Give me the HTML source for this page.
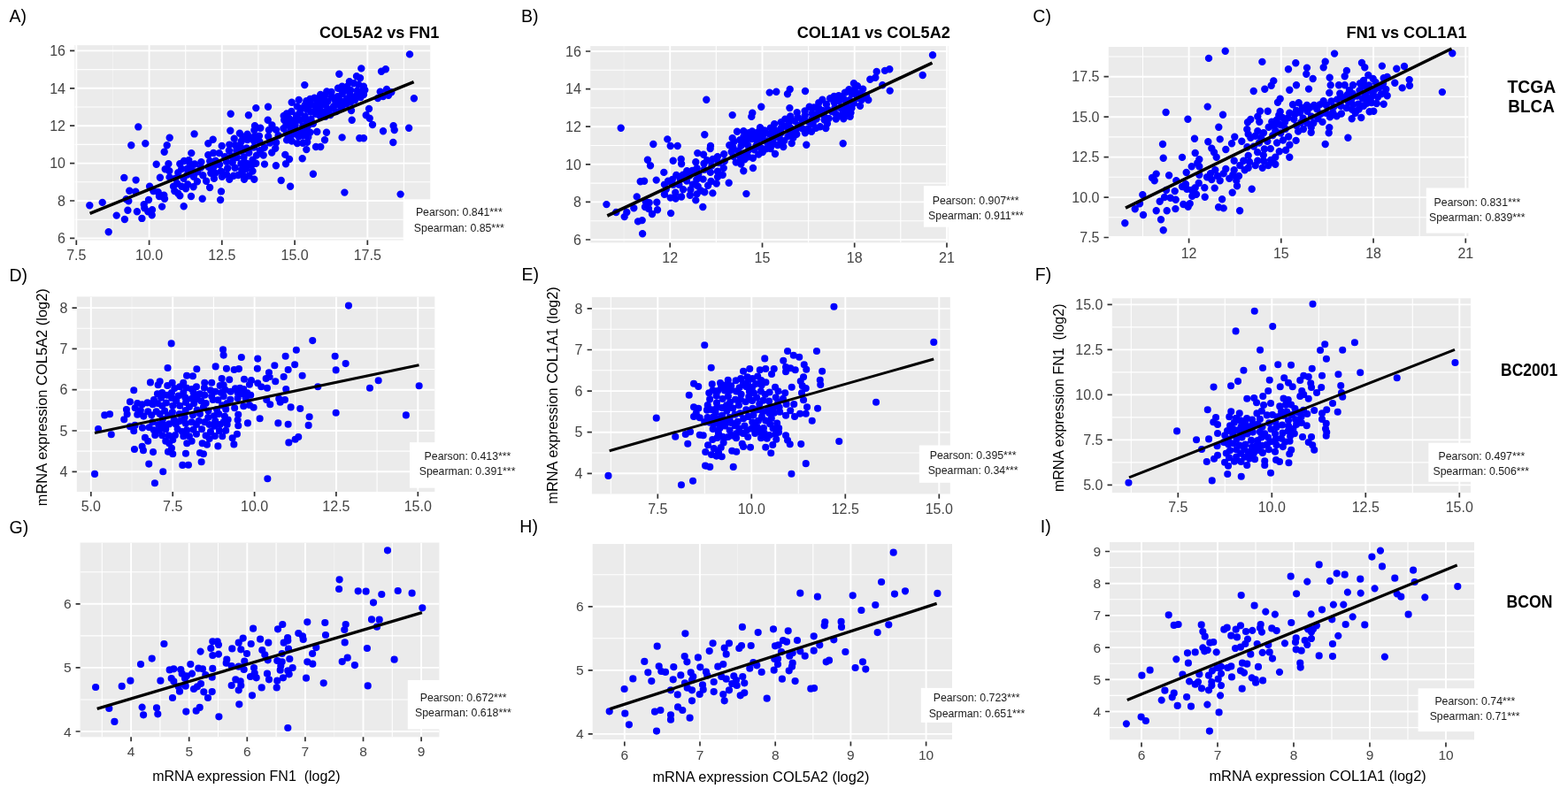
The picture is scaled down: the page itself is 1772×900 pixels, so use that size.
<!DOCTYPE html>
<html lang="en">
<head>
<meta charset="utf-8">
<title>Correlation of COL5A2, COL1A1 and FN1 mRNA expression</title>
<style>
html,body{margin:0;padding:0;background:#fff;}
body{width:1772px;height:900px;overflow:hidden;font-family:'Liberation Sans', Arial, Helvetica, sans-serif;}
svg{display:block;}
</style>
</head>
<body>
<svg width="1772" height="900" viewBox="0 0 1772 900" font-family="'Liberation Sans', Arial, Helvetica, sans-serif">
<rect width="1772" height="900" fill="#fff"/>
<g id="figure">
<g id="panel-A">
<clipPath id="clipA"><rect x="84.3" y="51.1" width="401.9" height="220.5"/></clipPath>
<rect x="84.3" y="51.1" width="401.9" height="220.5" fill="#ebebeb"/>
<g clip-path="url(#clipA)" stroke="#fff" fill="none"><path d="M209.7 51.1V271.6M291.9 51.1V271.6M456.4 51.1V271.6M84.3 248.2H486.2M84.3 205.8H486.2M84.3 163.4H486.2M84.3 121H486.2M84.3 78.6H486.2" stroke-width="1.1"/><path d="M127.4 51.1V271.6" stroke-width="1" stroke-opacity="0.4"/><path d="M86.3 51.1V271.6M168.6 51.1V271.6M250.8 51.1V271.6M333.1 51.1V271.6M415.3 51.1V271.6M84.3 269.4H486.2M84.3 227H486.2M84.3 184.6H486.2M84.3 142.2H486.2M84.3 99.8H486.2M84.3 57.4H486.2" stroke-width="1.9"/></g>
<path class="pts" fill="#0000ff" d="M152.1 143.4a4.2 4.2 0 1 0 8.4 0a4.2 4.2 0 1 0 -8.4 0zM160.1 162.3a4.2 4.2 0 1 0 8.4 0a4.2 4.2 0 1 0 -8.4 0zM144.1 164.3a4.2 4.2 0 1 0 8.4 0a4.2 4.2 0 1 0 -8.4 0zM187.5 155.7a4.2 4.2 0 1 0 8.4 0a4.2 4.2 0 1 0 -8.4 0zM184.5 164.3a4.2 4.2 0 1 0 8.4 0a4.2 4.2 0 1 0 -8.4 0zM215.4 151.4a4.2 4.2 0 1 0 8.4 0a4.2 4.2 0 1 0 -8.4 0zM236.5 157.7a4.2 4.2 0 1 0 8.4 0a4.2 4.2 0 1 0 -8.4 0zM231.1 162.3a4.2 4.2 0 1 0 8.4 0a4.2 4.2 0 1 0 -8.4 0zM246.5 165a4.2 4.2 0 1 0 8.4 0a4.2 4.2 0 1 0 -8.4 0zM256.5 128.7a4.2 4.2 0 1 0 8.4 0a4.2 4.2 0 1 0 -8.4 0zM276.7 130.3a4.2 4.2 0 1 0 8.4 0a4.2 4.2 0 1 0 -8.4 0zM285.1 122.1a4.2 4.2 0 1 0 8.4 0a4.2 4.2 0 1 0 -8.4 0zM256.1 147.7a4.2 4.2 0 1 0 8.4 0a4.2 4.2 0 1 0 -8.4 0zM266.7 150.7a4.2 4.2 0 1 0 8.4 0a4.2 4.2 0 1 0 -8.4 0zM275.4 151.7a4.2 4.2 0 1 0 8.4 0a4.2 4.2 0 1 0 -8.4 0zM260.5 156.7a4.2 4.2 0 1 0 8.4 0a4.2 4.2 0 1 0 -8.4 0zM283.8 142.3a4.2 4.2 0 1 0 8.4 0a4.2 4.2 0 1 0 -8.4 0zM268.5 159.7a4.2 4.2 0 1 0 8.4 0a4.2 4.2 0 1 0 -8.4 0zM261.8 164.3a4.2 4.2 0 1 0 8.4 0a4.2 4.2 0 1 0 -8.4 0zM279.8 155.7a4.2 4.2 0 1 0 8.4 0a4.2 4.2 0 1 0 -8.4 0zM283.8 154.3a4.2 4.2 0 1 0 8.4 0a4.2 4.2 0 1 0 -8.4 0zM181.5 171.7a4.2 4.2 0 1 0 8.4 0a4.2 4.2 0 1 0 -8.4 0zM212.1 173.1a4.2 4.2 0 1 0 8.4 0a4.2 4.2 0 1 0 -8.4 0zM172.5 185.7a4.2 4.2 0 1 0 8.4 0a4.2 4.2 0 1 0 -8.4 0zM186.2 185.3a4.2 4.2 0 1 0 8.4 0a4.2 4.2 0 1 0 -8.4 0zM182.5 191.3a4.2 4.2 0 1 0 8.4 0a4.2 4.2 0 1 0 -8.4 0zM187.1 193.3a4.2 4.2 0 1 0 8.4 0a4.2 4.2 0 1 0 -8.4 0zM199.1 185.3a4.2 4.2 0 1 0 8.4 0a4.2 4.2 0 1 0 -8.4 0zM203.8 182a4.2 4.2 0 1 0 8.4 0a4.2 4.2 0 1 0 -8.4 0zM209.1 181.3a4.2 4.2 0 1 0 8.4 0a4.2 4.2 0 1 0 -8.4 0zM210.5 186a4.2 4.2 0 1 0 8.4 0a4.2 4.2 0 1 0 -8.4 0zM136.1 200.9a4.2 4.2 0 1 0 8.4 0a4.2 4.2 0 1 0 -8.4 0zM149.4 203.6a4.2 4.2 0 1 0 8.4 0a4.2 4.2 0 1 0 -8.4 0zM176.7 200.7a4.2 4.2 0 1 0 8.4 0a4.2 4.2 0 1 0 -8.4 0zM197.1 195.3a4.2 4.2 0 1 0 8.4 0a4.2 4.2 0 1 0 -8.4 0zM164.9 210.7a4.2 4.2 0 1 0 8.4 0a4.2 4.2 0 1 0 -8.4 0zM142.1 215.7a4.2 4.2 0 1 0 8.4 0a4.2 4.2 0 1 0 -8.4 0zM149.1 216.7a4.2 4.2 0 1 0 8.4 0a4.2 4.2 0 1 0 -8.4 0zM97.1 232.3a4.2 4.2 0 1 0 8.4 0a4.2 4.2 0 1 0 -8.4 0zM111.5 228.9a4.2 4.2 0 1 0 8.4 0a4.2 4.2 0 1 0 -8.4 0zM138.5 225.3a4.2 4.2 0 1 0 8.4 0a4.2 4.2 0 1 0 -8.4 0zM141.1 227.3a4.2 4.2 0 1 0 8.4 0a4.2 4.2 0 1 0 -8.4 0zM163.8 226a4.2 4.2 0 1 0 8.4 0a4.2 4.2 0 1 0 -8.4 0zM158.5 231.3a4.2 4.2 0 1 0 8.4 0a4.2 4.2 0 1 0 -8.4 0zM159.1 235.3a4.2 4.2 0 1 0 8.4 0a4.2 4.2 0 1 0 -8.4 0zM140.2 237.7a4.2 4.2 0 1 0 8.4 0a4.2 4.2 0 1 0 -8.4 0zM150.7 239.3a4.2 4.2 0 1 0 8.4 0a4.2 4.2 0 1 0 -8.4 0zM127.5 243.6a4.2 4.2 0 1 0 8.4 0a4.2 4.2 0 1 0 -8.4 0zM136.7 248a4.2 4.2 0 1 0 8.4 0a4.2 4.2 0 1 0 -8.4 0zM156.2 246.9a4.2 4.2 0 1 0 8.4 0a4.2 4.2 0 1 0 -8.4 0zM163.1 239.3a4.2 4.2 0 1 0 8.4 0a4.2 4.2 0 1 0 -8.4 0zM167.8 237.3a4.2 4.2 0 1 0 8.4 0a4.2 4.2 0 1 0 -8.4 0zM167.5 243.3a4.2 4.2 0 1 0 8.4 0a4.2 4.2 0 1 0 -8.4 0zM178.9 233.6a4.2 4.2 0 1 0 8.4 0a4.2 4.2 0 1 0 -8.4 0zM118.5 262.3a4.2 4.2 0 1 0 8.4 0a4.2 4.2 0 1 0 -8.4 0zM169.1 216a4.2 4.2 0 1 0 8.4 0a4.2 4.2 0 1 0 -8.4 0zM174.5 217.3a4.2 4.2 0 1 0 8.4 0a4.2 4.2 0 1 0 -8.4 0zM175.8 222a4.2 4.2 0 1 0 8.4 0a4.2 4.2 0 1 0 -8.4 0zM181.1 220.7a4.2 4.2 0 1 0 8.4 0a4.2 4.2 0 1 0 -8.4 0zM181.8 224.7a4.2 4.2 0 1 0 8.4 0a4.2 4.2 0 1 0 -8.4 0zM191.8 210.7a4.2 4.2 0 1 0 8.4 0a4.2 4.2 0 1 0 -8.4 0zM193.1 216a4.2 4.2 0 1 0 8.4 0a4.2 4.2 0 1 0 -8.4 0zM197.1 218.7a4.2 4.2 0 1 0 8.4 0a4.2 4.2 0 1 0 -8.4 0zM199.1 221.3a4.2 4.2 0 1 0 8.4 0a4.2 4.2 0 1 0 -8.4 0zM201.1 210.7a4.2 4.2 0 1 0 8.4 0a4.2 4.2 0 1 0 -8.4 0zM205.8 213.3a4.2 4.2 0 1 0 8.4 0a4.2 4.2 0 1 0 -8.4 0zM211.8 222a4.2 4.2 0 1 0 8.4 0a4.2 4.2 0 1 0 -8.4 0zM203.5 233.3a4.2 4.2 0 1 0 8.4 0a4.2 4.2 0 1 0 -8.4 0zM224.5 224.7a4.2 4.2 0 1 0 8.4 0a4.2 4.2 0 1 0 -8.4 0zM232.9 212a4.2 4.2 0 1 0 8.4 0a4.2 4.2 0 1 0 -8.4 0zM245.8 216.4a4.2 4.2 0 1 0 8.4 0a4.2 4.2 0 1 0 -8.4 0zM244.9 226a4.2 4.2 0 1 0 8.4 0a4.2 4.2 0 1 0 -8.4 0zM239.1 195.7a4.2 4.2 0 1 0 8.4 0a4.2 4.2 0 1 0 -8.4 0zM251.8 197.3a4.2 4.2 0 1 0 8.4 0a4.2 4.2 0 1 0 -8.4 0zM255.1 202.7a4.2 4.2 0 1 0 8.4 0a4.2 4.2 0 1 0 -8.4 0zM259.8 198.7a4.2 4.2 0 1 0 8.4 0a4.2 4.2 0 1 0 -8.4 0zM265.1 198a4.2 4.2 0 1 0 8.4 0a4.2 4.2 0 1 0 -8.4 0zM269.1 192a4.2 4.2 0 1 0 8.4 0a4.2 4.2 0 1 0 -8.4 0zM271.8 202.7a4.2 4.2 0 1 0 8.4 0a4.2 4.2 0 1 0 -8.4 0zM277.1 198.7a4.2 4.2 0 1 0 8.4 0a4.2 4.2 0 1 0 -8.4 0zM283.1 202.7a4.2 4.2 0 1 0 8.4 0a4.2 4.2 0 1 0 -8.4 0zM285.1 184.7a4.2 4.2 0 1 0 8.4 0a4.2 4.2 0 1 0 -8.4 0zM458.8 61.4a4.2 4.2 0 1 0 8.4 0a4.2 4.2 0 1 0 -8.4 0zM404.1 77.4a4.2 4.2 0 1 0 8.4 0a4.2 4.2 0 1 0 -8.4 0zM426.8 80.7a4.2 4.2 0 1 0 8.4 0a4.2 4.2 0 1 0 -8.4 0zM431.7 78.3a4.2 4.2 0 1 0 8.4 0a4.2 4.2 0 1 0 -8.4 0zM379.1 83.7a4.2 4.2 0 1 0 8.4 0a4.2 4.2 0 1 0 -8.4 0zM340.1 96.1a4.2 4.2 0 1 0 8.4 0a4.2 4.2 0 1 0 -8.4 0zM398.8 86.3a4.2 4.2 0 1 0 8.4 0a4.2 4.2 0 1 0 -8.4 0zM402.8 88.3a4.2 4.2 0 1 0 8.4 0a4.2 4.2 0 1 0 -8.4 0zM408.1 101.7a4.2 4.2 0 1 0 8.4 0a4.2 4.2 0 1 0 -8.4 0zM406.8 107a4.2 4.2 0 1 0 8.4 0a4.2 4.2 0 1 0 -8.4 0zM463.7 111.3a4.2 4.2 0 1 0 8.4 0a4.2 4.2 0 1 0 -8.4 0zM425.5 103.7a4.2 4.2 0 1 0 8.4 0a4.2 4.2 0 1 0 -8.4 0zM432.8 101a4.2 4.2 0 1 0 8.4 0a4.2 4.2 0 1 0 -8.4 0zM438.1 104.3a4.2 4.2 0 1 0 8.4 0a4.2 4.2 0 1 0 -8.4 0zM434.8 107.7a4.2 4.2 0 1 0 8.4 0a4.2 4.2 0 1 0 -8.4 0zM428.8 109a4.2 4.2 0 1 0 8.4 0a4.2 4.2 0 1 0 -8.4 0zM422.8 111a4.2 4.2 0 1 0 8.4 0a4.2 4.2 0 1 0 -8.4 0zM412.8 123a4.2 4.2 0 1 0 8.4 0a4.2 4.2 0 1 0 -8.4 0zM409.5 130.3a4.2 4.2 0 1 0 8.4 0a4.2 4.2 0 1 0 -8.4 0zM413.5 133.7a4.2 4.2 0 1 0 8.4 0a4.2 4.2 0 1 0 -8.4 0zM416.8 141a4.2 4.2 0 1 0 8.4 0a4.2 4.2 0 1 0 -8.4 0zM393.5 135.7a4.2 4.2 0 1 0 8.4 0a4.2 4.2 0 1 0 -8.4 0zM392.8 125a4.2 4.2 0 1 0 8.4 0a4.2 4.2 0 1 0 -8.4 0zM428.8 148.3a4.2 4.2 0 1 0 8.4 0a4.2 4.2 0 1 0 -8.4 0zM440.4 142.3a4.2 4.2 0 1 0 8.4 0a4.2 4.2 0 1 0 -8.4 0zM441.5 147a4.2 4.2 0 1 0 8.4 0a4.2 4.2 0 1 0 -8.4 0zM457.9 144.7a4.2 4.2 0 1 0 8.4 0a4.2 4.2 0 1 0 -8.4 0zM440.1 161a4.2 4.2 0 1 0 8.4 0a4.2 4.2 0 1 0 -8.4 0zM402.1 156.3a4.2 4.2 0 1 0 8.4 0a4.2 4.2 0 1 0 -8.4 0zM406.8 156.3a4.2 4.2 0 1 0 8.4 0a4.2 4.2 0 1 0 -8.4 0zM382.4 155.4a4.2 4.2 0 1 0 8.4 0a4.2 4.2 0 1 0 -8.4 0zM364.8 149.7a4.2 4.2 0 1 0 8.4 0a4.2 4.2 0 1 0 -8.4 0zM362.8 158.3a4.2 4.2 0 1 0 8.4 0a4.2 4.2 0 1 0 -8.4 0zM354.1 149a4.2 4.2 0 1 0 8.4 0a4.2 4.2 0 1 0 -8.4 0zM298.8 120.7a4.2 4.2 0 1 0 8.4 0a4.2 4.2 0 1 0 -8.4 0zM298.5 135.7a4.2 4.2 0 1 0 8.4 0a4.2 4.2 0 1 0 -8.4 0zM316.5 131a4.2 4.2 0 1 0 8.4 0a4.2 4.2 0 1 0 -8.4 0zM325.5 115.7a4.2 4.2 0 1 0 8.4 0a4.2 4.2 0 1 0 -8.4 0zM333.5 113a4.2 4.2 0 1 0 8.4 0a4.2 4.2 0 1 0 -8.4 0zM342.1 114.3a4.2 4.2 0 1 0 8.4 0a4.2 4.2 0 1 0 -8.4 0zM352.8 166a4.2 4.2 0 1 0 8.4 0a4.2 4.2 0 1 0 -8.4 0zM358.1 166a4.2 4.2 0 1 0 8.4 0a4.2 4.2 0 1 0 -8.4 0zM342.1 169.1a4.2 4.2 0 1 0 8.4 0a4.2 4.2 0 1 0 -8.4 0zM337.5 179.3a4.2 4.2 0 1 0 8.4 0a4.2 4.2 0 1 0 -8.4 0zM318.1 174.9a4.2 4.2 0 1 0 8.4 0a4.2 4.2 0 1 0 -8.4 0zM322.8 180a4.2 4.2 0 1 0 8.4 0a4.2 4.2 0 1 0 -8.4 0zM318.8 185.3a4.2 4.2 0 1 0 8.4 0a4.2 4.2 0 1 0 -8.4 0zM307.7 187.3a4.2 4.2 0 1 0 8.4 0a4.2 4.2 0 1 0 -8.4 0zM294.8 185.6a4.2 4.2 0 1 0 8.4 0a4.2 4.2 0 1 0 -8.4 0zM349.7 196.7a4.2 4.2 0 1 0 8.4 0a4.2 4.2 0 1 0 -8.4 0zM313.5 204a4.2 4.2 0 1 0 8.4 0a4.2 4.2 0 1 0 -8.4 0zM323.9 210.7a4.2 4.2 0 1 0 8.4 0a4.2 4.2 0 1 0 -8.4 0zM385.2 217.6a4.2 4.2 0 1 0 8.4 0a4.2 4.2 0 1 0 -8.4 0zM448.4 219.6a4.2 4.2 0 1 0 8.4 0a4.2 4.2 0 1 0 -8.4 0zM329.4 141.8a4.2 4.2 0 1 0 8.4 0a4.2 4.2 0 1 0 -8.4 0zM375.8 126.1a4.2 4.2 0 1 0 8.4 0a4.2 4.2 0 1 0 -8.4 0zM334.4 149.5a4.2 4.2 0 1 0 8.4 0a4.2 4.2 0 1 0 -8.4 0zM363 108a4.2 4.2 0 1 0 8.4 0a4.2 4.2 0 1 0 -8.4 0zM391.5 107.7a4.2 4.2 0 1 0 8.4 0a4.2 4.2 0 1 0 -8.4 0zM328.4 151.4a4.2 4.2 0 1 0 8.4 0a4.2 4.2 0 1 0 -8.4 0zM325.5 159.6a4.2 4.2 0 1 0 8.4 0a4.2 4.2 0 1 0 -8.4 0zM357.8 131.5a4.2 4.2 0 1 0 8.4 0a4.2 4.2 0 1 0 -8.4 0zM347 126.5a4.2 4.2 0 1 0 8.4 0a4.2 4.2 0 1 0 -8.4 0zM398.6 107.9a4.2 4.2 0 1 0 8.4 0a4.2 4.2 0 1 0 -8.4 0zM325.2 125.9a4.2 4.2 0 1 0 8.4 0a4.2 4.2 0 1 0 -8.4 0zM353.5 117.6a4.2 4.2 0 1 0 8.4 0a4.2 4.2 0 1 0 -8.4 0zM362.1 127a4.2 4.2 0 1 0 8.4 0a4.2 4.2 0 1 0 -8.4 0zM335 135.8a4.2 4.2 0 1 0 8.4 0a4.2 4.2 0 1 0 -8.4 0zM347.3 134.9a4.2 4.2 0 1 0 8.4 0a4.2 4.2 0 1 0 -8.4 0zM319.6 151.1a4.2 4.2 0 1 0 8.4 0a4.2 4.2 0 1 0 -8.4 0zM399.6 102.5a4.2 4.2 0 1 0 8.4 0a4.2 4.2 0 1 0 -8.4 0zM395.7 94.2a4.2 4.2 0 1 0 8.4 0a4.2 4.2 0 1 0 -8.4 0zM338 161.9a4.2 4.2 0 1 0 8.4 0a4.2 4.2 0 1 0 -8.4 0zM396.9 113.3a4.2 4.2 0 1 0 8.4 0a4.2 4.2 0 1 0 -8.4 0zM370.8 109.5a4.2 4.2 0 1 0 8.4 0a4.2 4.2 0 1 0 -8.4 0zM377.8 99.8a4.2 4.2 0 1 0 8.4 0a4.2 4.2 0 1 0 -8.4 0zM366.3 114.5a4.2 4.2 0 1 0 8.4 0a4.2 4.2 0 1 0 -8.4 0zM338.1 142.4a4.2 4.2 0 1 0 8.4 0a4.2 4.2 0 1 0 -8.4 0zM406.7 97.7a4.2 4.2 0 1 0 8.4 0a4.2 4.2 0 1 0 -8.4 0zM343.7 142.6a4.2 4.2 0 1 0 8.4 0a4.2 4.2 0 1 0 -8.4 0zM364.2 119.4a4.2 4.2 0 1 0 8.4 0a4.2 4.2 0 1 0 -8.4 0zM343 160.8a4.2 4.2 0 1 0 8.4 0a4.2 4.2 0 1 0 -8.4 0zM382.6 105.7a4.2 4.2 0 1 0 8.4 0a4.2 4.2 0 1 0 -8.4 0zM338.2 153.5a4.2 4.2 0 1 0 8.4 0a4.2 4.2 0 1 0 -8.4 0zM340.5 118.6a4.2 4.2 0 1 0 8.4 0a4.2 4.2 0 1 0 -8.4 0zM351.1 110.7a4.2 4.2 0 1 0 8.4 0a4.2 4.2 0 1 0 -8.4 0zM331.7 162.1a4.2 4.2 0 1 0 8.4 0a4.2 4.2 0 1 0 -8.4 0zM317 135.7a4.2 4.2 0 1 0 8.4 0a4.2 4.2 0 1 0 -8.4 0zM331.6 120.4a4.2 4.2 0 1 0 8.4 0a4.2 4.2 0 1 0 -8.4 0zM392.1 115.6a4.2 4.2 0 1 0 8.4 0a4.2 4.2 0 1 0 -8.4 0zM342.5 137.2a4.2 4.2 0 1 0 8.4 0a4.2 4.2 0 1 0 -8.4 0zM401 95.6a4.2 4.2 0 1 0 8.4 0a4.2 4.2 0 1 0 -8.4 0zM319.8 128.5a4.2 4.2 0 1 0 8.4 0a4.2 4.2 0 1 0 -8.4 0zM330.7 130.6a4.2 4.2 0 1 0 8.4 0a4.2 4.2 0 1 0 -8.4 0zM377.3 109.2a4.2 4.2 0 1 0 8.4 0a4.2 4.2 0 1 0 -8.4 0zM381.8 121.2a4.2 4.2 0 1 0 8.4 0a4.2 4.2 0 1 0 -8.4 0zM358 106.9a4.2 4.2 0 1 0 8.4 0a4.2 4.2 0 1 0 -8.4 0zM370.3 103.9a4.2 4.2 0 1 0 8.4 0a4.2 4.2 0 1 0 -8.4 0zM324.2 139.8a4.2 4.2 0 1 0 8.4 0a4.2 4.2 0 1 0 -8.4 0zM342.3 123.6a4.2 4.2 0 1 0 8.4 0a4.2 4.2 0 1 0 -8.4 0zM374.8 113.7a4.2 4.2 0 1 0 8.4 0a4.2 4.2 0 1 0 -8.4 0zM340.6 148.8a4.2 4.2 0 1 0 8.4 0a4.2 4.2 0 1 0 -8.4 0zM388.2 97.6a4.2 4.2 0 1 0 8.4 0a4.2 4.2 0 1 0 -8.4 0zM372.9 120.1a4.2 4.2 0 1 0 8.4 0a4.2 4.2 0 1 0 -8.4 0zM319.9 158.4a4.2 4.2 0 1 0 8.4 0a4.2 4.2 0 1 0 -8.4 0zM380.8 113.9a4.2 4.2 0 1 0 8.4 0a4.2 4.2 0 1 0 -8.4 0zM363.5 131.7a4.2 4.2 0 1 0 8.4 0a4.2 4.2 0 1 0 -8.4 0zM336.5 122.5a4.2 4.2 0 1 0 8.4 0a4.2 4.2 0 1 0 -8.4 0zM346.2 149.8a4.2 4.2 0 1 0 8.4 0a4.2 4.2 0 1 0 -8.4 0zM387.8 111.5a4.2 4.2 0 1 0 8.4 0a4.2 4.2 0 1 0 -8.4 0zM322.3 133.8a4.2 4.2 0 1 0 8.4 0a4.2 4.2 0 1 0 -8.4 0zM347.2 118.2a4.2 4.2 0 1 0 8.4 0a4.2 4.2 0 1 0 -8.4 0zM344.1 154.9a4.2 4.2 0 1 0 8.4 0a4.2 4.2 0 1 0 -8.4 0zM392 102a4.2 4.2 0 1 0 8.4 0a4.2 4.2 0 1 0 -8.4 0zM324.4 147.3a4.2 4.2 0 1 0 8.4 0a4.2 4.2 0 1 0 -8.4 0zM368.3 124.1a4.2 4.2 0 1 0 8.4 0a4.2 4.2 0 1 0 -8.4 0zM356 111.6a4.2 4.2 0 1 0 8.4 0a4.2 4.2 0 1 0 -8.4 0zM360.4 114.6a4.2 4.2 0 1 0 8.4 0a4.2 4.2 0 1 0 -8.4 0zM340.4 131.4a4.2 4.2 0 1 0 8.4 0a4.2 4.2 0 1 0 -8.4 0zM353.1 122.5a4.2 4.2 0 1 0 8.4 0a4.2 4.2 0 1 0 -8.4 0zM369.1 130.1a4.2 4.2 0 1 0 8.4 0a4.2 4.2 0 1 0 -8.4 0zM316.2 145.3a4.2 4.2 0 1 0 8.4 0a4.2 4.2 0 1 0 -8.4 0zM333.3 154.5a4.2 4.2 0 1 0 8.4 0a4.2 4.2 0 1 0 -8.4 0zM387.3 117.6a4.2 4.2 0 1 0 8.4 0a4.2 4.2 0 1 0 -8.4 0zM334.8 127.2a4.2 4.2 0 1 0 8.4 0a4.2 4.2 0 1 0 -8.4 0zM349.7 139.7a4.2 4.2 0 1 0 8.4 0a4.2 4.2 0 1 0 -8.4 0zM352.6 128.7a4.2 4.2 0 1 0 8.4 0a4.2 4.2 0 1 0 -8.4 0zM319.3 141.1a4.2 4.2 0 1 0 8.4 0a4.2 4.2 0 1 0 -8.4 0zM403.4 110.1a4.2 4.2 0 1 0 8.4 0a4.2 4.2 0 1 0 -8.4 0zM377.7 117.7a4.2 4.2 0 1 0 8.4 0a4.2 4.2 0 1 0 -8.4 0zM357.9 120.2a4.2 4.2 0 1 0 8.4 0a4.2 4.2 0 1 0 -8.4 0zM386.1 102.2a4.2 4.2 0 1 0 8.4 0a4.2 4.2 0 1 0 -8.4 0zM323.9 154.7a4.2 4.2 0 1 0 8.4 0a4.2 4.2 0 1 0 -8.4 0zM357.1 126a4.2 4.2 0 1 0 8.4 0a4.2 4.2 0 1 0 -8.4 0zM382.4 97.6a4.2 4.2 0 1 0 8.4 0a4.2 4.2 0 1 0 -8.4 0zM328 136.2a4.2 4.2 0 1 0 8.4 0a4.2 4.2 0 1 0 -8.4 0zM404.4 103.5a4.2 4.2 0 1 0 8.4 0a4.2 4.2 0 1 0 -8.4 0zM346.3 112a4.2 4.2 0 1 0 8.4 0a4.2 4.2 0 1 0 -8.4 0zM390.7 92.1a4.2 4.2 0 1 0 8.4 0a4.2 4.2 0 1 0 -8.4 0zM365.1 103.5a4.2 4.2 0 1 0 8.4 0a4.2 4.2 0 1 0 -8.4 0zM307.8 146.9a4.2 4.2 0 1 0 8.4 0a4.2 4.2 0 1 0 -8.4 0zM299 154.2a4.2 4.2 0 1 0 8.4 0a4.2 4.2 0 1 0 -8.4 0zM307.9 161.2a4.2 4.2 0 1 0 8.4 0a4.2 4.2 0 1 0 -8.4 0zM274.5 184.7a4.2 4.2 0 1 0 8.4 0a4.2 4.2 0 1 0 -8.4 0zM225.1 198.2a4.2 4.2 0 1 0 8.4 0a4.2 4.2 0 1 0 -8.4 0zM203.3 201.7a4.2 4.2 0 1 0 8.4 0a4.2 4.2 0 1 0 -8.4 0zM249.9 177.1a4.2 4.2 0 1 0 8.4 0a4.2 4.2 0 1 0 -8.4 0zM237.5 188.5a4.2 4.2 0 1 0 8.4 0a4.2 4.2 0 1 0 -8.4 0zM233 182.3a4.2 4.2 0 1 0 8.4 0a4.2 4.2 0 1 0 -8.4 0zM223.2 183.3a4.2 4.2 0 1 0 8.4 0a4.2 4.2 0 1 0 -8.4 0zM254.7 170.3a4.2 4.2 0 1 0 8.4 0a4.2 4.2 0 1 0 -8.4 0zM271.3 177.9a4.2 4.2 0 1 0 8.4 0a4.2 4.2 0 1 0 -8.4 0zM255.1 163.6a4.2 4.2 0 1 0 8.4 0a4.2 4.2 0 1 0 -8.4 0zM237.7 201.9a4.2 4.2 0 1 0 8.4 0a4.2 4.2 0 1 0 -8.4 0zM303 172.5a4.2 4.2 0 1 0 8.4 0a4.2 4.2 0 1 0 -8.4 0zM293.5 175.5a4.2 4.2 0 1 0 8.4 0a4.2 4.2 0 1 0 -8.4 0zM245.7 193.8a4.2 4.2 0 1 0 8.4 0a4.2 4.2 0 1 0 -8.4 0zM207.1 191a4.2 4.2 0 1 0 8.4 0a4.2 4.2 0 1 0 -8.4 0zM234.1 195.7a4.2 4.2 0 1 0 8.4 0a4.2 4.2 0 1 0 -8.4 0zM277.1 172.8a4.2 4.2 0 1 0 8.4 0a4.2 4.2 0 1 0 -8.4 0zM228.9 204.8a4.2 4.2 0 1 0 8.4 0a4.2 4.2 0 1 0 -8.4 0zM282.6 166.6a4.2 4.2 0 1 0 8.4 0a4.2 4.2 0 1 0 -8.4 0zM289.2 160.2a4.2 4.2 0 1 0 8.4 0a4.2 4.2 0 1 0 -8.4 0zM290.1 144.7a4.2 4.2 0 1 0 8.4 0a4.2 4.2 0 1 0 -8.4 0zM246.7 199.8a4.2 4.2 0 1 0 8.4 0a4.2 4.2 0 1 0 -8.4 0zM243.9 186.1a4.2 4.2 0 1 0 8.4 0a4.2 4.2 0 1 0 -8.4 0zM218.7 205.2a4.2 4.2 0 1 0 8.4 0a4.2 4.2 0 1 0 -8.4 0zM253 190.2a4.2 4.2 0 1 0 8.4 0a4.2 4.2 0 1 0 -8.4 0zM258.5 183.8a4.2 4.2 0 1 0 8.4 0a4.2 4.2 0 1 0 -8.4 0zM194.1 201.8a4.2 4.2 0 1 0 8.4 0a4.2 4.2 0 1 0 -8.4 0zM214.7 199.9a4.2 4.2 0 1 0 8.4 0a4.2 4.2 0 1 0 -8.4 0zM294.6 166.8a4.2 4.2 0 1 0 8.4 0a4.2 4.2 0 1 0 -8.4 0zM261.4 189.8a4.2 4.2 0 1 0 8.4 0a4.2 4.2 0 1 0 -8.4 0zM281.3 193.5a4.2 4.2 0 1 0 8.4 0a4.2 4.2 0 1 0 -8.4 0zM237 173a4.2 4.2 0 1 0 8.4 0a4.2 4.2 0 1 0 -8.4 0zM222.8 189.5a4.2 4.2 0 1 0 8.4 0a4.2 4.2 0 1 0 -8.4 0zM285.8 175.6a4.2 4.2 0 1 0 8.4 0a4.2 4.2 0 1 0 -8.4 0zM274.5 167.4a4.2 4.2 0 1 0 8.4 0a4.2 4.2 0 1 0 -8.4 0zM208 208.5a4.2 4.2 0 1 0 8.4 0a4.2 4.2 0 1 0 -8.4 0zM218.8 194.3a4.2 4.2 0 1 0 8.4 0a4.2 4.2 0 1 0 -8.4 0zM282.9 159.5a4.2 4.2 0 1 0 8.4 0a4.2 4.2 0 1 0 -8.4 0zM231.5 188.7a4.2 4.2 0 1 0 8.4 0a4.2 4.2 0 1 0 -8.4 0zM270.4 198a4.2 4.2 0 1 0 8.4 0a4.2 4.2 0 1 0 -8.4 0zM201 191a4.2 4.2 0 1 0 8.4 0a4.2 4.2 0 1 0 -8.4 0zM299.7 147a4.2 4.2 0 1 0 8.4 0a4.2 4.2 0 1 0 -8.4 0zM269.3 171a4.2 4.2 0 1 0 8.4 0a4.2 4.2 0 1 0 -8.4 0zM300.9 161.6a4.2 4.2 0 1 0 8.4 0a4.2 4.2 0 1 0 -8.4 0zM215.8 185.5a4.2 4.2 0 1 0 8.4 0a4.2 4.2 0 1 0 -8.4 0zM239.4 181.7a4.2 4.2 0 1 0 8.4 0a4.2 4.2 0 1 0 -8.4 0zM303.2 141.5a4.2 4.2 0 1 0 8.4 0a4.2 4.2 0 1 0 -8.4 0zM288.7 153.7a4.2 4.2 0 1 0 8.4 0a4.2 4.2 0 1 0 -8.4 0zM268.2 185.1a4.2 4.2 0 1 0 8.4 0a4.2 4.2 0 1 0 -8.4 0zM243.6 173.1a4.2 4.2 0 1 0 8.4 0a4.2 4.2 0 1 0 -8.4 0zM187.4 200.4a4.2 4.2 0 1 0 8.4 0a4.2 4.2 0 1 0 -8.4 0zM231.1 175.2a4.2 4.2 0 1 0 8.4 0a4.2 4.2 0 1 0 -8.4 0zM263.8 178a4.2 4.2 0 1 0 8.4 0a4.2 4.2 0 1 0 -8.4 0zM310.4 153.3a4.2 4.2 0 1 0 8.4 0a4.2 4.2 0 1 0 -8.4 0zM275.4 158a4.2 4.2 0 1 0 8.4 0a4.2 4.2 0 1 0 -8.4 0zM214.4 211.3a4.2 4.2 0 1 0 8.4 0a4.2 4.2 0 1 0 -8.4 0zM283.2 147.3a4.2 4.2 0 1 0 8.4 0a4.2 4.2 0 1 0 -8.4 0zM307 167.8a4.2 4.2 0 1 0 8.4 0a4.2 4.2 0 1 0 -8.4 0zM289.5 170.1a4.2 4.2 0 1 0 8.4 0a4.2 4.2 0 1 0 -8.4 0zM212.9 192.7a4.2 4.2 0 1 0 8.4 0a4.2 4.2 0 1 0 -8.4 0zM196.1 207.5a4.2 4.2 0 1 0 8.4 0a4.2 4.2 0 1 0 -8.4 0zM257.6 176.5a4.2 4.2 0 1 0 8.4 0a4.2 4.2 0 1 0 -8.4 0zM251.7 182.8a4.2 4.2 0 1 0 8.4 0a4.2 4.2 0 1 0 -8.4 0zM281.3 180.8a4.2 4.2 0 1 0 8.4 0a4.2 4.2 0 1 0 -8.4 0zM280.2 186.9a4.2 4.2 0 1 0 8.4 0a4.2 4.2 0 1 0 -8.4 0zM207.5 197.4a4.2 4.2 0 1 0 8.4 0a4.2 4.2 0 1 0 -8.4 0zM270.1 154.4a4.2 4.2 0 1 0 8.4 0a4.2 4.2 0 1 0 -8.4 0zM263.1 170.2a4.2 4.2 0 1 0 8.4 0a4.2 4.2 0 1 0 -8.4 0zM267.2 164.4a4.2 4.2 0 1 0 8.4 0a4.2 4.2 0 1 0 -8.4 0zM274.1 190.9a4.2 4.2 0 1 0 8.4 0a4.2 4.2 0 1 0 -8.4 0z"/>
<line x1="101.6" y1="241.4" x2="467.6" y2="92.6" stroke="#000" stroke-width="3.6"/>
<rect x="455.8" y="225.3" width="124.2" height="49.7" fill="#fff"/>
<text x="518.8" y="243.7" font-size="12.3" text-anchor="middle" fill="#1a1a1a">Pearson: 0.841***</text>
<text x="518.8" y="261.5" font-size="12.3" text-anchor="middle" fill="#1a1a1a">Spearman: 0.85***</text>
<text x="86.3" y="294" font-size="16" text-anchor="middle" fill="#444">7.5</text>
<text x="168.6" y="294" font-size="16" text-anchor="middle" fill="#444">10.0</text>
<text x="250.8" y="294" font-size="16" text-anchor="middle" fill="#444">12.5</text>
<text x="333.1" y="294" font-size="16" text-anchor="middle" fill="#444">15.0</text>
<text x="415.3" y="294" font-size="16" text-anchor="middle" fill="#444">17.5</text>
<text x="74" y="275.1" font-size="16" text-anchor="end" fill="#444">6</text>
<text x="74" y="232.7" font-size="16" text-anchor="end" fill="#444">8</text>
<text x="74" y="190.3" font-size="16" text-anchor="end" fill="#444">10</text>
<text x="74" y="147.9" font-size="16" text-anchor="end" fill="#444">12</text>
<text x="74" y="105.5" font-size="16" text-anchor="end" fill="#444">14</text>
<text x="74" y="63.1" font-size="16" text-anchor="end" fill="#444">16</text>
<path d="M86.3 271.6v5.3M168.6 271.6v5.3M250.8 271.6v5.3M333.1 271.6v5.3M415.3 271.6v5.3M84.3 269.4h-5.3M84.3 227h-5.3M84.3 184.6h-5.3M84.3 142.2h-5.3M84.3 99.8h-5.3M84.3 57.4h-5.3" stroke="#333" stroke-width="1.7" fill="none"/>
<text x="10.5" y="25.2" font-size="19.5" fill="#000">A)</text>
<text x="361" y="43.2" font-size="19" font-weight="bold" textLength="135.4" lengthAdjust="spacingAndGlyphs" fill="#000">COL5A2 vs FN1</text>
</g>
<g id="panel-B">
<clipPath id="clipB"><rect x="667.2" y="52.1" width="404.4" height="222.3"/></clipPath>
<rect x="667.2" y="52.1" width="404.4" height="222.3" fill="#ebebeb"/>
<g clip-path="url(#clipB)" stroke="#fff" fill="none"><path d="M809.3 52.1V274.4M913.6 52.1V274.4M1017.8 52.1V274.4M667.2 249.7H1071.6M667.2 207.1H1071.6M667.2 164.5H1071.6M667.2 121.9H1071.6M667.2 79.3H1071.6" stroke-width="1.1"/><path d="M705.1 52.1V274.4" stroke-width="1" stroke-opacity="0.4"/><path d="M757.2 52.1V274.4M861.5 52.1V274.4M965.7 52.1V274.4M1070 52.1V274.4M667.2 271H1071.6M667.2 228.4H1071.6M667.2 185.8H1071.6M667.2 143.2H1071.6M667.2 100.6H1071.6M667.2 58H1071.6" stroke-width="1.9"/></g>
<path class="pts" fill="#0000ff" d="M697.5 144.7a4.2 4.2 0 1 0 8.4 0a4.2 4.2 0 1 0 -8.4 0zM794.1 112.7a4.2 4.2 0 1 0 8.4 0a4.2 4.2 0 1 0 -8.4 0zM823.5 130.1a4.2 4.2 0 1 0 8.4 0a4.2 4.2 0 1 0 -8.4 0zM846.1 127.7a4.2 4.2 0 1 0 8.4 0a4.2 4.2 0 1 0 -8.4 0zM845.1 131.9a4.2 4.2 0 1 0 8.4 0a4.2 4.2 0 1 0 -8.4 0zM856.1 120.7a4.2 4.2 0 1 0 8.4 0a4.2 4.2 0 1 0 -8.4 0zM865.5 104.6a4.2 4.2 0 1 0 8.4 0a4.2 4.2 0 1 0 -8.4 0zM792.1 152.3a4.2 4.2 0 1 0 8.4 0a4.2 4.2 0 1 0 -8.4 0zM750.1 157.4a4.2 4.2 0 1 0 8.4 0a4.2 4.2 0 1 0 -8.4 0zM734.1 163a4.2 4.2 0 1 0 8.4 0a4.2 4.2 0 1 0 -8.4 0zM854.8 144.3a4.2 4.2 0 1 0 8.4 0a4.2 4.2 0 1 0 -8.4 0zM828.8 148.7a4.2 4.2 0 1 0 8.4 0a4.2 4.2 0 1 0 -8.4 0zM836.1 148.3a4.2 4.2 0 1 0 8.4 0a4.2 4.2 0 1 0 -8.4 0zM842.1 150.3a4.2 4.2 0 1 0 8.4 0a4.2 4.2 0 1 0 -8.4 0zM848.1 151.7a4.2 4.2 0 1 0 8.4 0a4.2 4.2 0 1 0 -8.4 0zM823.5 156.3a4.2 4.2 0 1 0 8.4 0a4.2 4.2 0 1 0 -8.4 0zM832.1 158.3a4.2 4.2 0 1 0 8.4 0a4.2 4.2 0 1 0 -8.4 0zM838.8 159.7a4.2 4.2 0 1 0 8.4 0a4.2 4.2 0 1 0 -8.4 0zM845.5 157a4.2 4.2 0 1 0 8.4 0a4.2 4.2 0 1 0 -8.4 0zM852.1 154.3a4.2 4.2 0 1 0 8.4 0a4.2 4.2 0 1 0 -8.4 0zM858.8 151.7a4.2 4.2 0 1 0 8.4 0a4.2 4.2 0 1 0 -8.4 0zM865.5 151.7a4.2 4.2 0 1 0 8.4 0a4.2 4.2 0 1 0 -8.4 0zM820.1 164.3a4.2 4.2 0 1 0 8.4 0a4.2 4.2 0 1 0 -8.4 0zM753.5 165a4.2 4.2 0 1 0 8.4 0a4.2 4.2 0 1 0 -8.4 0zM761.5 165a4.2 4.2 0 1 0 8.4 0a4.2 4.2 0 1 0 -8.4 0zM798.8 165a4.2 4.2 0 1 0 8.4 0a4.2 4.2 0 1 0 -8.4 0zM798.5 168a4.2 4.2 0 1 0 8.4 0a4.2 4.2 0 1 0 -8.4 0zM784.1 173.1a4.2 4.2 0 1 0 8.4 0a4.2 4.2 0 1 0 -8.4 0zM790.8 174.7a4.2 4.2 0 1 0 8.4 0a4.2 4.2 0 1 0 -8.4 0zM727.7 180.7a4.2 4.2 0 1 0 8.4 0a4.2 4.2 0 1 0 -8.4 0zM730.8 187.3a4.2 4.2 0 1 0 8.4 0a4.2 4.2 0 1 0 -8.4 0zM756.5 181.7a4.2 4.2 0 1 0 8.4 0a4.2 4.2 0 1 0 -8.4 0zM765.5 180a4.2 4.2 0 1 0 8.4 0a4.2 4.2 0 1 0 -8.4 0zM765.9 185.3a4.2 4.2 0 1 0 8.4 0a4.2 4.2 0 1 0 -8.4 0zM782.1 183.3a4.2 4.2 0 1 0 8.4 0a4.2 4.2 0 1 0 -8.4 0zM794.8 181.3a4.2 4.2 0 1 0 8.4 0a4.2 4.2 0 1 0 -8.4 0zM746.1 194.9a4.2 4.2 0 1 0 8.4 0a4.2 4.2 0 1 0 -8.4 0zM760.1 198a4.2 4.2 0 1 0 8.4 0a4.2 4.2 0 1 0 -8.4 0zM719.5 205.3a4.2 4.2 0 1 0 8.4 0a4.2 4.2 0 1 0 -8.4 0zM723.9 204.7a4.2 4.2 0 1 0 8.4 0a4.2 4.2 0 1 0 -8.4 0zM737.5 203.6a4.2 4.2 0 1 0 8.4 0a4.2 4.2 0 1 0 -8.4 0zM750.8 204.7a4.2 4.2 0 1 0 8.4 0a4.2 4.2 0 1 0 -8.4 0zM772.1 193.3a4.2 4.2 0 1 0 8.4 0a4.2 4.2 0 1 0 -8.4 0zM715.5 222.4a4.2 4.2 0 1 0 8.4 0a4.2 4.2 0 1 0 -8.4 0zM681.2 231.1a4.2 4.2 0 1 0 8.4 0a4.2 4.2 0 1 0 -8.4 0zM692.1 240a4.2 4.2 0 1 0 8.4 0a4.2 4.2 0 1 0 -8.4 0zM704.1 240a4.2 4.2 0 1 0 8.4 0a4.2 4.2 0 1 0 -8.4 0zM701.5 245.1a4.2 4.2 0 1 0 8.4 0a4.2 4.2 0 1 0 -8.4 0zM712.1 235.3a4.2 4.2 0 1 0 8.4 0a4.2 4.2 0 1 0 -8.4 0zM725.5 228a4.2 4.2 0 1 0 8.4 0a4.2 4.2 0 1 0 -8.4 0zM729.5 229.3a4.2 4.2 0 1 0 8.4 0a4.2 4.2 0 1 0 -8.4 0zM724.8 234a4.2 4.2 0 1 0 8.4 0a4.2 4.2 0 1 0 -8.4 0zM728.8 236a4.2 4.2 0 1 0 8.4 0a4.2 4.2 0 1 0 -8.4 0zM738.1 228.7a4.2 4.2 0 1 0 8.4 0a4.2 4.2 0 1 0 -8.4 0zM738.8 237.3a4.2 4.2 0 1 0 8.4 0a4.2 4.2 0 1 0 -8.4 0zM732.8 242a4.2 4.2 0 1 0 8.4 0a4.2 4.2 0 1 0 -8.4 0zM716.8 250.4a4.2 4.2 0 1 0 8.4 0a4.2 4.2 0 1 0 -8.4 0zM721.5 249.1a4.2 4.2 0 1 0 8.4 0a4.2 4.2 0 1 0 -8.4 0zM721.9 264.3a4.2 4.2 0 1 0 8.4 0a4.2 4.2 0 1 0 -8.4 0zM753.9 241.1a4.2 4.2 0 1 0 8.4 0a4.2 4.2 0 1 0 -8.4 0zM790.1 234a4.2 4.2 0 1 0 8.4 0a4.2 4.2 0 1 0 -8.4 0zM782.1 226.4a4.2 4.2 0 1 0 8.4 0a4.2 4.2 0 1 0 -8.4 0zM801.2 218.4a4.2 4.2 0 1 0 8.4 0a4.2 4.2 0 1 0 -8.4 0zM792.1 217.3a4.2 4.2 0 1 0 8.4 0a4.2 4.2 0 1 0 -8.4 0zM839.2 219.1a4.2 4.2 0 1 0 8.4 0a4.2 4.2 0 1 0 -8.4 0zM819.5 206.7a4.2 4.2 0 1 0 8.4 0a4.2 4.2 0 1 0 -8.4 0zM846.8 190a4.2 4.2 0 1 0 8.4 0a4.2 4.2 0 1 0 -8.4 0zM836.1 193.3a4.2 4.2 0 1 0 8.4 0a4.2 4.2 0 1 0 -8.4 0zM1049.8 62.3a4.2 4.2 0 1 0 8.4 0a4.2 4.2 0 1 0 -8.4 0zM1038.5 85a4.2 4.2 0 1 0 8.4 0a4.2 4.2 0 1 0 -8.4 0zM1001.5 102.6a4.2 4.2 0 1 0 8.4 0a4.2 4.2 0 1 0 -8.4 0zM993.1 96.3a4.2 4.2 0 1 0 8.4 0a4.2 4.2 0 1 0 -8.4 0zM1001.1 78.3a4.2 4.2 0 1 0 8.4 0a4.2 4.2 0 1 0 -8.4 0zM995.8 79.9a4.2 4.2 0 1 0 8.4 0a4.2 4.2 0 1 0 -8.4 0zM986.5 81a4.2 4.2 0 1 0 8.4 0a4.2 4.2 0 1 0 -8.4 0zM979.1 89.7a4.2 4.2 0 1 0 8.4 0a4.2 4.2 0 1 0 -8.4 0zM985.1 87.7a4.2 4.2 0 1 0 8.4 0a4.2 4.2 0 1 0 -8.4 0zM960.7 94.3a4.2 4.2 0 1 0 8.4 0a4.2 4.2 0 1 0 -8.4 0zM905.8 103a4.2 4.2 0 1 0 8.4 0a4.2 4.2 0 1 0 -8.4 0zM888.5 101a4.2 4.2 0 1 0 8.4 0a4.2 4.2 0 1 0 -8.4 0zM885.8 106.3a4.2 4.2 0 1 0 8.4 0a4.2 4.2 0 1 0 -8.4 0zM873.1 103.7a4.2 4.2 0 1 0 8.4 0a4.2 4.2 0 1 0 -8.4 0zM888.2 122.1a4.2 4.2 0 1 0 8.4 0a4.2 4.2 0 1 0 -8.4 0zM948.5 162.3a4.2 4.2 0 1 0 8.4 0a4.2 4.2 0 1 0 -8.4 0zM907.1 163.7a4.2 4.2 0 1 0 8.4 0a4.2 4.2 0 1 0 -8.4 0zM929.1 145a4.2 4.2 0 1 0 8.4 0a4.2 4.2 0 1 0 -8.4 0zM956.5 131.7a4.2 4.2 0 1 0 8.4 0a4.2 4.2 0 1 0 -8.4 0zM949.1 134.3a4.2 4.2 0 1 0 8.4 0a4.2 4.2 0 1 0 -8.4 0zM967.8 119.7a4.2 4.2 0 1 0 8.4 0a4.2 4.2 0 1 0 -8.4 0zM977.1 113a4.2 4.2 0 1 0 8.4 0a4.2 4.2 0 1 0 -8.4 0zM871.8 174a4.2 4.2 0 1 0 8.4 0a4.2 4.2 0 1 0 -8.4 0zM881.1 166a4.2 4.2 0 1 0 8.4 0a4.2 4.2 0 1 0 -8.4 0zM890.5 162a4.2 4.2 0 1 0 8.4 0a4.2 4.2 0 1 0 -8.4 0zM866.5 168a4.2 4.2 0 1 0 8.4 0a4.2 4.2 0 1 0 -8.4 0zM874.5 164a4.2 4.2 0 1 0 8.4 0a4.2 4.2 0 1 0 -8.4 0zM961.6 101.1a4.2 4.2 0 1 0 8.4 0a4.2 4.2 0 1 0 -8.4 0zM913.5 134.2a4.2 4.2 0 1 0 8.4 0a4.2 4.2 0 1 0 -8.4 0zM932.4 134a4.2 4.2 0 1 0 8.4 0a4.2 4.2 0 1 0 -8.4 0zM940.4 128.9a4.2 4.2 0 1 0 8.4 0a4.2 4.2 0 1 0 -8.4 0zM949.3 112a4.2 4.2 0 1 0 8.4 0a4.2 4.2 0 1 0 -8.4 0zM822.5 171.8a4.2 4.2 0 1 0 8.4 0a4.2 4.2 0 1 0 -8.4 0zM921.1 116.2a4.2 4.2 0 1 0 8.4 0a4.2 4.2 0 1 0 -8.4 0zM836.2 154.4a4.2 4.2 0 1 0 8.4 0a4.2 4.2 0 1 0 -8.4 0zM872 147.4a4.2 4.2 0 1 0 8.4 0a4.2 4.2 0 1 0 -8.4 0zM952.5 117.2a4.2 4.2 0 1 0 8.4 0a4.2 4.2 0 1 0 -8.4 0zM971 100.6a4.2 4.2 0 1 0 8.4 0a4.2 4.2 0 1 0 -8.4 0zM908.7 145.7a4.2 4.2 0 1 0 8.4 0a4.2 4.2 0 1 0 -8.4 0zM894.1 136.8a4.2 4.2 0 1 0 8.4 0a4.2 4.2 0 1 0 -8.4 0zM841.5 177.4a4.2 4.2 0 1 0 8.4 0a4.2 4.2 0 1 0 -8.4 0zM851.4 159.3a4.2 4.2 0 1 0 8.4 0a4.2 4.2 0 1 0 -8.4 0zM930.7 139.7a4.2 4.2 0 1 0 8.4 0a4.2 4.2 0 1 0 -8.4 0zM832.6 178.3a4.2 4.2 0 1 0 8.4 0a4.2 4.2 0 1 0 -8.4 0zM915.6 121.4a4.2 4.2 0 1 0 8.4 0a4.2 4.2 0 1 0 -8.4 0zM895.2 146.9a4.2 4.2 0 1 0 8.4 0a4.2 4.2 0 1 0 -8.4 0zM833.3 164.9a4.2 4.2 0 1 0 8.4 0a4.2 4.2 0 1 0 -8.4 0zM882.1 159.1a4.2 4.2 0 1 0 8.4 0a4.2 4.2 0 1 0 -8.4 0zM964.7 110.8a4.2 4.2 0 1 0 8.4 0a4.2 4.2 0 1 0 -8.4 0zM841.1 164.2a4.2 4.2 0 1 0 8.4 0a4.2 4.2 0 1 0 -8.4 0zM955.9 113.1a4.2 4.2 0 1 0 8.4 0a4.2 4.2 0 1 0 -8.4 0zM917.9 144.9a4.2 4.2 0 1 0 8.4 0a4.2 4.2 0 1 0 -8.4 0zM876.7 156.4a4.2 4.2 0 1 0 8.4 0a4.2 4.2 0 1 0 -8.4 0zM869.2 158.3a4.2 4.2 0 1 0 8.4 0a4.2 4.2 0 1 0 -8.4 0zM918.5 134.6a4.2 4.2 0 1 0 8.4 0a4.2 4.2 0 1 0 -8.4 0zM945.3 121.7a4.2 4.2 0 1 0 8.4 0a4.2 4.2 0 1 0 -8.4 0zM836.5 173.5a4.2 4.2 0 1 0 8.4 0a4.2 4.2 0 1 0 -8.4 0zM850.4 164.5a4.2 4.2 0 1 0 8.4 0a4.2 4.2 0 1 0 -8.4 0zM841.1 170.6a4.2 4.2 0 1 0 8.4 0a4.2 4.2 0 1 0 -8.4 0zM902.4 145.2a4.2 4.2 0 1 0 8.4 0a4.2 4.2 0 1 0 -8.4 0zM846.7 178.7a4.2 4.2 0 1 0 8.4 0a4.2 4.2 0 1 0 -8.4 0zM866.5 144.6a4.2 4.2 0 1 0 8.4 0a4.2 4.2 0 1 0 -8.4 0zM896.5 127.2a4.2 4.2 0 1 0 8.4 0a4.2 4.2 0 1 0 -8.4 0zM960.6 116.9a4.2 4.2 0 1 0 8.4 0a4.2 4.2 0 1 0 -8.4 0zM929.7 117.9a4.2 4.2 0 1 0 8.4 0a4.2 4.2 0 1 0 -8.4 0zM935.9 126a4.2 4.2 0 1 0 8.4 0a4.2 4.2 0 1 0 -8.4 0zM905.7 150.2a4.2 4.2 0 1 0 8.4 0a4.2 4.2 0 1 0 -8.4 0zM957.3 127.6a4.2 4.2 0 1 0 8.4 0a4.2 4.2 0 1 0 -8.4 0zM920.8 121.6a4.2 4.2 0 1 0 8.4 0a4.2 4.2 0 1 0 -8.4 0zM964.7 97.1a4.2 4.2 0 1 0 8.4 0a4.2 4.2 0 1 0 -8.4 0zM871 140.1a4.2 4.2 0 1 0 8.4 0a4.2 4.2 0 1 0 -8.4 0zM824.1 166.4a4.2 4.2 0 1 0 8.4 0a4.2 4.2 0 1 0 -8.4 0zM931 123.6a4.2 4.2 0 1 0 8.4 0a4.2 4.2 0 1 0 -8.4 0zM943.6 108.3a4.2 4.2 0 1 0 8.4 0a4.2 4.2 0 1 0 -8.4 0zM933.9 111.3a4.2 4.2 0 1 0 8.4 0a4.2 4.2 0 1 0 -8.4 0zM892.2 155.7a4.2 4.2 0 1 0 8.4 0a4.2 4.2 0 1 0 -8.4 0zM909.6 137.6a4.2 4.2 0 1 0 8.4 0a4.2 4.2 0 1 0 -8.4 0zM969.5 107.6a4.2 4.2 0 1 0 8.4 0a4.2 4.2 0 1 0 -8.4 0zM948.5 126.5a4.2 4.2 0 1 0 8.4 0a4.2 4.2 0 1 0 -8.4 0zM913.4 128.2a4.2 4.2 0 1 0 8.4 0a4.2 4.2 0 1 0 -8.4 0zM938.5 115.8a4.2 4.2 0 1 0 8.4 0a4.2 4.2 0 1 0 -8.4 0zM861.4 159.2a4.2 4.2 0 1 0 8.4 0a4.2 4.2 0 1 0 -8.4 0zM878.5 150.3a4.2 4.2 0 1 0 8.4 0a4.2 4.2 0 1 0 -8.4 0zM922.6 143.2a4.2 4.2 0 1 0 8.4 0a4.2 4.2 0 1 0 -8.4 0zM902.8 136.4a4.2 4.2 0 1 0 8.4 0a4.2 4.2 0 1 0 -8.4 0zM883.1 134.6a4.2 4.2 0 1 0 8.4 0a4.2 4.2 0 1 0 -8.4 0zM927.4 135.6a4.2 4.2 0 1 0 8.4 0a4.2 4.2 0 1 0 -8.4 0zM919.9 128.5a4.2 4.2 0 1 0 8.4 0a4.2 4.2 0 1 0 -8.4 0zM945.3 131.1a4.2 4.2 0 1 0 8.4 0a4.2 4.2 0 1 0 -8.4 0zM848.3 169.3a4.2 4.2 0 1 0 8.4 0a4.2 4.2 0 1 0 -8.4 0zM905.4 125.4a4.2 4.2 0 1 0 8.4 0a4.2 4.2 0 1 0 -8.4 0zM827.5 183.6a4.2 4.2 0 1 0 8.4 0a4.2 4.2 0 1 0 -8.4 0zM958.3 106.3a4.2 4.2 0 1 0 8.4 0a4.2 4.2 0 1 0 -8.4 0zM855.9 167.2a4.2 4.2 0 1 0 8.4 0a4.2 4.2 0 1 0 -8.4 0zM896.1 151.8a4.2 4.2 0 1 0 8.4 0a4.2 4.2 0 1 0 -8.4 0zM889.2 144.6a4.2 4.2 0 1 0 8.4 0a4.2 4.2 0 1 0 -8.4 0zM851.9 149.8a4.2 4.2 0 1 0 8.4 0a4.2 4.2 0 1 0 -8.4 0zM845.8 148.4a4.2 4.2 0 1 0 8.4 0a4.2 4.2 0 1 0 -8.4 0zM964.7 105.2a4.2 4.2 0 1 0 8.4 0a4.2 4.2 0 1 0 -8.4 0zM886.3 154.1a4.2 4.2 0 1 0 8.4 0a4.2 4.2 0 1 0 -8.4 0zM861.6 168.4a4.2 4.2 0 1 0 8.4 0a4.2 4.2 0 1 0 -8.4 0zM884.2 143a4.2 4.2 0 1 0 8.4 0a4.2 4.2 0 1 0 -8.4 0zM859.6 147.4a4.2 4.2 0 1 0 8.4 0a4.2 4.2 0 1 0 -8.4 0zM872.6 153.2a4.2 4.2 0 1 0 8.4 0a4.2 4.2 0 1 0 -8.4 0zM825.3 160a4.2 4.2 0 1 0 8.4 0a4.2 4.2 0 1 0 -8.4 0zM969.4 113a4.2 4.2 0 1 0 8.4 0a4.2 4.2 0 1 0 -8.4 0zM830.2 170.5a4.2 4.2 0 1 0 8.4 0a4.2 4.2 0 1 0 -8.4 0zM950.7 104.7a4.2 4.2 0 1 0 8.4 0a4.2 4.2 0 1 0 -8.4 0zM878.6 144.6a4.2 4.2 0 1 0 8.4 0a4.2 4.2 0 1 0 -8.4 0zM910.5 120.8a4.2 4.2 0 1 0 8.4 0a4.2 4.2 0 1 0 -8.4 0zM824.5 176.9a4.2 4.2 0 1 0 8.4 0a4.2 4.2 0 1 0 -8.4 0zM888.9 149.6a4.2 4.2 0 1 0 8.4 0a4.2 4.2 0 1 0 -8.4 0zM878.4 162.7a4.2 4.2 0 1 0 8.4 0a4.2 4.2 0 1 0 -8.4 0zM897.4 132.6a4.2 4.2 0 1 0 8.4 0a4.2 4.2 0 1 0 -8.4 0zM925.2 124.9a4.2 4.2 0 1 0 8.4 0a4.2 4.2 0 1 0 -8.4 0zM944.2 114a4.2 4.2 0 1 0 8.4 0a4.2 4.2 0 1 0 -8.4 0zM905.5 130.8a4.2 4.2 0 1 0 8.4 0a4.2 4.2 0 1 0 -8.4 0zM952.5 130.7a4.2 4.2 0 1 0 8.4 0a4.2 4.2 0 1 0 -8.4 0zM853.1 174.6a4.2 4.2 0 1 0 8.4 0a4.2 4.2 0 1 0 -8.4 0zM939.3 121.8a4.2 4.2 0 1 0 8.4 0a4.2 4.2 0 1 0 -8.4 0zM952.2 122.7a4.2 4.2 0 1 0 8.4 0a4.2 4.2 0 1 0 -8.4 0zM837.2 180.4a4.2 4.2 0 1 0 8.4 0a4.2 4.2 0 1 0 -8.4 0zM914.5 140.3a4.2 4.2 0 1 0 8.4 0a4.2 4.2 0 1 0 -8.4 0zM887.7 138.1a4.2 4.2 0 1 0 8.4 0a4.2 4.2 0 1 0 -8.4 0zM940.6 134.5a4.2 4.2 0 1 0 8.4 0a4.2 4.2 0 1 0 -8.4 0zM833.2 185.6a4.2 4.2 0 1 0 8.4 0a4.2 4.2 0 1 0 -8.4 0zM938.4 109a4.2 4.2 0 1 0 8.4 0a4.2 4.2 0 1 0 -8.4 0zM857.6 172a4.2 4.2 0 1 0 8.4 0a4.2 4.2 0 1 0 -8.4 0zM958.3 122.3a4.2 4.2 0 1 0 8.4 0a4.2 4.2 0 1 0 -8.4 0zM974.8 108.2a4.2 4.2 0 1 0 8.4 0a4.2 4.2 0 1 0 -8.4 0zM889 131.5a4.2 4.2 0 1 0 8.4 0a4.2 4.2 0 1 0 -8.4 0zM856.8 156a4.2 4.2 0 1 0 8.4 0a4.2 4.2 0 1 0 -8.4 0zM926.7 130.4a4.2 4.2 0 1 0 8.4 0a4.2 4.2 0 1 0 -8.4 0zM897.9 141.8a4.2 4.2 0 1 0 8.4 0a4.2 4.2 0 1 0 -8.4 0zM878.5 138.3a4.2 4.2 0 1 0 8.4 0a4.2 4.2 0 1 0 -8.4 0zM868.7 163.5a4.2 4.2 0 1 0 8.4 0a4.2 4.2 0 1 0 -8.4 0zM863.6 163.7a4.2 4.2 0 1 0 8.4 0a4.2 4.2 0 1 0 -8.4 0zM925.2 112.6a4.2 4.2 0 1 0 8.4 0a4.2 4.2 0 1 0 -8.4 0zM955.3 101.2a4.2 4.2 0 1 0 8.4 0a4.2 4.2 0 1 0 -8.4 0zM841.9 154.7a4.2 4.2 0 1 0 8.4 0a4.2 4.2 0 1 0 -8.4 0zM912.9 148.7a4.2 4.2 0 1 0 8.4 0a4.2 4.2 0 1 0 -8.4 0zM756.5 208.8a4.2 4.2 0 1 0 8.4 0a4.2 4.2 0 1 0 -8.4 0zM748.6 214.1a4.2 4.2 0 1 0 8.4 0a4.2 4.2 0 1 0 -8.4 0zM775.6 220.8a4.2 4.2 0 1 0 8.4 0a4.2 4.2 0 1 0 -8.4 0zM798.6 194.9a4.2 4.2 0 1 0 8.4 0a4.2 4.2 0 1 0 -8.4 0zM806.7 177.3a4.2 4.2 0 1 0 8.4 0a4.2 4.2 0 1 0 -8.4 0zM783.4 190.2a4.2 4.2 0 1 0 8.4 0a4.2 4.2 0 1 0 -8.4 0zM765.9 222.5a4.2 4.2 0 1 0 8.4 0a4.2 4.2 0 1 0 -8.4 0zM808 184a4.2 4.2 0 1 0 8.4 0a4.2 4.2 0 1 0 -8.4 0zM778.6 208.8a4.2 4.2 0 1 0 8.4 0a4.2 4.2 0 1 0 -8.4 0zM791.6 191.7a4.2 4.2 0 1 0 8.4 0a4.2 4.2 0 1 0 -8.4 0zM776.2 214.5a4.2 4.2 0 1 0 8.4 0a4.2 4.2 0 1 0 -8.4 0zM783.1 203a4.2 4.2 0 1 0 8.4 0a4.2 4.2 0 1 0 -8.4 0zM800.3 187.2a4.2 4.2 0 1 0 8.4 0a4.2 4.2 0 1 0 -8.4 0zM806.8 200.1a4.2 4.2 0 1 0 8.4 0a4.2 4.2 0 1 0 -8.4 0zM784.5 210.6a4.2 4.2 0 1 0 8.4 0a4.2 4.2 0 1 0 -8.4 0zM799.3 205a4.2 4.2 0 1 0 8.4 0a4.2 4.2 0 1 0 -8.4 0zM814.6 182.2a4.2 4.2 0 1 0 8.4 0a4.2 4.2 0 1 0 -8.4 0zM785.1 196.8a4.2 4.2 0 1 0 8.4 0a4.2 4.2 0 1 0 -8.4 0zM767.8 214.3a4.2 4.2 0 1 0 8.4 0a4.2 4.2 0 1 0 -8.4 0zM790.4 202.6a4.2 4.2 0 1 0 8.4 0a4.2 4.2 0 1 0 -8.4 0zM813.5 190a4.2 4.2 0 1 0 8.4 0a4.2 4.2 0 1 0 -8.4 0zM759.1 217.8a4.2 4.2 0 1 0 8.4 0a4.2 4.2 0 1 0 -8.4 0zM795.9 209.8a4.2 4.2 0 1 0 8.4 0a4.2 4.2 0 1 0 -8.4 0zM763.2 208.9a4.2 4.2 0 1 0 8.4 0a4.2 4.2 0 1 0 -8.4 0zM759.4 224.5a4.2 4.2 0 1 0 8.4 0a4.2 4.2 0 1 0 -8.4 0zM801.4 180a4.2 4.2 0 1 0 8.4 0a4.2 4.2 0 1 0 -8.4 0zM775 198.6a4.2 4.2 0 1 0 8.4 0a4.2 4.2 0 1 0 -8.4 0zM806.7 193.7a4.2 4.2 0 1 0 8.4 0a4.2 4.2 0 1 0 -8.4 0zM791.3 185a4.2 4.2 0 1 0 8.4 0a4.2 4.2 0 1 0 -8.4 0zM764.6 203.1a4.2 4.2 0 1 0 8.4 0a4.2 4.2 0 1 0 -8.4 0zM771.8 204.6a4.2 4.2 0 1 0 8.4 0a4.2 4.2 0 1 0 -8.4 0zM755.6 202.9a4.2 4.2 0 1 0 8.4 0a4.2 4.2 0 1 0 -8.4 0zM783.3 219.4a4.2 4.2 0 1 0 8.4 0a4.2 4.2 0 1 0 -8.4 0zM753.5 223.6a4.2 4.2 0 1 0 8.4 0a4.2 4.2 0 1 0 -8.4 0zM767.6 197.6a4.2 4.2 0 1 0 8.4 0a4.2 4.2 0 1 0 -8.4 0zM805.5 207.5a4.2 4.2 0 1 0 8.4 0a4.2 4.2 0 1 0 -8.4 0zM778.1 192.9a4.2 4.2 0 1 0 8.4 0a4.2 4.2 0 1 0 -8.4 0zM814 174.3a4.2 4.2 0 1 0 8.4 0a4.2 4.2 0 1 0 -8.4 0zM746.7 208.6a4.2 4.2 0 1 0 8.4 0a4.2 4.2 0 1 0 -8.4 0zM746.7 219.8a4.2 4.2 0 1 0 8.4 0a4.2 4.2 0 1 0 -8.4 0zM812.5 197.7a4.2 4.2 0 1 0 8.4 0a4.2 4.2 0 1 0 -8.4 0zM787.8 215.5a4.2 4.2 0 1 0 8.4 0a4.2 4.2 0 1 0 -8.4 0z"/>
<line x1="686.3" y1="244" x2="1053.5" y2="71.1" stroke="#000" stroke-width="3.6"/>
<rect x="1043.9" y="210.1" width="121.1" height="46.6" fill="#fff"/>
<text x="1102.6" y="230.5" font-size="12.3" text-anchor="middle" fill="#1a1a1a">Pearson: 0.907***</text>
<text x="1103" y="247.6" font-size="12.3" text-anchor="middle" fill="#1a1a1a">Spearman: 0.911***</text>
<text x="757.2" y="296.8" font-size="16" text-anchor="middle" fill="#444">12</text>
<text x="861.5" y="296.8" font-size="16" text-anchor="middle" fill="#444">15</text>
<text x="965.7" y="296.8" font-size="16" text-anchor="middle" fill="#444">18</text>
<text x="1070" y="296.8" font-size="16" text-anchor="middle" fill="#444">21</text>
<text x="656.9" y="276.7" font-size="16" text-anchor="end" fill="#444">6</text>
<text x="656.9" y="234.1" font-size="16" text-anchor="end" fill="#444">8</text>
<text x="656.9" y="191.5" font-size="16" text-anchor="end" fill="#444">10</text>
<text x="656.9" y="148.9" font-size="16" text-anchor="end" fill="#444">12</text>
<text x="656.9" y="106.3" font-size="16" text-anchor="end" fill="#444">14</text>
<text x="656.9" y="63.7" font-size="16" text-anchor="end" fill="#444">16</text>
<path d="M757.2 274.4v5.3M861.5 274.4v5.3M965.7 274.4v5.3M1070 274.4v5.3M667.2 271h-5.3M667.2 228.4h-5.3M667.2 185.8h-5.3M667.2 143.2h-5.3M667.2 100.6h-5.3M667.2 58h-5.3" stroke="#333" stroke-width="1.7" fill="none"/>
<text x="589" y="25.2" font-size="19.5" fill="#000">B)</text>
<text x="900.7" y="43.2" font-size="19" font-weight="bold" textLength="173.1" lengthAdjust="spacingAndGlyphs" fill="#000">COL1A1 vs COL5A2</text>
</g>
<g id="panel-C">
<clipPath id="clipC"><rect x="1252.8" y="53" width="406.7" height="214"/></clipPath>
<rect x="1252.8" y="53" width="406.7" height="214" fill="#ebebeb"/>
<g clip-path="url(#clipC)" stroke="#fff" fill="none"><path d="M1291.5 53V267M1395.7 53V267M1500 53V267M1604.2 53V267M1252.8 245.8H1659.5M1252.8 200.3H1659.5M1252.8 154.9H1659.5M1252.8 109.4H1659.5M1252.8 64H1659.5" stroke-width="1.1"/><path d="M1343.6 53V267M1447.8 53V267M1552.1 53V267M1656.3 53V267M1252.8 223.1H1659.5M1252.8 177.6H1659.5M1252.8 132.2H1659.5M1252.8 86.7H1659.5" stroke-width="1.9"/></g>
<path class="pts" fill="#0000ff" d="M1380.5 57.7a4.2 4.2 0 1 0 8.4 0a4.2 4.2 0 1 0 -8.4 0zM1361.8 65.9a4.2 4.2 0 1 0 8.4 0a4.2 4.2 0 1 0 -8.4 0zM1422.2 69.9a4.2 4.2 0 1 0 8.4 0a4.2 4.2 0 1 0 -8.4 0zM1451.8 78.3a4.2 4.2 0 1 0 8.4 0a4.2 4.2 0 1 0 -8.4 0zM1435.1 91.4a4.2 4.2 0 1 0 8.4 0a4.2 4.2 0 1 0 -8.4 0zM1432.5 96.7a4.2 4.2 0 1 0 8.4 0a4.2 4.2 0 1 0 -8.4 0zM1425.1 100.7a4.2 4.2 0 1 0 8.4 0a4.2 4.2 0 1 0 -8.4 0zM1412.5 103a4.2 4.2 0 1 0 8.4 0a4.2 4.2 0 1 0 -8.4 0zM1442.5 111.7a4.2 4.2 0 1 0 8.4 0a4.2 4.2 0 1 0 -8.4 0zM1439.8 115.7a4.2 4.2 0 1 0 8.4 0a4.2 4.2 0 1 0 -8.4 0zM1453.1 101.7a4.2 4.2 0 1 0 8.4 0a4.2 4.2 0 1 0 -8.4 0zM1360.5 120.6a4.2 4.2 0 1 0 8.4 0a4.2 4.2 0 1 0 -8.4 0zM1313.4 127a4.2 4.2 0 1 0 8.4 0a4.2 4.2 0 1 0 -8.4 0zM1377.8 129.7a4.2 4.2 0 1 0 8.4 0a4.2 4.2 0 1 0 -8.4 0zM1338.2 134.7a4.2 4.2 0 1 0 8.4 0a4.2 4.2 0 1 0 -8.4 0zM1373.1 143.7a4.2 4.2 0 1 0 8.4 0a4.2 4.2 0 1 0 -8.4 0zM1345.8 156.7a4.2 4.2 0 1 0 8.4 0a4.2 4.2 0 1 0 -8.4 0zM1361.1 160.3a4.2 4.2 0 1 0 8.4 0a4.2 4.2 0 1 0 -8.4 0zM1374.5 157.4a4.2 4.2 0 1 0 8.4 0a4.2 4.2 0 1 0 -8.4 0zM1391.1 154.7a4.2 4.2 0 1 0 8.4 0a4.2 4.2 0 1 0 -8.4 0zM1387.8 162.3a4.2 4.2 0 1 0 8.4 0a4.2 4.2 0 1 0 -8.4 0zM1309.8 163a4.2 4.2 0 1 0 8.4 0a4.2 4.2 0 1 0 -8.4 0zM1399.1 159.7a4.2 4.2 0 1 0 8.4 0a4.2 4.2 0 1 0 -8.4 0zM1419.8 125.7a4.2 4.2 0 1 0 8.4 0a4.2 4.2 0 1 0 -8.4 0zM1428.5 125.7a4.2 4.2 0 1 0 8.4 0a4.2 4.2 0 1 0 -8.4 0zM1417.1 131.7a4.2 4.2 0 1 0 8.4 0a4.2 4.2 0 1 0 -8.4 0zM1419.1 137.7a4.2 4.2 0 1 0 8.4 0a4.2 4.2 0 1 0 -8.4 0zM1409.1 135a4.2 4.2 0 1 0 8.4 0a4.2 4.2 0 1 0 -8.4 0zM1405.8 138.3a4.2 4.2 0 1 0 8.4 0a4.2 4.2 0 1 0 -8.4 0zM1405.1 146.3a4.2 4.2 0 1 0 8.4 0a4.2 4.2 0 1 0 -8.4 0zM1406.5 151.7a4.2 4.2 0 1 0 8.4 0a4.2 4.2 0 1 0 -8.4 0zM1409.1 155.7a4.2 4.2 0 1 0 8.4 0a4.2 4.2 0 1 0 -8.4 0zM1442.5 126.3a4.2 4.2 0 1 0 8.4 0a4.2 4.2 0 1 0 -8.4 0zM1441.1 130.3a4.2 4.2 0 1 0 8.4 0a4.2 4.2 0 1 0 -8.4 0zM1445.1 133a4.2 4.2 0 1 0 8.4 0a4.2 4.2 0 1 0 -8.4 0zM1433.1 137.7a4.2 4.2 0 1 0 8.4 0a4.2 4.2 0 1 0 -8.4 0zM1435.8 142.3a4.2 4.2 0 1 0 8.4 0a4.2 4.2 0 1 0 -8.4 0zM1437.1 147.7a4.2 4.2 0 1 0 8.4 0a4.2 4.2 0 1 0 -8.4 0zM1417.1 148.3a4.2 4.2 0 1 0 8.4 0a4.2 4.2 0 1 0 -8.4 0zM1423.8 150.3a4.2 4.2 0 1 0 8.4 0a4.2 4.2 0 1 0 -8.4 0zM1421.1 155.7a4.2 4.2 0 1 0 8.4 0a4.2 4.2 0 1 0 -8.4 0zM1447.8 138.3a4.2 4.2 0 1 0 8.4 0a4.2 4.2 0 1 0 -8.4 0zM1453.1 127.7a4.2 4.2 0 1 0 8.4 0a4.2 4.2 0 1 0 -8.4 0zM1310.5 178.7a4.2 4.2 0 1 0 8.4 0a4.2 4.2 0 1 0 -8.4 0zM1331.8 177.9a4.2 4.2 0 1 0 8.4 0a4.2 4.2 0 1 0 -8.4 0zM1346.5 173a4.2 4.2 0 1 0 8.4 0a4.2 4.2 0 1 0 -8.4 0zM1365.1 167.7a4.2 4.2 0 1 0 8.4 0a4.2 4.2 0 1 0 -8.4 0zM1367.8 172.3a4.2 4.2 0 1 0 8.4 0a4.2 4.2 0 1 0 -8.4 0zM1370.5 177.7a4.2 4.2 0 1 0 8.4 0a4.2 4.2 0 1 0 -8.4 0zM1381.1 169a4.2 4.2 0 1 0 8.4 0a4.2 4.2 0 1 0 -8.4 0zM1351.1 180.3a4.2 4.2 0 1 0 8.4 0a4.2 4.2 0 1 0 -8.4 0zM1349.1 184.3a4.2 4.2 0 1 0 8.4 0a4.2 4.2 0 1 0 -8.4 0zM1342.5 188.3a4.2 4.2 0 1 0 8.4 0a4.2 4.2 0 1 0 -8.4 0zM1351.1 188.3a4.2 4.2 0 1 0 8.4 0a4.2 4.2 0 1 0 -8.4 0zM1336.5 195a4.2 4.2 0 1 0 8.4 0a4.2 4.2 0 1 0 -8.4 0zM1302.5 196.6a4.2 4.2 0 1 0 8.4 0a4.2 4.2 0 1 0 -8.4 0zM1297.8 201a4.2 4.2 0 1 0 8.4 0a4.2 4.2 0 1 0 -8.4 0zM1300.5 204.3a4.2 4.2 0 1 0 8.4 0a4.2 4.2 0 1 0 -8.4 0zM1316.9 198.3a4.2 4.2 0 1 0 8.4 0a4.2 4.2 0 1 0 -8.4 0zM1325.1 204.3a4.2 4.2 0 1 0 8.4 0a4.2 4.2 0 1 0 -8.4 0zM1287.1 220.3a4.2 4.2 0 1 0 8.4 0a4.2 4.2 0 1 0 -8.4 0zM1283.8 230.3a4.2 4.2 0 1 0 8.4 0a4.2 4.2 0 1 0 -8.4 0zM1278.5 236.3a4.2 4.2 0 1 0 8.4 0a4.2 4.2 0 1 0 -8.4 0zM1287.8 243a4.2 4.2 0 1 0 8.4 0a4.2 4.2 0 1 0 -8.4 0zM1267.1 252.3a4.2 4.2 0 1 0 8.4 0a4.2 4.2 0 1 0 -8.4 0zM1307.8 248.3a4.2 4.2 0 1 0 8.4 0a4.2 4.2 0 1 0 -8.4 0zM1310.5 260.3a4.2 4.2 0 1 0 8.4 0a4.2 4.2 0 1 0 -8.4 0zM1302.5 238.3a4.2 4.2 0 1 0 8.4 0a4.2 4.2 0 1 0 -8.4 0zM1314.5 238.3a4.2 4.2 0 1 0 8.4 0a4.2 4.2 0 1 0 -8.4 0zM1324.2 236.1a4.2 4.2 0 1 0 8.4 0a4.2 4.2 0 1 0 -8.4 0zM1306.5 227.7a4.2 4.2 0 1 0 8.4 0a4.2 4.2 0 1 0 -8.4 0zM1311.8 223a4.2 4.2 0 1 0 8.4 0a4.2 4.2 0 1 0 -8.4 0zM1318.5 223.7a4.2 4.2 0 1 0 8.4 0a4.2 4.2 0 1 0 -8.4 0zM1324.5 225.7a4.2 4.2 0 1 0 8.4 0a4.2 4.2 0 1 0 -8.4 0zM1313.8 215a4.2 4.2 0 1 0 8.4 0a4.2 4.2 0 1 0 -8.4 0zM1323.5 216.1a4.2 4.2 0 1 0 8.4 0a4.2 4.2 0 1 0 -8.4 0zM1333.1 231a4.2 4.2 0 1 0 8.4 0a4.2 4.2 0 1 0 -8.4 0zM1338.5 233.7a4.2 4.2 0 1 0 8.4 0a4.2 4.2 0 1 0 -8.4 0zM1340.5 230.3a4.2 4.2 0 1 0 8.4 0a4.2 4.2 0 1 0 -8.4 0zM1331.8 211a4.2 4.2 0 1 0 8.4 0a4.2 4.2 0 1 0 -8.4 0zM1335.8 208.3a4.2 4.2 0 1 0 8.4 0a4.2 4.2 0 1 0 -8.4 0zM1337.1 213.7a4.2 4.2 0 1 0 8.4 0a4.2 4.2 0 1 0 -8.4 0zM1342.5 215a4.2 4.2 0 1 0 8.4 0a4.2 4.2 0 1 0 -8.4 0zM1346.5 212.3a4.2 4.2 0 1 0 8.4 0a4.2 4.2 0 1 0 -8.4 0zM1350.5 207a4.2 4.2 0 1 0 8.4 0a4.2 4.2 0 1 0 -8.4 0zM1343.1 221.7a4.2 4.2 0 1 0 8.4 0a4.2 4.2 0 1 0 -8.4 0zM1347.8 219.7a4.2 4.2 0 1 0 8.4 0a4.2 4.2 0 1 0 -8.4 0zM1357.5 222.7a4.2 4.2 0 1 0 8.4 0a4.2 4.2 0 1 0 -8.4 0zM1357.1 212.3a4.2 4.2 0 1 0 8.4 0a4.2 4.2 0 1 0 -8.4 0zM1351.1 197.7a4.2 4.2 0 1 0 8.4 0a4.2 4.2 0 1 0 -8.4 0zM1368.5 212.6a4.2 4.2 0 1 0 8.4 0a4.2 4.2 0 1 0 -8.4 0zM1376.9 225.3a4.2 4.2 0 1 0 8.4 0a4.2 4.2 0 1 0 -8.4 0zM1372.9 234.3a4.2 4.2 0 1 0 8.4 0a4.2 4.2 0 1 0 -8.4 0zM1378.5 235.4a4.2 4.2 0 1 0 8.4 0a4.2 4.2 0 1 0 -8.4 0zM1396.9 238.3a4.2 4.2 0 1 0 8.4 0a4.2 4.2 0 1 0 -8.4 0zM1388.5 217.7a4.2 4.2 0 1 0 8.4 0a4.2 4.2 0 1 0 -8.4 0zM1410.5 213.7a4.2 4.2 0 1 0 8.4 0a4.2 4.2 0 1 0 -8.4 0zM1393.8 210.3a4.2 4.2 0 1 0 8.4 0a4.2 4.2 0 1 0 -8.4 0zM1393.1 204.3a4.2 4.2 0 1 0 8.4 0a4.2 4.2 0 1 0 -8.4 0zM1359.8 200.3a4.2 4.2 0 1 0 8.4 0a4.2 4.2 0 1 0 -8.4 0zM1363.8 196.3a4.2 4.2 0 1 0 8.4 0a4.2 4.2 0 1 0 -8.4 0zM1369.1 192.3a4.2 4.2 0 1 0 8.4 0a4.2 4.2 0 1 0 -8.4 0zM1371.8 199a4.2 4.2 0 1 0 8.4 0a4.2 4.2 0 1 0 -8.4 0zM1374.5 204.3a4.2 4.2 0 1 0 8.4 0a4.2 4.2 0 1 0 -8.4 0zM1365.1 203a4.2 4.2 0 1 0 8.4 0a4.2 4.2 0 1 0 -8.4 0zM1381.1 191a4.2 4.2 0 1 0 8.4 0a4.2 4.2 0 1 0 -8.4 0zM1378.5 196.3a4.2 4.2 0 1 0 8.4 0a4.2 4.2 0 1 0 -8.4 0zM1385.1 201.7a4.2 4.2 0 1 0 8.4 0a4.2 4.2 0 1 0 -8.4 0zM1389.1 197.7a4.2 4.2 0 1 0 8.4 0a4.2 4.2 0 1 0 -8.4 0zM1390.5 192.3a4.2 4.2 0 1 0 8.4 0a4.2 4.2 0 1 0 -8.4 0zM1395.8 199a4.2 4.2 0 1 0 8.4 0a4.2 4.2 0 1 0 -8.4 0zM1390.5 181.7a4.2 4.2 0 1 0 8.4 0a4.2 4.2 0 1 0 -8.4 0zM1397.1 187a4.2 4.2 0 1 0 8.4 0a4.2 4.2 0 1 0 -8.4 0zM1402.5 192.3a4.2 4.2 0 1 0 8.4 0a4.2 4.2 0 1 0 -8.4 0zM1406.5 189.7a4.2 4.2 0 1 0 8.4 0a4.2 4.2 0 1 0 -8.4 0zM1407.8 183a4.2 4.2 0 1 0 8.4 0a4.2 4.2 0 1 0 -8.4 0zM1401.1 181.7a4.2 4.2 0 1 0 8.4 0a4.2 4.2 0 1 0 -8.4 0zM1414.5 187a4.2 4.2 0 1 0 8.4 0a4.2 4.2 0 1 0 -8.4 0zM1422.5 189.7a4.2 4.2 0 1 0 8.4 0a4.2 4.2 0 1 0 -8.4 0zM1429.1 187a4.2 4.2 0 1 0 8.4 0a4.2 4.2 0 1 0 -8.4 0zM1437.1 185.7a4.2 4.2 0 1 0 8.4 0a4.2 4.2 0 1 0 -8.4 0zM1437.1 177.7a4.2 4.2 0 1 0 8.4 0a4.2 4.2 0 1 0 -8.4 0zM1453.1 177.7a4.2 4.2 0 1 0 8.4 0a4.2 4.2 0 1 0 -8.4 0zM1417.1 181.7a4.2 4.2 0 1 0 8.4 0a4.2 4.2 0 1 0 -8.4 0zM1423.8 181.7a4.2 4.2 0 1 0 8.4 0a4.2 4.2 0 1 0 -8.4 0zM1637.1 60.3a4.2 4.2 0 1 0 8.4 0a4.2 4.2 0 1 0 -8.4 0zM1625.7 104.1a4.2 4.2 0 1 0 8.4 0a4.2 4.2 0 1 0 -8.4 0zM1503.9 60.6a4.2 4.2 0 1 0 8.4 0a4.2 4.2 0 1 0 -8.4 0zM1460.1 71.3a4.2 4.2 0 1 0 8.4 0a4.2 4.2 0 1 0 -8.4 0zM1472.8 76.6a4.2 4.2 0 1 0 8.4 0a4.2 4.2 0 1 0 -8.4 0zM1472.1 83.7a4.2 4.2 0 1 0 8.4 0a4.2 4.2 0 1 0 -8.4 0zM1479.5 89a4.2 4.2 0 1 0 8.4 0a4.2 4.2 0 1 0 -8.4 0zM1493.5 69.7a4.2 4.2 0 1 0 8.4 0a4.2 4.2 0 1 0 -8.4 0zM1491.5 76.3a4.2 4.2 0 1 0 8.4 0a4.2 4.2 0 1 0 -8.4 0zM1498.5 87.7a4.2 4.2 0 1 0 8.4 0a4.2 4.2 0 1 0 -8.4 0zM1517.7 79.9a4.2 4.2 0 1 0 8.4 0a4.2 4.2 0 1 0 -8.4 0zM1515.5 86.3a4.2 4.2 0 1 0 8.4 0a4.2 4.2 0 1 0 -8.4 0zM1534.8 71a4.2 4.2 0 1 0 8.4 0a4.2 4.2 0 1 0 -8.4 0zM1538.1 76.3a4.2 4.2 0 1 0 8.4 0a4.2 4.2 0 1 0 -8.4 0zM1557.7 74.6a4.2 4.2 0 1 0 8.4 0a4.2 4.2 0 1 0 -8.4 0zM1574.1 77.7a4.2 4.2 0 1 0 8.4 0a4.2 4.2 0 1 0 -8.4 0zM1582.8 75a4.2 4.2 0 1 0 8.4 0a4.2 4.2 0 1 0 -8.4 0zM1588.5 90.1a4.2 4.2 0 1 0 8.4 0a4.2 4.2 0 1 0 -8.4 0zM1588.8 96.7a4.2 4.2 0 1 0 8.4 0a4.2 4.2 0 1 0 -8.4 0zM1580.5 99.4a4.2 4.2 0 1 0 8.4 0a4.2 4.2 0 1 0 -8.4 0zM1572.1 93.7a4.2 4.2 0 1 0 8.4 0a4.2 4.2 0 1 0 -8.4 0zM1542.1 85a4.2 4.2 0 1 0 8.4 0a4.2 4.2 0 1 0 -8.4 0zM1547.5 89a4.2 4.2 0 1 0 8.4 0a4.2 4.2 0 1 0 -8.4 0zM1559.5 88.3a4.2 4.2 0 1 0 8.4 0a4.2 4.2 0 1 0 -8.4 0zM1563.5 87a4.2 4.2 0 1 0 8.4 0a4.2 4.2 0 1 0 -8.4 0zM1460.8 96.3a4.2 4.2 0 1 0 8.4 0a4.2 4.2 0 1 0 -8.4 0zM1474.8 100.6a4.2 4.2 0 1 0 8.4 0a4.2 4.2 0 1 0 -8.4 0zM1499.5 96.3a4.2 4.2 0 1 0 8.4 0a4.2 4.2 0 1 0 -8.4 0zM1498.1 105a4.2 4.2 0 1 0 8.4 0a4.2 4.2 0 1 0 -8.4 0zM1508.8 96.3a4.2 4.2 0 1 0 8.4 0a4.2 4.2 0 1 0 -8.4 0zM1515.5 96.3a4.2 4.2 0 1 0 8.4 0a4.2 4.2 0 1 0 -8.4 0zM1510.1 105.7a4.2 4.2 0 1 0 8.4 0a4.2 4.2 0 1 0 -8.4 0zM1524.8 96.3a4.2 4.2 0 1 0 8.4 0a4.2 4.2 0 1 0 -8.4 0zM1520.8 102.3a4.2 4.2 0 1 0 8.4 0a4.2 4.2 0 1 0 -8.4 0zM1532.8 94.3a4.2 4.2 0 1 0 8.4 0a4.2 4.2 0 1 0 -8.4 0zM1536.8 91a4.2 4.2 0 1 0 8.4 0a4.2 4.2 0 1 0 -8.4 0zM1543.5 126.3a4.2 4.2 0 1 0 8.4 0a4.2 4.2 0 1 0 -8.4 0zM1548.1 125.7a4.2 4.2 0 1 0 8.4 0a4.2 4.2 0 1 0 -8.4 0zM1534.1 133a4.2 4.2 0 1 0 8.4 0a4.2 4.2 0 1 0 -8.4 0zM1523.5 134.3a4.2 4.2 0 1 0 8.4 0a4.2 4.2 0 1 0 -8.4 0zM1527.5 127.7a4.2 4.2 0 1 0 8.4 0a4.2 4.2 0 1 0 -8.4 0zM1519.2 155.7a4.2 4.2 0 1 0 8.4 0a4.2 4.2 0 1 0 -8.4 0zM1498.1 144.3a4.2 4.2 0 1 0 8.4 0a4.2 4.2 0 1 0 -8.4 0zM1497.5 150.3a4.2 4.2 0 1 0 8.4 0a4.2 4.2 0 1 0 -8.4 0zM1493.5 163a4.2 4.2 0 1 0 8.4 0a4.2 4.2 0 1 0 -8.4 0zM1477.5 149.7a4.2 4.2 0 1 0 8.4 0a4.2 4.2 0 1 0 -8.4 0zM1559.5 117.7a4.2 4.2 0 1 0 8.4 0a4.2 4.2 0 1 0 -8.4 0zM1551.5 117a4.2 4.2 0 1 0 8.4 0a4.2 4.2 0 1 0 -8.4 0zM1563.5 108.3a4.2 4.2 0 1 0 8.4 0a4.2 4.2 0 1 0 -8.4 0zM1556.8 106.3a4.2 4.2 0 1 0 8.4 0a4.2 4.2 0 1 0 -8.4 0zM1562.1 101a4.2 4.2 0 1 0 8.4 0a4.2 4.2 0 1 0 -8.4 0zM1536.8 119.7a4.2 4.2 0 1 0 8.4 0a4.2 4.2 0 1 0 -8.4 0zM1540.8 111.7a4.2 4.2 0 1 0 8.4 0a4.2 4.2 0 1 0 -8.4 0zM1547.5 106.3a4.2 4.2 0 1 0 8.4 0a4.2 4.2 0 1 0 -8.4 0zM1456.8 118.3a4.2 4.2 0 1 0 8.4 0a4.2 4.2 0 1 0 -8.4 0zM1463.5 116.3a4.2 4.2 0 1 0 8.4 0a4.2 4.2 0 1 0 -8.4 0zM1472.8 119a4.2 4.2 0 1 0 8.4 0a4.2 4.2 0 1 0 -8.4 0zM1480.8 119a4.2 4.2 0 1 0 8.4 0a4.2 4.2 0 1 0 -8.4 0zM1491.5 114.3a4.2 4.2 0 1 0 8.4 0a4.2 4.2 0 1 0 -8.4 0zM1460.8 125a4.2 4.2 0 1 0 8.4 0a4.2 4.2 0 1 0 -8.4 0zM1548.9 101.9a4.2 4.2 0 1 0 8.4 0a4.2 4.2 0 1 0 -8.4 0zM1502 126.9a4.2 4.2 0 1 0 8.4 0a4.2 4.2 0 1 0 -8.4 0zM1468.4 133.4a4.2 4.2 0 1 0 8.4 0a4.2 4.2 0 1 0 -8.4 0zM1494.6 119a4.2 4.2 0 1 0 8.4 0a4.2 4.2 0 1 0 -8.4 0zM1519.7 115.3a4.2 4.2 0 1 0 8.4 0a4.2 4.2 0 1 0 -8.4 0zM1517.5 122a4.2 4.2 0 1 0 8.4 0a4.2 4.2 0 1 0 -8.4 0zM1468.7 146a4.2 4.2 0 1 0 8.4 0a4.2 4.2 0 1 0 -8.4 0zM1503.2 120.6a4.2 4.2 0 1 0 8.4 0a4.2 4.2 0 1 0 -8.4 0zM1511 119.8a4.2 4.2 0 1 0 8.4 0a4.2 4.2 0 1 0 -8.4 0zM1460.9 142.1a4.2 4.2 0 1 0 8.4 0a4.2 4.2 0 1 0 -8.4 0zM1524.9 118.1a4.2 4.2 0 1 0 8.4 0a4.2 4.2 0 1 0 -8.4 0zM1523.7 111a4.2 4.2 0 1 0 8.4 0a4.2 4.2 0 1 0 -8.4 0zM1473.2 125.8a4.2 4.2 0 1 0 8.4 0a4.2 4.2 0 1 0 -8.4 0zM1523.8 123.7a4.2 4.2 0 1 0 8.4 0a4.2 4.2 0 1 0 -8.4 0zM1530.8 117.6a4.2 4.2 0 1 0 8.4 0a4.2 4.2 0 1 0 -8.4 0zM1464.9 127.2a4.2 4.2 0 1 0 8.4 0a4.2 4.2 0 1 0 -8.4 0zM1532.3 102.1a4.2 4.2 0 1 0 8.4 0a4.2 4.2 0 1 0 -8.4 0zM1554.4 99.1a4.2 4.2 0 1 0 8.4 0a4.2 4.2 0 1 0 -8.4 0zM1462.9 148.5a4.2 4.2 0 1 0 8.4 0a4.2 4.2 0 1 0 -8.4 0zM1487.2 118.4a4.2 4.2 0 1 0 8.4 0a4.2 4.2 0 1 0 -8.4 0zM1458.1 134.8a4.2 4.2 0 1 0 8.4 0a4.2 4.2 0 1 0 -8.4 0zM1524.3 105.6a4.2 4.2 0 1 0 8.4 0a4.2 4.2 0 1 0 -8.4 0zM1542.7 96.5a4.2 4.2 0 1 0 8.4 0a4.2 4.2 0 1 0 -8.4 0zM1485.2 134.1a4.2 4.2 0 1 0 8.4 0a4.2 4.2 0 1 0 -8.4 0zM1535.7 111.2a4.2 4.2 0 1 0 8.4 0a4.2 4.2 0 1 0 -8.4 0zM1480.1 139.2a4.2 4.2 0 1 0 8.4 0a4.2 4.2 0 1 0 -8.4 0zM1494.2 127.8a4.2 4.2 0 1 0 8.4 0a4.2 4.2 0 1 0 -8.4 0zM1506.9 112.4a4.2 4.2 0 1 0 8.4 0a4.2 4.2 0 1 0 -8.4 0zM1545 110.4a4.2 4.2 0 1 0 8.4 0a4.2 4.2 0 1 0 -8.4 0zM1477.8 131.6a4.2 4.2 0 1 0 8.4 0a4.2 4.2 0 1 0 -8.4 0zM1558.9 94.8a4.2 4.2 0 1 0 8.4 0a4.2 4.2 0 1 0 -8.4 0zM1488.4 128.8a4.2 4.2 0 1 0 8.4 0a4.2 4.2 0 1 0 -8.4 0zM1538.6 106.4a4.2 4.2 0 1 0 8.4 0a4.2 4.2 0 1 0 -8.4 0zM1513.4 110.3a4.2 4.2 0 1 0 8.4 0a4.2 4.2 0 1 0 -8.4 0zM1511.7 128.5a4.2 4.2 0 1 0 8.4 0a4.2 4.2 0 1 0 -8.4 0zM1466.1 138.5a4.2 4.2 0 1 0 8.4 0a4.2 4.2 0 1 0 -8.4 0zM1550.3 92.9a4.2 4.2 0 1 0 8.4 0a4.2 4.2 0 1 0 -8.4 0zM1477.6 144a4.2 4.2 0 1 0 8.4 0a4.2 4.2 0 1 0 -8.4 0zM1498.8 132.4a4.2 4.2 0 1 0 8.4 0a4.2 4.2 0 1 0 -8.4 0zM1552.8 109.8a4.2 4.2 0 1 0 8.4 0a4.2 4.2 0 1 0 -8.4 0zM1476.5 121.4a4.2 4.2 0 1 0 8.4 0a4.2 4.2 0 1 0 -8.4 0zM1545.8 116a4.2 4.2 0 1 0 8.4 0a4.2 4.2 0 1 0 -8.4 0zM1490.3 137.9a4.2 4.2 0 1 0 8.4 0a4.2 4.2 0 1 0 -8.4 0zM1484 123.3a4.2 4.2 0 1 0 8.4 0a4.2 4.2 0 1 0 -8.4 0zM1472.9 139a4.2 4.2 0 1 0 8.4 0a4.2 4.2 0 1 0 -8.4 0zM1536.5 97.6a4.2 4.2 0 1 0 8.4 0a4.2 4.2 0 1 0 -8.4 0zM1529.6 108.6a4.2 4.2 0 1 0 8.4 0a4.2 4.2 0 1 0 -8.4 0zM1540.4 116.9a4.2 4.2 0 1 0 8.4 0a4.2 4.2 0 1 0 -8.4 0zM1506.4 131.4a4.2 4.2 0 1 0 8.4 0a4.2 4.2 0 1 0 -8.4 0zM1500.3 114.5a4.2 4.2 0 1 0 8.4 0a4.2 4.2 0 1 0 -8.4 0zM1518.6 106.9a4.2 4.2 0 1 0 8.4 0a4.2 4.2 0 1 0 -8.4 0zM1531.5 123.5a4.2 4.2 0 1 0 8.4 0a4.2 4.2 0 1 0 -8.4 0zM1467.7 122a4.2 4.2 0 1 0 8.4 0a4.2 4.2 0 1 0 -8.4 0zM1542.5 102.3a4.2 4.2 0 1 0 8.4 0a4.2 4.2 0 1 0 -8.4 0zM1459.2 129.4a4.2 4.2 0 1 0 8.4 0a4.2 4.2 0 1 0 -8.4 0zM1412.7 165.6a4.2 4.2 0 1 0 8.4 0a4.2 4.2 0 1 0 -8.4 0zM1445.8 158.5a4.2 4.2 0 1 0 8.4 0a4.2 4.2 0 1 0 -8.4 0zM1418.8 161.5a4.2 4.2 0 1 0 8.4 0a4.2 4.2 0 1 0 -8.4 0zM1428.1 159.7a4.2 4.2 0 1 0 8.4 0a4.2 4.2 0 1 0 -8.4 0zM1405.3 166.2a4.2 4.2 0 1 0 8.4 0a4.2 4.2 0 1 0 -8.4 0zM1441.6 171.3a4.2 4.2 0 1 0 8.4 0a4.2 4.2 0 1 0 -8.4 0zM1406.5 175.9a4.2 4.2 0 1 0 8.4 0a4.2 4.2 0 1 0 -8.4 0zM1448.5 145.7a4.2 4.2 0 1 0 8.4 0a4.2 4.2 0 1 0 -8.4 0zM1424.7 168.5a4.2 4.2 0 1 0 8.4 0a4.2 4.2 0 1 0 -8.4 0zM1416.9 172.1a4.2 4.2 0 1 0 8.4 0a4.2 4.2 0 1 0 -8.4 0zM1429.5 143.8a4.2 4.2 0 1 0 8.4 0a4.2 4.2 0 1 0 -8.4 0zM1453.2 163.8a4.2 4.2 0 1 0 8.4 0a4.2 4.2 0 1 0 -8.4 0zM1460.4 158.9a4.2 4.2 0 1 0 8.4 0a4.2 4.2 0 1 0 -8.4 0zM1423.6 175.5a4.2 4.2 0 1 0 8.4 0a4.2 4.2 0 1 0 -8.4 0zM1431.9 181a4.2 4.2 0 1 0 8.4 0a4.2 4.2 0 1 0 -8.4 0zM1434.1 153.1a4.2 4.2 0 1 0 8.4 0a4.2 4.2 0 1 0 -8.4 0zM1438.9 161.5a4.2 4.2 0 1 0 8.4 0a4.2 4.2 0 1 0 -8.4 0zM1443 141.3a4.2 4.2 0 1 0 8.4 0a4.2 4.2 0 1 0 -8.4 0zM1431.6 168.1a4.2 4.2 0 1 0 8.4 0a4.2 4.2 0 1 0 -8.4 0zM1443.1 150.5a4.2 4.2 0 1 0 8.4 0a4.2 4.2 0 1 0 -8.4 0zM1452 154.5a4.2 4.2 0 1 0 8.4 0a4.2 4.2 0 1 0 -8.4 0zM1448.9 169.8a4.2 4.2 0 1 0 8.4 0a4.2 4.2 0 1 0 -8.4 0zM1414.4 153.8a4.2 4.2 0 1 0 8.4 0a4.2 4.2 0 1 0 -8.4 0zM1451.2 133.4a4.2 4.2 0 1 0 8.4 0a4.2 4.2 0 1 0 -8.4 0zM1438.7 135.4a4.2 4.2 0 1 0 8.4 0a4.2 4.2 0 1 0 -8.4 0z"/>
<line x1="1272" y1="235.2" x2="1640.5" y2="55" stroke="#000" stroke-width="3.6"/>
<rect x="1611.8" y="212.5" width="123.2" height="51.1" fill="#fff"/>
<text x="1669.5" y="233.2" font-size="12.3" text-anchor="middle" fill="#1a1a1a">Pearson: 0.831***</text>
<text x="1669.3" y="250.4" font-size="12.3" text-anchor="middle" fill="#1a1a1a">Spearman: 0.839***</text>
<text x="1343.6" y="291.5" font-size="16" text-anchor="middle" fill="#444">12</text>
<text x="1447.8" y="291.5" font-size="16" text-anchor="middle" fill="#444">15</text>
<text x="1552.1" y="291.5" font-size="16" text-anchor="middle" fill="#444">18</text>
<text x="1656.3" y="291.5" font-size="16" text-anchor="middle" fill="#444">21</text>
<text x="1242.5" y="274.2" font-size="16" text-anchor="end" fill="#444">7.5</text>
<text x="1242.5" y="228.8" font-size="16" text-anchor="end" fill="#444">10.0</text>
<text x="1242.5" y="183.3" font-size="16" text-anchor="end" fill="#444">12.5</text>
<text x="1242.5" y="137.9" font-size="16" text-anchor="end" fill="#444">15.0</text>
<text x="1242.5" y="92.4" font-size="16" text-anchor="end" fill="#444">17.5</text>
<path d="M1343.6 269.5v5.3M1447.8 269.5v5.3M1552.1 269.5v5.3M1656.3 269.5v5.3M1252.8 268.5h-5.3M1252.8 223.1h-5.3M1252.8 177.6h-5.3M1252.8 132.2h-5.3M1252.8 86.7h-5.3" stroke="#333" stroke-width="1.7" fill="none"/>
<text x="1167.3" y="25.2" font-size="19.5" fill="#000">C)</text>
<text x="1521.6" y="43.1" font-size="19" font-weight="bold" textLength="136" lengthAdjust="spacingAndGlyphs" fill="#000">FN1 vs COL1A1</text>
</g>
<g id="panel-D">
<clipPath id="clipD"><rect x="86.8" y="335.4" width="404.5" height="220.6"/></clipPath>
<rect x="86.8" y="335.4" width="404.5" height="220.6" fill="#ebebeb"/>
<g clip-path="url(#clipD)" stroke="#fff" fill="none"><path d="M241.4 335.4V556M333.7 335.4V556M426.1 335.4V556M86.8 510.1H491.3M86.8 463.8H491.3M86.8 417.5H491.3M86.8 371.2H491.3" stroke-width="1.1"/><path d="M149 335.4V556" stroke-width="1" stroke-opacity="0.4"/><path d="M102.8 335.4V556M195.2 335.4V556M287.6 335.4V556M379.9 335.4V556M472.3 335.4V556M86.8 533.3H491.3M86.8 487H491.3M86.8 440.7H491.3M86.8 394.4H491.3M86.8 348.1H491.3" stroke-width="1.9"/></g>
<path class="pts" fill="#0000ff" d="M248.6 401.6a4.05 4.05 0 1 0 8.1 0a4.05 4.05 0 1 0 -8.1 0zM268.8 404a4.05 4.05 0 1 0 8.1 0a4.05 4.05 0 1 0 -8.1 0zM287.2 405.6a4.05 4.05 0 1 0 8.1 0a4.05 4.05 0 1 0 -8.1 0zM318.6 402.7a4.05 4.05 0 1 0 8.1 0a4.05 4.05 0 1 0 -8.1 0zM185.5 416a4.05 4.05 0 1 0 8.1 0a4.05 4.05 0 1 0 -8.1 0zM218.3 417.3a4.05 4.05 0 1 0 8.1 0a4.05 4.05 0 1 0 -8.1 0zM239.6 414.4a4.05 4.05 0 1 0 8.1 0a4.05 4.05 0 1 0 -8.1 0zM251.9 416.7a4.05 4.05 0 1 0 8.1 0a4.05 4.05 0 1 0 -8.1 0zM260.6 418a4.05 4.05 0 1 0 8.1 0a4.05 4.05 0 1 0 -8.1 0zM265.9 417.1a4.05 4.05 0 1 0 8.1 0a4.05 4.05 0 1 0 -8.1 0zM286.8 416.7a4.05 4.05 0 1 0 8.1 0a4.05 4.05 0 1 0 -8.1 0zM306.3 413.3a4.05 4.05 0 1 0 8.1 0a4.05 4.05 0 1 0 -8.1 0zM329.1 412.3a4.05 4.05 0 1 0 8.1 0a4.05 4.05 0 1 0 -8.1 0zM321.6 418a4.05 4.05 0 1 0 8.1 0a4.05 4.05 0 1 0 -8.1 0zM299.9 421.3a4.05 4.05 0 1 0 8.1 0a4.05 4.05 0 1 0 -8.1 0zM316.6 426a4.05 4.05 0 1 0 8.1 0a4.05 4.05 0 1 0 -8.1 0zM337.6 424.7a4.05 4.05 0 1 0 8.1 0a4.05 4.05 0 1 0 -8.1 0zM207 424.7a4.05 4.05 0 1 0 8.1 0a4.05 4.05 0 1 0 -8.1 0zM213.9 425.3a4.05 4.05 0 1 0 8.1 0a4.05 4.05 0 1 0 -8.1 0zM165.9 432.4a4.05 4.05 0 1 0 8.1 0a4.05 4.05 0 1 0 -8.1 0zM176.6 431.3a4.05 4.05 0 1 0 8.1 0a4.05 4.05 0 1 0 -8.1 0zM174.6 435.3a4.05 4.05 0 1 0 8.1 0a4.05 4.05 0 1 0 -8.1 0zM190.6 432.7a4.05 4.05 0 1 0 8.1 0a4.05 4.05 0 1 0 -8.1 0zM185.2 436a4.05 4.05 0 1 0 8.1 0a4.05 4.05 0 1 0 -8.1 0zM203.2 432.7a4.05 4.05 0 1 0 8.1 0a4.05 4.05 0 1 0 -8.1 0zM199.2 437.3a4.05 4.05 0 1 0 8.1 0a4.05 4.05 0 1 0 -8.1 0zM227.2 432.7a4.05 4.05 0 1 0 8.1 0a4.05 4.05 0 1 0 -8.1 0zM235.2 432.7a4.05 4.05 0 1 0 8.1 0a4.05 4.05 0 1 0 -8.1 0zM246.6 428a4.05 4.05 0 1 0 8.1 0a4.05 4.05 0 1 0 -8.1 0zM255.2 429.3a4.05 4.05 0 1 0 8.1 0a4.05 4.05 0 1 0 -8.1 0zM244.6 436a4.05 4.05 0 1 0 8.1 0a4.05 4.05 0 1 0 -8.1 0zM248.6 435.3a4.05 4.05 0 1 0 8.1 0a4.05 4.05 0 1 0 -8.1 0zM271.9 428.7a4.05 4.05 0 1 0 8.1 0a4.05 4.05 0 1 0 -8.1 0zM279.9 430a4.05 4.05 0 1 0 8.1 0a4.05 4.05 0 1 0 -8.1 0zM277.9 434.7a4.05 4.05 0 1 0 8.1 0a4.05 4.05 0 1 0 -8.1 0zM287.2 433.3a4.05 4.05 0 1 0 8.1 0a4.05 4.05 0 1 0 -8.1 0zM291.2 437.3a4.05 4.05 0 1 0 8.1 0a4.05 4.05 0 1 0 -8.1 0zM296.6 428a4.05 4.05 0 1 0 8.1 0a4.05 4.05 0 1 0 -8.1 0zM300.6 426a4.05 4.05 0 1 0 8.1 0a4.05 4.05 0 1 0 -8.1 0zM307.2 431.3a4.05 4.05 0 1 0 8.1 0a4.05 4.05 0 1 0 -8.1 0zM297.9 438.7a4.05 4.05 0 1 0 8.1 0a4.05 4.05 0 1 0 -8.1 0zM319.2 440a4.05 4.05 0 1 0 8.1 0a4.05 4.05 0 1 0 -8.1 0zM147.2 441.3a4.05 4.05 0 1 0 8.1 0a4.05 4.05 0 1 0 -8.1 0zM217.9 437.3a4.05 4.05 0 1 0 8.1 0a4.05 4.05 0 1 0 -8.1 0zM212.6 440a4.05 4.05 0 1 0 8.1 0a4.05 4.05 0 1 0 -8.1 0zM214.6 444a4.05 4.05 0 1 0 8.1 0a4.05 4.05 0 1 0 -8.1 0zM203.2 444a4.05 4.05 0 1 0 8.1 0a4.05 4.05 0 1 0 -8.1 0zM205.2 449.3a4.05 4.05 0 1 0 8.1 0a4.05 4.05 0 1 0 -8.1 0zM233.9 441.3a4.05 4.05 0 1 0 8.1 0a4.05 4.05 0 1 0 -8.1 0zM239.2 442.7a4.05 4.05 0 1 0 8.1 0a4.05 4.05 0 1 0 -8.1 0zM227.2 446.7a4.05 4.05 0 1 0 8.1 0a4.05 4.05 0 1 0 -8.1 0zM235.2 448a4.05 4.05 0 1 0 8.1 0a4.05 4.05 0 1 0 -8.1 0zM245.9 444a4.05 4.05 0 1 0 8.1 0a4.05 4.05 0 1 0 -8.1 0zM248.6 448a4.05 4.05 0 1 0 8.1 0a4.05 4.05 0 1 0 -8.1 0zM256.6 442.7a4.05 4.05 0 1 0 8.1 0a4.05 4.05 0 1 0 -8.1 0zM261.9 439.3a4.05 4.05 0 1 0 8.1 0a4.05 4.05 0 1 0 -8.1 0zM267.2 438.7a4.05 4.05 0 1 0 8.1 0a4.05 4.05 0 1 0 -8.1 0zM271.2 440a4.05 4.05 0 1 0 8.1 0a4.05 4.05 0 1 0 -8.1 0zM264.6 444a4.05 4.05 0 1 0 8.1 0a4.05 4.05 0 1 0 -8.1 0zM269.9 445.3a4.05 4.05 0 1 0 8.1 0a4.05 4.05 0 1 0 -8.1 0zM275.2 444a4.05 4.05 0 1 0 8.1 0a4.05 4.05 0 1 0 -8.1 0zM279.2 446.7a4.05 4.05 0 1 0 8.1 0a4.05 4.05 0 1 0 -8.1 0zM173.9 445.3a4.05 4.05 0 1 0 8.1 0a4.05 4.05 0 1 0 -8.1 0zM179.2 444a4.05 4.05 0 1 0 8.1 0a4.05 4.05 0 1 0 -8.1 0zM184.6 446.7a4.05 4.05 0 1 0 8.1 0a4.05 4.05 0 1 0 -8.1 0zM189.9 444a4.05 4.05 0 1 0 8.1 0a4.05 4.05 0 1 0 -8.1 0zM169.9 452a4.05 4.05 0 1 0 8.1 0a4.05 4.05 0 1 0 -8.1 0zM168.6 457.3a4.05 4.05 0 1 0 8.1 0a4.05 4.05 0 1 0 -8.1 0zM173.9 456a4.05 4.05 0 1 0 8.1 0a4.05 4.05 0 1 0 -8.1 0zM179.2 458.7a4.05 4.05 0 1 0 8.1 0a4.05 4.05 0 1 0 -8.1 0zM195.2 453.3a4.05 4.05 0 1 0 8.1 0a4.05 4.05 0 1 0 -8.1 0zM191.2 458.7a4.05 4.05 0 1 0 8.1 0a4.05 4.05 0 1 0 -8.1 0zM199.2 458.7a4.05 4.05 0 1 0 8.1 0a4.05 4.05 0 1 0 -8.1 0zM212.6 450.7a4.05 4.05 0 1 0 8.1 0a4.05 4.05 0 1 0 -8.1 0zM217.9 450.7a4.05 4.05 0 1 0 8.1 0a4.05 4.05 0 1 0 -8.1 0zM209.9 460a4.05 4.05 0 1 0 8.1 0a4.05 4.05 0 1 0 -8.1 0zM215.2 456a4.05 4.05 0 1 0 8.1 0a4.05 4.05 0 1 0 -8.1 0zM223.2 453.3a4.05 4.05 0 1 0 8.1 0a4.05 4.05 0 1 0 -8.1 0zM228.6 456a4.05 4.05 0 1 0 8.1 0a4.05 4.05 0 1 0 -8.1 0zM225.9 460a4.05 4.05 0 1 0 8.1 0a4.05 4.05 0 1 0 -8.1 0zM236.6 452a4.05 4.05 0 1 0 8.1 0a4.05 4.05 0 1 0 -8.1 0zM252.6 456a4.05 4.05 0 1 0 8.1 0a4.05 4.05 0 1 0 -8.1 0zM251.2 462.7a4.05 4.05 0 1 0 8.1 0a4.05 4.05 0 1 0 -8.1 0zM297.2 452a4.05 4.05 0 1 0 8.1 0a4.05 4.05 0 1 0 -8.1 0zM301.2 457.3a4.05 4.05 0 1 0 8.1 0a4.05 4.05 0 1 0 -8.1 0zM311.2 450.7a4.05 4.05 0 1 0 8.1 0a4.05 4.05 0 1 0 -8.1 0zM317.9 452a4.05 4.05 0 1 0 8.1 0a4.05 4.05 0 1 0 -8.1 0zM312.6 454.7a4.05 4.05 0 1 0 8.1 0a4.05 4.05 0 1 0 -8.1 0zM271.2 459.3a4.05 4.05 0 1 0 8.1 0a4.05 4.05 0 1 0 -8.1 0zM277.9 458a4.05 4.05 0 1 0 8.1 0a4.05 4.05 0 1 0 -8.1 0zM282.6 460.7a4.05 4.05 0 1 0 8.1 0a4.05 4.05 0 1 0 -8.1 0zM324.6 460.4a4.05 4.05 0 1 0 8.1 0a4.05 4.05 0 1 0 -8.1 0zM335.2 462a4.05 4.05 0 1 0 8.1 0a4.05 4.05 0 1 0 -8.1 0zM345.6 471.3a4.05 4.05 0 1 0 8.1 0a4.05 4.05 0 1 0 -8.1 0zM344.6 480.9a4.05 4.05 0 1 0 8.1 0a4.05 4.05 0 1 0 -8.1 0zM310.3 478.4a4.05 4.05 0 1 0 8.1 0a4.05 4.05 0 1 0 -8.1 0zM321.6 479.7a4.05 4.05 0 1 0 8.1 0a4.05 4.05 0 1 0 -8.1 0zM289.6 473.3a4.05 4.05 0 1 0 8.1 0a4.05 4.05 0 1 0 -8.1 0zM275.9 478.4a4.05 4.05 0 1 0 8.1 0a4.05 4.05 0 1 0 -8.1 0zM265.2 468.7a4.05 4.05 0 1 0 8.1 0a4.05 4.05 0 1 0 -8.1 0zM264.6 474.7a4.05 4.05 0 1 0 8.1 0a4.05 4.05 0 1 0 -8.1 0zM265.2 481.3a4.05 4.05 0 1 0 8.1 0a4.05 4.05 0 1 0 -8.1 0zM263.9 490.7a4.05 4.05 0 1 0 8.1 0a4.05 4.05 0 1 0 -8.1 0zM260.3 502.4a4.05 4.05 0 1 0 8.1 0a4.05 4.05 0 1 0 -8.1 0zM258.6 495.3a4.05 4.05 0 1 0 8.1 0a4.05 4.05 0 1 0 -8.1 0zM247.2 493.3a4.05 4.05 0 1 0 8.1 0a4.05 4.05 0 1 0 -8.1 0zM251.2 486.7a4.05 4.05 0 1 0 8.1 0a4.05 4.05 0 1 0 -8.1 0zM242.3 504.4a4.05 4.05 0 1 0 8.1 0a4.05 4.05 0 1 0 -8.1 0zM151.2 456a4.05 4.05 0 1 0 8.1 0a4.05 4.05 0 1 0 -8.1 0zM156.6 457.3a4.05 4.05 0 1 0 8.1 0a4.05 4.05 0 1 0 -8.1 0zM148.6 461.3a4.05 4.05 0 1 0 8.1 0a4.05 4.05 0 1 0 -8.1 0zM151.2 468.7a4.05 4.05 0 1 0 8.1 0a4.05 4.05 0 1 0 -8.1 0zM163.2 465.3a4.05 4.05 0 1 0 8.1 0a4.05 4.05 0 1 0 -8.1 0zM167.2 469.3a4.05 4.05 0 1 0 8.1 0a4.05 4.05 0 1 0 -8.1 0zM172.6 465.3a4.05 4.05 0 1 0 8.1 0a4.05 4.05 0 1 0 -8.1 0zM176.6 468a4.05 4.05 0 1 0 8.1 0a4.05 4.05 0 1 0 -8.1 0zM164.6 483.3a4.05 4.05 0 1 0 8.1 0a4.05 4.05 0 1 0 -8.1 0zM147.2 487.3a4.05 4.05 0 1 0 8.1 0a4.05 4.05 0 1 0 -8.1 0zM159.9 494.7a4.05 4.05 0 1 0 8.1 0a4.05 4.05 0 1 0 -8.1 0zM163.2 498.7a4.05 4.05 0 1 0 8.1 0a4.05 4.05 0 1 0 -8.1 0zM156.6 504.7a4.05 4.05 0 1 0 8.1 0a4.05 4.05 0 1 0 -8.1 0zM157.9 509.3a4.05 4.05 0 1 0 8.1 0a4.05 4.05 0 1 0 -8.1 0zM147.9 508a4.05 4.05 0 1 0 8.1 0a4.05 4.05 0 1 0 -8.1 0zM169 511.1a4.05 4.05 0 1 0 8.1 0a4.05 4.05 0 1 0 -8.1 0zM171.2 492a4.05 4.05 0 1 0 8.1 0a4.05 4.05 0 1 0 -8.1 0zM175.9 486.7a4.05 4.05 0 1 0 8.1 0a4.05 4.05 0 1 0 -8.1 0zM180.6 480a4.05 4.05 0 1 0 8.1 0a4.05 4.05 0 1 0 -8.1 0zM183.2 485.3a4.05 4.05 0 1 0 8.1 0a4.05 4.05 0 1 0 -8.1 0zM183.2 498.7a4.05 4.05 0 1 0 8.1 0a4.05 4.05 0 1 0 -8.1 0zM187.2 501.3a4.05 4.05 0 1 0 8.1 0a4.05 4.05 0 1 0 -8.1 0zM191.2 497.3a4.05 4.05 0 1 0 8.1 0a4.05 4.05 0 1 0 -8.1 0zM185.9 510.7a4.05 4.05 0 1 0 8.1 0a4.05 4.05 0 1 0 -8.1 0zM191.2 513.3a4.05 4.05 0 1 0 8.1 0a4.05 4.05 0 1 0 -8.1 0zM189.9 506.7a4.05 4.05 0 1 0 8.1 0a4.05 4.05 0 1 0 -8.1 0zM193.9 492a4.05 4.05 0 1 0 8.1 0a4.05 4.05 0 1 0 -8.1 0zM196.6 485.3a4.05 4.05 0 1 0 8.1 0a4.05 4.05 0 1 0 -8.1 0zM201.9 488a4.05 4.05 0 1 0 8.1 0a4.05 4.05 0 1 0 -8.1 0zM205.9 512.7a4.05 4.05 0 1 0 8.1 0a4.05 4.05 0 1 0 -8.1 0zM207.2 501.3a4.05 4.05 0 1 0 8.1 0a4.05 4.05 0 1 0 -8.1 0zM212.6 498.7a4.05 4.05 0 1 0 8.1 0a4.05 4.05 0 1 0 -8.1 0zM209.9 493.3a4.05 4.05 0 1 0 8.1 0a4.05 4.05 0 1 0 -8.1 0zM217.9 490.7a4.05 4.05 0 1 0 8.1 0a4.05 4.05 0 1 0 -8.1 0zM221.9 512a4.05 4.05 0 1 0 8.1 0a4.05 4.05 0 1 0 -8.1 0zM225.9 513.3a4.05 4.05 0 1 0 8.1 0a4.05 4.05 0 1 0 -8.1 0zM224.6 501.3a4.05 4.05 0 1 0 8.1 0a4.05 4.05 0 1 0 -8.1 0zM229.9 502.7a4.05 4.05 0 1 0 8.1 0a4.05 4.05 0 1 0 -8.1 0zM232.6 496a4.05 4.05 0 1 0 8.1 0a4.05 4.05 0 1 0 -8.1 0zM233.9 488a4.05 4.05 0 1 0 8.1 0a4.05 4.05 0 1 0 -8.1 0zM212.6 477.3a4.05 4.05 0 1 0 8.1 0a4.05 4.05 0 1 0 -8.1 0zM217.9 480a4.05 4.05 0 1 0 8.1 0a4.05 4.05 0 1 0 -8.1 0zM220.6 476a4.05 4.05 0 1 0 8.1 0a4.05 4.05 0 1 0 -8.1 0zM227.2 477.3a4.05 4.05 0 1 0 8.1 0a4.05 4.05 0 1 0 -8.1 0zM231.2 472a4.05 4.05 0 1 0 8.1 0a4.05 4.05 0 1 0 -8.1 0zM232.6 480a4.05 4.05 0 1 0 8.1 0a4.05 4.05 0 1 0 -8.1 0zM239.2 476a4.05 4.05 0 1 0 8.1 0a4.05 4.05 0 1 0 -8.1 0zM244.6 480a4.05 4.05 0 1 0 8.1 0a4.05 4.05 0 1 0 -8.1 0zM248.6 477.3a4.05 4.05 0 1 0 8.1 0a4.05 4.05 0 1 0 -8.1 0zM252.6 480a4.05 4.05 0 1 0 8.1 0a4.05 4.05 0 1 0 -8.1 0zM243.2 468a4.05 4.05 0 1 0 8.1 0a4.05 4.05 0 1 0 -8.1 0zM249.9 470.7a4.05 4.05 0 1 0 8.1 0a4.05 4.05 0 1 0 -8.1 0zM221.9 468a4.05 4.05 0 1 0 8.1 0a4.05 4.05 0 1 0 -8.1 0zM213.9 469.3a4.05 4.05 0 1 0 8.1 0a4.05 4.05 0 1 0 -8.1 0zM185.9 469.3a4.05 4.05 0 1 0 8.1 0a4.05 4.05 0 1 0 -8.1 0zM192.6 474.7a4.05 4.05 0 1 0 8.1 0a4.05 4.05 0 1 0 -8.1 0zM199.2 476a4.05 4.05 0 1 0 8.1 0a4.05 4.05 0 1 0 -8.1 0zM204.6 472a4.05 4.05 0 1 0 8.1 0a4.05 4.05 0 1 0 -8.1 0zM322.3 500.4a4.05 4.05 0 1 0 8.1 0a4.05 4.05 0 1 0 -8.1 0zM329.6 496.7a4.05 4.05 0 1 0 8.1 0a4.05 4.05 0 1 0 -8.1 0zM333.2 494a4.05 4.05 0 1 0 8.1 0a4.05 4.05 0 1 0 -8.1 0zM355.2 437.3a4.05 4.05 0 1 0 8.1 0a4.05 4.05 0 1 0 -8.1 0zM189.6 388.4a4.05 4.05 0 1 0 8.1 0a4.05 4.05 0 1 0 -8.1 0zM248 395.3a4.05 4.05 0 1 0 8.1 0a4.05 4.05 0 1 0 -8.1 0zM103 535.9a4.05 4.05 0 1 0 8.1 0a4.05 4.05 0 1 0 -8.1 0zM170.9 546.3a4.05 4.05 0 1 0 8.1 0a4.05 4.05 0 1 0 -8.1 0zM180.2 533.3a4.05 4.05 0 1 0 8.1 0a4.05 4.05 0 1 0 -8.1 0zM164.2 524.6a4.05 4.05 0 1 0 8.1 0a4.05 4.05 0 1 0 -8.1 0zM202.2 525.9a4.05 4.05 0 1 0 8.1 0a4.05 4.05 0 1 0 -8.1 0zM208.9 525.7a4.05 4.05 0 1 0 8.1 0a4.05 4.05 0 1 0 -8.1 0zM223.6 522.3a4.05 4.05 0 1 0 8.1 0a4.05 4.05 0 1 0 -8.1 0zM121.7 491.3a4.05 4.05 0 1 0 8.1 0a4.05 4.05 0 1 0 -8.1 0zM107 485a4.05 4.05 0 1 0 8.1 0a4.05 4.05 0 1 0 -8.1 0zM114.2 469.4a4.05 4.05 0 1 0 8.1 0a4.05 4.05 0 1 0 -8.1 0zM120 468.3a4.05 4.05 0 1 0 8.1 0a4.05 4.05 0 1 0 -8.1 0zM142.9 482.3a4.05 4.05 0 1 0 8.1 0a4.05 4.05 0 1 0 -8.1 0zM136.2 474.3a4.05 4.05 0 1 0 8.1 0a4.05 4.05 0 1 0 -8.1 0zM138.9 463a4.05 4.05 0 1 0 8.1 0a4.05 4.05 0 1 0 -8.1 0zM139.6 468.3a4.05 4.05 0 1 0 8.1 0a4.05 4.05 0 1 0 -8.1 0zM142.9 454.3a4.05 4.05 0 1 0 8.1 0a4.05 4.05 0 1 0 -8.1 0zM389.9 345.6a4.05 4.05 0 1 0 8.1 0a4.05 4.05 0 1 0 -8.1 0zM349.2 385.1a4.05 4.05 0 1 0 8.1 0a4.05 4.05 0 1 0 -8.1 0zM330.8 395.7a4.05 4.05 0 1 0 8.1 0a4.05 4.05 0 1 0 -8.1 0zM374.6 402.7a4.05 4.05 0 1 0 8.1 0a4.05 4.05 0 1 0 -8.1 0zM386.6 411.1a4.05 4.05 0 1 0 8.1 0a4.05 4.05 0 1 0 -8.1 0zM375.6 418.4a4.05 4.05 0 1 0 8.1 0a4.05 4.05 0 1 0 -8.1 0zM423.6 430.3a4.05 4.05 0 1 0 8.1 0a4.05 4.05 0 1 0 -8.1 0zM413.9 438.7a4.05 4.05 0 1 0 8.1 0a4.05 4.05 0 1 0 -8.1 0zM469.6 436.3a4.05 4.05 0 1 0 8.1 0a4.05 4.05 0 1 0 -8.1 0zM375.6 466.7a4.05 4.05 0 1 0 8.1 0a4.05 4.05 0 1 0 -8.1 0zM454.8 469.4a4.05 4.05 0 1 0 8.1 0a4.05 4.05 0 1 0 -8.1 0zM298.3 541.3a4.05 4.05 0 1 0 8.1 0a4.05 4.05 0 1 0 -8.1 0zM187.1 479.4a4.05 4.05 0 1 0 8.1 0a4.05 4.05 0 1 0 -8.1 0zM168.3 477.2a4.05 4.05 0 1 0 8.1 0a4.05 4.05 0 1 0 -8.1 0zM162.6 455.4a4.05 4.05 0 1 0 8.1 0a4.05 4.05 0 1 0 -8.1 0zM228.5 492.5a4.05 4.05 0 1 0 8.1 0a4.05 4.05 0 1 0 -8.1 0zM218.6 463.6a4.05 4.05 0 1 0 8.1 0a4.05 4.05 0 1 0 -8.1 0zM226.9 438.6a4.05 4.05 0 1 0 8.1 0a4.05 4.05 0 1 0 -8.1 0zM148.5 480.9a4.05 4.05 0 1 0 8.1 0a4.05 4.05 0 1 0 -8.1 0zM273.6 450.3a4.05 4.05 0 1 0 8.1 0a4.05 4.05 0 1 0 -8.1 0zM231.4 464.5a4.05 4.05 0 1 0 8.1 0a4.05 4.05 0 1 0 -8.1 0zM264.6 450.3a4.05 4.05 0 1 0 8.1 0a4.05 4.05 0 1 0 -8.1 0zM179.8 473.9a4.05 4.05 0 1 0 8.1 0a4.05 4.05 0 1 0 -8.1 0zM182.1 464.6a4.05 4.05 0 1 0 8.1 0a4.05 4.05 0 1 0 -8.1 0zM207.1 486.4a4.05 4.05 0 1 0 8.1 0a4.05 4.05 0 1 0 -8.1 0zM198.8 468a4.05 4.05 0 1 0 8.1 0a4.05 4.05 0 1 0 -8.1 0zM178 449.7a4.05 4.05 0 1 0 8.1 0a4.05 4.05 0 1 0 -8.1 0zM156.9 483.7a4.05 4.05 0 1 0 8.1 0a4.05 4.05 0 1 0 -8.1 0zM158.2 470.6a4.05 4.05 0 1 0 8.1 0a4.05 4.05 0 1 0 -8.1 0zM261.1 461.2a4.05 4.05 0 1 0 8.1 0a4.05 4.05 0 1 0 -8.1 0zM186.8 492.5a4.05 4.05 0 1 0 8.1 0a4.05 4.05 0 1 0 -8.1 0zM241 463.1a4.05 4.05 0 1 0 8.1 0a4.05 4.05 0 1 0 -8.1 0zM242.3 452.2a4.05 4.05 0 1 0 8.1 0a4.05 4.05 0 1 0 -8.1 0zM256.3 451.7a4.05 4.05 0 1 0 8.1 0a4.05 4.05 0 1 0 -8.1 0zM214.5 485.7a4.05 4.05 0 1 0 8.1 0a4.05 4.05 0 1 0 -8.1 0zM197.6 447.6a4.05 4.05 0 1 0 8.1 0a4.05 4.05 0 1 0 -8.1 0zM221.8 445.4a4.05 4.05 0 1 0 8.1 0a4.05 4.05 0 1 0 -8.1 0zM183.8 455.5a4.05 4.05 0 1 0 8.1 0a4.05 4.05 0 1 0 -8.1 0zM205.6 464a4.05 4.05 0 1 0 8.1 0a4.05 4.05 0 1 0 -8.1 0zM224 485.2a4.05 4.05 0 1 0 8.1 0a4.05 4.05 0 1 0 -8.1 0zM243.8 487a4.05 4.05 0 1 0 8.1 0a4.05 4.05 0 1 0 -8.1 0zM190.1 450a4.05 4.05 0 1 0 8.1 0a4.05 4.05 0 1 0 -8.1 0zM190.8 466a4.05 4.05 0 1 0 8.1 0a4.05 4.05 0 1 0 -8.1 0zM175.2 480.1a4.05 4.05 0 1 0 8.1 0a4.05 4.05 0 1 0 -8.1 0zM193.2 439.1a4.05 4.05 0 1 0 8.1 0a4.05 4.05 0 1 0 -8.1 0zM250.4 440.8a4.05 4.05 0 1 0 8.1 0a4.05 4.05 0 1 0 -8.1 0zM205.8 478.8a4.05 4.05 0 1 0 8.1 0a4.05 4.05 0 1 0 -8.1 0zM238.1 481.7a4.05 4.05 0 1 0 8.1 0a4.05 4.05 0 1 0 -8.1 0zM154.8 464a4.05 4.05 0 1 0 8.1 0a4.05 4.05 0 1 0 -8.1 0zM247.2 458.4a4.05 4.05 0 1 0 8.1 0a4.05 4.05 0 1 0 -8.1 0zM206.6 438.5a4.05 4.05 0 1 0 8.1 0a4.05 4.05 0 1 0 -8.1 0zM179.2 492.2a4.05 4.05 0 1 0 8.1 0a4.05 4.05 0 1 0 -8.1 0zM253.6 474.6a4.05 4.05 0 1 0 8.1 0a4.05 4.05 0 1 0 -8.1 0zM206 454.9a4.05 4.05 0 1 0 8.1 0a4.05 4.05 0 1 0 -8.1 0zM237.9 470.2a4.05 4.05 0 1 0 8.1 0a4.05 4.05 0 1 0 -8.1 0zM203.3 493.3a4.05 4.05 0 1 0 8.1 0a4.05 4.05 0 1 0 -8.1 0zM194.8 479.7a4.05 4.05 0 1 0 8.1 0a4.05 4.05 0 1 0 -8.1 0zM169.8 486.2a4.05 4.05 0 1 0 8.1 0a4.05 4.05 0 1 0 -8.1 0zM238.8 493a4.05 4.05 0 1 0 8.1 0a4.05 4.05 0 1 0 -8.1 0z"/>
<line x1="107" y1="489.4" x2="473.5" y2="412.7" stroke="#000" stroke-width="3.05"/>
<rect x="463" y="500.1" width="127" height="51.6" fill="#fff"/>
<text x="528.5" y="519.6" font-size="12.3" text-anchor="middle" fill="#1a1a1a">Pearson: 0.413***</text>
<text x="528.1" y="536.8" font-size="12.3" text-anchor="middle" fill="#1a1a1a">Spearman: 0.391***</text>
<text x="102.8" y="578" font-size="16" text-anchor="middle" fill="#444">5.0</text>
<text x="195.2" y="578" font-size="16" text-anchor="middle" fill="#444">7.5</text>
<text x="287.6" y="578" font-size="16" text-anchor="middle" fill="#444">10.0</text>
<text x="379.9" y="578" font-size="16" text-anchor="middle" fill="#444">12.5</text>
<text x="472.3" y="578" font-size="16" text-anchor="middle" fill="#444">15.0</text>
<text x="76.4" y="539" font-size="16" text-anchor="end" fill="#444">4</text>
<text x="76.4" y="492.7" font-size="16" text-anchor="end" fill="#444">5</text>
<text x="76.4" y="446.4" font-size="16" text-anchor="end" fill="#444">6</text>
<text x="76.4" y="400.1" font-size="16" text-anchor="end" fill="#444">7</text>
<text x="76.4" y="353.8" font-size="16" text-anchor="end" fill="#444">8</text>
<path d="M102.8 556v5.3M195.2 556v5.3M287.6 556v5.3M379.9 556v5.3M472.3 556v5.3M86.8 533.3h-5.3M86.8 487h-5.3M86.8 440.7h-5.3M86.8 394.4h-5.3M86.8 348.1h-5.3" stroke="#333" stroke-width="1.7" fill="none"/>
<text x="10.5" y="317.7" font-size="19.5" fill="#000">D)</text>
<text transform="translate(53.2 449.2) rotate(-90)" font-size="16.3" text-anchor="middle" textLength="246.1" lengthAdjust="spacingAndGlyphs" fill="#000" xml:space="preserve" style="white-space:pre">mRNA expression COL5A2 (log2)</text>
</g>
<g id="panel-E">
<clipPath id="clipE"><rect x="668.9" y="336" width="404.9" height="222.5"/></clipPath>
<rect x="668.9" y="336" width="404.9" height="222.5" fill="#ebebeb"/>
<g clip-path="url(#clipE)" stroke="#fff" fill="none"><path d="M690.3 336V558.5M796.3 336V558.5M902.3 336V558.5M668.9 512H1073.8M668.9 465.4H1073.8M668.9 418.8H1073.8M668.9 372.2H1073.8" stroke-width="1.1"/><path d="M743.3 336V558.5M849.3 336V558.5M955.3 336V558.5M1061.3 336V558.5M668.9 535.3H1073.8M668.9 488.7H1073.8M668.9 442.1H1073.8M668.9 395.5H1073.8M668.9 348.9H1073.8" stroke-width="1.9"/></g>
<path class="pts" fill="#0000ff" d="M799.7 415.7a4.05 4.05 0 1 0 8.1 0a4.05 4.05 0 1 0 -8.1 0zM860.2 405.4a4.05 4.05 0 1 0 8.1 0a4.05 4.05 0 1 0 -8.1 0zM886 397a4.05 4.05 0 1 0 8.1 0a4.05 4.05 0 1 0 -8.1 0zM918.9 397a4.05 4.05 0 1 0 8.1 0a4.05 4.05 0 1 0 -8.1 0zM892.7 401.7a4.05 4.05 0 1 0 8.1 0a4.05 4.05 0 1 0 -8.1 0zM899.2 403.7a4.05 4.05 0 1 0 8.1 0a4.05 4.05 0 1 0 -8.1 0zM881.2 407.7a4.05 4.05 0 1 0 8.1 0a4.05 4.05 0 1 0 -8.1 0zM904.7 412.3a4.05 4.05 0 1 0 8.1 0a4.05 4.05 0 1 0 -8.1 0zM907.2 417.7a4.05 4.05 0 1 0 8.1 0a4.05 4.05 0 1 0 -8.1 0zM884 415a4.05 4.05 0 1 0 8.1 0a4.05 4.05 0 1 0 -8.1 0zM889.2 416.3a4.05 4.05 0 1 0 8.1 0a4.05 4.05 0 1 0 -8.1 0zM894.7 418.3a4.05 4.05 0 1 0 8.1 0a4.05 4.05 0 1 0 -8.1 0zM884 420.3a4.05 4.05 0 1 0 8.1 0a4.05 4.05 0 1 0 -8.1 0zM925.1 419.7a4.05 4.05 0 1 0 8.1 0a4.05 4.05 0 1 0 -8.1 0zM922.7 429.7a4.05 4.05 0 1 0 8.1 0a4.05 4.05 0 1 0 -8.1 0zM923.2 435a4.05 4.05 0 1 0 8.1 0a4.05 4.05 0 1 0 -8.1 0zM904 426.3a4.05 4.05 0 1 0 8.1 0a4.05 4.05 0 1 0 -8.1 0zM900.7 431a4.05 4.05 0 1 0 8.1 0a4.05 4.05 0 1 0 -8.1 0zM902.7 436.3a4.05 4.05 0 1 0 8.1 0a4.05 4.05 0 1 0 -8.1 0zM906.7 439a4.05 4.05 0 1 0 8.1 0a4.05 4.05 0 1 0 -8.1 0zM836 419.7a4.05 4.05 0 1 0 8.1 0a4.05 4.05 0 1 0 -8.1 0zM843.2 417a4.05 4.05 0 1 0 8.1 0a4.05 4.05 0 1 0 -8.1 0zM854.7 418.3a4.05 4.05 0 1 0 8.1 0a4.05 4.05 0 1 0 -8.1 0zM861.2 417a4.05 4.05 0 1 0 8.1 0a4.05 4.05 0 1 0 -8.1 0zM870.7 417a4.05 4.05 0 1 0 8.1 0a4.05 4.05 0 1 0 -8.1 0zM868 423a4.05 4.05 0 1 0 8.1 0a4.05 4.05 0 1 0 -8.1 0zM780 433.7a4.05 4.05 0 1 0 8.1 0a4.05 4.05 0 1 0 -8.1 0zM785.2 437a4.05 4.05 0 1 0 8.1 0a4.05 4.05 0 1 0 -8.1 0zM774.7 446.7a4.05 4.05 0 1 0 8.1 0a4.05 4.05 0 1 0 -8.1 0zM800.7 434.3a4.05 4.05 0 1 0 8.1 0a4.05 4.05 0 1 0 -8.1 0zM810 433a4.05 4.05 0 1 0 8.1 0a4.05 4.05 0 1 0 -8.1 0zM818.7 429.7a4.05 4.05 0 1 0 8.1 0a4.05 4.05 0 1 0 -8.1 0zM797.2 444.3a4.05 4.05 0 1 0 8.1 0a4.05 4.05 0 1 0 -8.1 0zM890.7 437.7a4.05 4.05 0 1 0 8.1 0a4.05 4.05 0 1 0 -8.1 0zM872 437.7a4.05 4.05 0 1 0 8.1 0a4.05 4.05 0 1 0 -8.1 0zM902 444.3a4.05 4.05 0 1 0 8.1 0a4.05 4.05 0 1 0 -8.1 0zM904 452.3a4.05 4.05 0 1 0 8.1 0a4.05 4.05 0 1 0 -8.1 0zM908 460.3a4.05 4.05 0 1 0 8.1 0a4.05 4.05 0 1 0 -8.1 0zM920 461.7a4.05 4.05 0 1 0 8.1 0a4.05 4.05 0 1 0 -8.1 0zM906.7 467.7a4.05 4.05 0 1 0 8.1 0a4.05 4.05 0 1 0 -8.1 0zM900 467.7a4.05 4.05 0 1 0 8.1 0a4.05 4.05 0 1 0 -8.1 0zM894 471a4.05 4.05 0 1 0 8.1 0a4.05 4.05 0 1 0 -8.1 0zM913.7 475.7a4.05 4.05 0 1 0 8.1 0a4.05 4.05 0 1 0 -8.1 0zM944.2 499a4.05 4.05 0 1 0 8.1 0a4.05 4.05 0 1 0 -8.1 0zM901.2 502.1a4.05 4.05 0 1 0 8.1 0a4.05 4.05 0 1 0 -8.1 0zM884 492.3a4.05 4.05 0 1 0 8.1 0a4.05 4.05 0 1 0 -8.1 0zM886 497.7a4.05 4.05 0 1 0 8.1 0a4.05 4.05 0 1 0 -8.1 0zM888.7 502.3a4.05 4.05 0 1 0 8.1 0a4.05 4.05 0 1 0 -8.1 0zM867.2 512.3a4.05 4.05 0 1 0 8.1 0a4.05 4.05 0 1 0 -8.1 0zM861.2 505.7a4.05 4.05 0 1 0 8.1 0a4.05 4.05 0 1 0 -8.1 0zM869.2 503a4.05 4.05 0 1 0 8.1 0a4.05 4.05 0 1 0 -8.1 0zM844 505.7a4.05 4.05 0 1 0 8.1 0a4.05 4.05 0 1 0 -8.1 0zM834.7 501.7a4.05 4.05 0 1 0 8.1 0a4.05 4.05 0 1 0 -8.1 0zM823.2 509.7a4.05 4.05 0 1 0 8.1 0a4.05 4.05 0 1 0 -8.1 0zM793.2 511a4.05 4.05 0 1 0 8.1 0a4.05 4.05 0 1 0 -8.1 0zM802.7 507a4.05 4.05 0 1 0 8.1 0a4.05 4.05 0 1 0 -8.1 0zM801.2 497a4.05 4.05 0 1 0 8.1 0a4.05 4.05 0 1 0 -8.1 0zM786.7 491.7a4.05 4.05 0 1 0 8.1 0a4.05 4.05 0 1 0 -8.1 0zM790.7 492.3a4.05 4.05 0 1 0 8.1 0a4.05 4.05 0 1 0 -8.1 0zM773.2 501.7a4.05 4.05 0 1 0 8.1 0a4.05 4.05 0 1 0 -8.1 0zM759.2 493.7a4.05 4.05 0 1 0 8.1 0a4.05 4.05 0 1 0 -8.1 0zM770.7 491a4.05 4.05 0 1 0 8.1 0a4.05 4.05 0 1 0 -8.1 0zM776 488.3a4.05 4.05 0 1 0 8.1 0a4.05 4.05 0 1 0 -8.1 0zM780 460.3a4.05 4.05 0 1 0 8.1 0a4.05 4.05 0 1 0 -8.1 0zM785.2 461.7a4.05 4.05 0 1 0 8.1 0a4.05 4.05 0 1 0 -8.1 0zM782.7 467a4.05 4.05 0 1 0 8.1 0a4.05 4.05 0 1 0 -8.1 0zM780 471a4.05 4.05 0 1 0 8.1 0a4.05 4.05 0 1 0 -8.1 0zM786.7 472.3a4.05 4.05 0 1 0 8.1 0a4.05 4.05 0 1 0 -8.1 0zM889.2 464.3a4.05 4.05 0 1 0 8.1 0a4.05 4.05 0 1 0 -8.1 0zM884 469.7a4.05 4.05 0 1 0 8.1 0a4.05 4.05 0 1 0 -8.1 0zM877.2 465.7a4.05 4.05 0 1 0 8.1 0a4.05 4.05 0 1 0 -8.1 0zM893.2 457a4.05 4.05 0 1 0 8.1 0a4.05 4.05 0 1 0 -8.1 0zM865.2 467a4.05 4.05 0 1 0 8.1 0a4.05 4.05 0 1 0 -8.1 0zM792.2 390.3a4.05 4.05 0 1 0 8.1 0a4.05 4.05 0 1 0 -8.1 0zM683.4 537.9a4.05 4.05 0 1 0 8.1 0a4.05 4.05 0 1 0 -8.1 0zM737.7 472.6a4.05 4.05 0 1 0 8.1 0a4.05 4.05 0 1 0 -8.1 0zM765.9 548.3a4.05 4.05 0 1 0 8.1 0a4.05 4.05 0 1 0 -8.1 0zM779 543.7a4.05 4.05 0 1 0 8.1 0a4.05 4.05 0 1 0 -8.1 0zM793 526.6a4.05 4.05 0 1 0 8.1 0a4.05 4.05 0 1 0 -8.1 0zM798.2 527.9a4.05 4.05 0 1 0 8.1 0a4.05 4.05 0 1 0 -8.1 0zM824.7 527.9a4.05 4.05 0 1 0 8.1 0a4.05 4.05 0 1 0 -8.1 0zM811.7 516.3a4.05 4.05 0 1 0 8.1 0a4.05 4.05 0 1 0 -8.1 0zM938.4 346.7a4.05 4.05 0 1 0 8.1 0a4.05 4.05 0 1 0 -8.1 0zM1051.2 386.9a4.05 4.05 0 1 0 8.1 0a4.05 4.05 0 1 0 -8.1 0zM986 454.7a4.05 4.05 0 1 0 8.1 0a4.05 4.05 0 1 0 -8.1 0zM906.7 524.1a4.05 4.05 0 1 0 8.1 0a4.05 4.05 0 1 0 -8.1 0zM890.4 535.7a4.05 4.05 0 1 0 8.1 0a4.05 4.05 0 1 0 -8.1 0zM800 514a4.05 4.05 0 1 0 8.1 0a4.05 4.05 0 1 0 -8.1 0zM805.6 515.6a4.05 4.05 0 1 0 8.1 0a4.05 4.05 0 1 0 -8.1 0zM810.7 506a4.05 4.05 0 1 0 8.1 0a4.05 4.05 0 1 0 -8.1 0zM813.6 500.4a4.05 4.05 0 1 0 8.1 0a4.05 4.05 0 1 0 -8.1 0zM808 511.1a4.05 4.05 0 1 0 8.1 0a4.05 4.05 0 1 0 -8.1 0zM828.2 510.7a4.05 4.05 0 1 0 8.1 0a4.05 4.05 0 1 0 -8.1 0zM836 504.9a4.05 4.05 0 1 0 8.1 0a4.05 4.05 0 1 0 -8.1 0zM841.2 494a4.05 4.05 0 1 0 8.1 0a4.05 4.05 0 1 0 -8.1 0zM849.2 490a4.05 4.05 0 1 0 8.1 0a4.05 4.05 0 1 0 -8.1 0zM856 495.3a4.05 4.05 0 1 0 8.1 0a4.05 4.05 0 1 0 -8.1 0zM862.7 495.6a4.05 4.05 0 1 0 8.1 0a4.05 4.05 0 1 0 -8.1 0zM873.2 496.7a4.05 4.05 0 1 0 8.1 0a4.05 4.05 0 1 0 -8.1 0zM876 488.7a4.05 4.05 0 1 0 8.1 0a4.05 4.05 0 1 0 -8.1 0zM818.7 494a4.05 4.05 0 1 0 8.1 0a4.05 4.05 0 1 0 -8.1 0zM828 495.3a4.05 4.05 0 1 0 8.1 0a4.05 4.05 0 1 0 -8.1 0zM796 503.3a4.05 4.05 0 1 0 8.1 0a4.05 4.05 0 1 0 -8.1 0zM812.6 451a4.05 4.05 0 1 0 8.1 0a4.05 4.05 0 1 0 -8.1 0zM860.7 446a4.05 4.05 0 1 0 8.1 0a4.05 4.05 0 1 0 -8.1 0zM815 441.5a4.05 4.05 0 1 0 8.1 0a4.05 4.05 0 1 0 -8.1 0zM811.8 461.1a4.05 4.05 0 1 0 8.1 0a4.05 4.05 0 1 0 -8.1 0zM846 452.9a4.05 4.05 0 1 0 8.1 0a4.05 4.05 0 1 0 -8.1 0zM854.2 456.8a4.05 4.05 0 1 0 8.1 0a4.05 4.05 0 1 0 -8.1 0zM858.9 484a4.05 4.05 0 1 0 8.1 0a4.05 4.05 0 1 0 -8.1 0zM817.4 464.6a4.05 4.05 0 1 0 8.1 0a4.05 4.05 0 1 0 -8.1 0zM839.5 437.2a4.05 4.05 0 1 0 8.1 0a4.05 4.05 0 1 0 -8.1 0zM872.7 449.2a4.05 4.05 0 1 0 8.1 0a4.05 4.05 0 1 0 -8.1 0zM880.9 450.8a4.05 4.05 0 1 0 8.1 0a4.05 4.05 0 1 0 -8.1 0zM833.2 428.1a4.05 4.05 0 1 0 8.1 0a4.05 4.05 0 1 0 -8.1 0zM838.6 454.3a4.05 4.05 0 1 0 8.1 0a4.05 4.05 0 1 0 -8.1 0zM839.2 463.4a4.05 4.05 0 1 0 8.1 0a4.05 4.05 0 1 0 -8.1 0zM846.5 461.7a4.05 4.05 0 1 0 8.1 0a4.05 4.05 0 1 0 -8.1 0zM867.8 473.1a4.05 4.05 0 1 0 8.1 0a4.05 4.05 0 1 0 -8.1 0zM822.2 477.9a4.05 4.05 0 1 0 8.1 0a4.05 4.05 0 1 0 -8.1 0zM827 451.8a4.05 4.05 0 1 0 8.1 0a4.05 4.05 0 1 0 -8.1 0zM851.5 482.8a4.05 4.05 0 1 0 8.1 0a4.05 4.05 0 1 0 -8.1 0zM872.4 491.1a4.05 4.05 0 1 0 8.1 0a4.05 4.05 0 1 0 -8.1 0zM798.1 451.4a4.05 4.05 0 1 0 8.1 0a4.05 4.05 0 1 0 -8.1 0zM828.4 490a4.05 4.05 0 1 0 8.1 0a4.05 4.05 0 1 0 -8.1 0zM804 478.5a4.05 4.05 0 1 0 8.1 0a4.05 4.05 0 1 0 -8.1 0zM874.1 478.5a4.05 4.05 0 1 0 8.1 0a4.05 4.05 0 1 0 -8.1 0zM847.4 469.3a4.05 4.05 0 1 0 8.1 0a4.05 4.05 0 1 0 -8.1 0zM865.1 453.6a4.05 4.05 0 1 0 8.1 0a4.05 4.05 0 1 0 -8.1 0zM812 469.9a4.05 4.05 0 1 0 8.1 0a4.05 4.05 0 1 0 -8.1 0zM841.4 431.7a4.05 4.05 0 1 0 8.1 0a4.05 4.05 0 1 0 -8.1 0zM859.6 489.6a4.05 4.05 0 1 0 8.1 0a4.05 4.05 0 1 0 -8.1 0zM798.2 477.7a4.05 4.05 0 1 0 8.1 0a4.05 4.05 0 1 0 -8.1 0zM869.5 484.2a4.05 4.05 0 1 0 8.1 0a4.05 4.05 0 1 0 -8.1 0zM830.9 458.1a4.05 4.05 0 1 0 8.1 0a4.05 4.05 0 1 0 -8.1 0zM836.1 473.3a4.05 4.05 0 1 0 8.1 0a4.05 4.05 0 1 0 -8.1 0zM835.6 490a4.05 4.05 0 1 0 8.1 0a4.05 4.05 0 1 0 -8.1 0zM829.6 476.7a4.05 4.05 0 1 0 8.1 0a4.05 4.05 0 1 0 -8.1 0zM876.6 460.6a4.05 4.05 0 1 0 8.1 0a4.05 4.05 0 1 0 -8.1 0zM855.8 442.5a4.05 4.05 0 1 0 8.1 0a4.05 4.05 0 1 0 -8.1 0zM821 454.7a4.05 4.05 0 1 0 8.1 0a4.05 4.05 0 1 0 -8.1 0zM856.2 430a4.05 4.05 0 1 0 8.1 0a4.05 4.05 0 1 0 -8.1 0zM801.5 441.2a4.05 4.05 0 1 0 8.1 0a4.05 4.05 0 1 0 -8.1 0zM807 442a4.05 4.05 0 1 0 8.1 0a4.05 4.05 0 1 0 -8.1 0zM804.5 466.7a4.05 4.05 0 1 0 8.1 0a4.05 4.05 0 1 0 -8.1 0zM861.1 475.6a4.05 4.05 0 1 0 8.1 0a4.05 4.05 0 1 0 -8.1 0zM852.2 425.5a4.05 4.05 0 1 0 8.1 0a4.05 4.05 0 1 0 -8.1 0zM837.5 481.5a4.05 4.05 0 1 0 8.1 0a4.05 4.05 0 1 0 -8.1 0zM857.9 465.6a4.05 4.05 0 1 0 8.1 0a4.05 4.05 0 1 0 -8.1 0zM828 442.4a4.05 4.05 0 1 0 8.1 0a4.05 4.05 0 1 0 -8.1 0zM865.6 492a4.05 4.05 0 1 0 8.1 0a4.05 4.05 0 1 0 -8.1 0zM852.9 475.8a4.05 4.05 0 1 0 8.1 0a4.05 4.05 0 1 0 -8.1 0zM801.6 471.9a4.05 4.05 0 1 0 8.1 0a4.05 4.05 0 1 0 -8.1 0zM822.2 436.3a4.05 4.05 0 1 0 8.1 0a4.05 4.05 0 1 0 -8.1 0zM845.6 484.6a4.05 4.05 0 1 0 8.1 0a4.05 4.05 0 1 0 -8.1 0zM831.4 484.5a4.05 4.05 0 1 0 8.1 0a4.05 4.05 0 1 0 -8.1 0zM818.9 448.1a4.05 4.05 0 1 0 8.1 0a4.05 4.05 0 1 0 -8.1 0zM826.5 468.6a4.05 4.05 0 1 0 8.1 0a4.05 4.05 0 1 0 -8.1 0zM842.2 448.5a4.05 4.05 0 1 0 8.1 0a4.05 4.05 0 1 0 -8.1 0zM809.4 484a4.05 4.05 0 1 0 8.1 0a4.05 4.05 0 1 0 -8.1 0zM875.4 442.3a4.05 4.05 0 1 0 8.1 0a4.05 4.05 0 1 0 -8.1 0zM795.5 472a4.05 4.05 0 1 0 8.1 0a4.05 4.05 0 1 0 -8.1 0zM820.7 441.5a4.05 4.05 0 1 0 8.1 0a4.05 4.05 0 1 0 -8.1 0zM846.2 428a4.05 4.05 0 1 0 8.1 0a4.05 4.05 0 1 0 -8.1 0zM850 434.1a4.05 4.05 0 1 0 8.1 0a4.05 4.05 0 1 0 -8.1 0zM831.6 438.2a4.05 4.05 0 1 0 8.1 0a4.05 4.05 0 1 0 -8.1 0zM812.6 493.9a4.05 4.05 0 1 0 8.1 0a4.05 4.05 0 1 0 -8.1 0zM820.6 486.6a4.05 4.05 0 1 0 8.1 0a4.05 4.05 0 1 0 -8.1 0zM814.6 475.9a4.05 4.05 0 1 0 8.1 0a4.05 4.05 0 1 0 -8.1 0zM864.1 461.5a4.05 4.05 0 1 0 8.1 0a4.05 4.05 0 1 0 -8.1 0zM817 458.4a4.05 4.05 0 1 0 8.1 0a4.05 4.05 0 1 0 -8.1 0zM832.4 467.2a4.05 4.05 0 1 0 8.1 0a4.05 4.05 0 1 0 -8.1 0zM833.6 445.7a4.05 4.05 0 1 0 8.1 0a4.05 4.05 0 1 0 -8.1 0zM883.2 444.2a4.05 4.05 0 1 0 8.1 0a4.05 4.05 0 1 0 -8.1 0zM807.8 489.4a4.05 4.05 0 1 0 8.1 0a4.05 4.05 0 1 0 -8.1 0zM847.9 444.3a4.05 4.05 0 1 0 8.1 0a4.05 4.05 0 1 0 -8.1 0zM846.2 477.3a4.05 4.05 0 1 0 8.1 0a4.05 4.05 0 1 0 -8.1 0zM851.1 449.5a4.05 4.05 0 1 0 8.1 0a4.05 4.05 0 1 0 -8.1 0zM858.5 452.8a4.05 4.05 0 1 0 8.1 0a4.05 4.05 0 1 0 -8.1 0zM823.4 492.4a4.05 4.05 0 1 0 8.1 0a4.05 4.05 0 1 0 -8.1 0zM866.1 479.2a4.05 4.05 0 1 0 8.1 0a4.05 4.05 0 1 0 -8.1 0zM816.9 435.1a4.05 4.05 0 1 0 8.1 0a4.05 4.05 0 1 0 -8.1 0zM875.2 454.2a4.05 4.05 0 1 0 8.1 0a4.05 4.05 0 1 0 -8.1 0zM795.7 458.1a4.05 4.05 0 1 0 8.1 0a4.05 4.05 0 1 0 -8.1 0zM824.2 461.5a4.05 4.05 0 1 0 8.1 0a4.05 4.05 0 1 0 -8.1 0zM805.9 455.5a4.05 4.05 0 1 0 8.1 0a4.05 4.05 0 1 0 -8.1 0zM870.5 460.4a4.05 4.05 0 1 0 8.1 0a4.05 4.05 0 1 0 -8.1 0zM805.6 447.4a4.05 4.05 0 1 0 8.1 0a4.05 4.05 0 1 0 -8.1 0zM884.6 456.9a4.05 4.05 0 1 0 8.1 0a4.05 4.05 0 1 0 -8.1 0zM840.2 486.3a4.05 4.05 0 1 0 8.1 0a4.05 4.05 0 1 0 -8.1 0zM806.1 461.1a4.05 4.05 0 1 0 8.1 0a4.05 4.05 0 1 0 -8.1 0zM832.8 451.5a4.05 4.05 0 1 0 8.1 0a4.05 4.05 0 1 0 -8.1 0zM809.9 478.6a4.05 4.05 0 1 0 8.1 0a4.05 4.05 0 1 0 -8.1 0zM856.6 435.5a4.05 4.05 0 1 0 8.1 0a4.05 4.05 0 1 0 -8.1 0zM794.9 463.6a4.05 4.05 0 1 0 8.1 0a4.05 4.05 0 1 0 -8.1 0zM870.9 466.8a4.05 4.05 0 1 0 8.1 0a4.05 4.05 0 1 0 -8.1 0zM852 463.1a4.05 4.05 0 1 0 8.1 0a4.05 4.05 0 1 0 -8.1 0zM842.8 442.4a4.05 4.05 0 1 0 8.1 0a4.05 4.05 0 1 0 -8.1 0zM865.6 443.5a4.05 4.05 0 1 0 8.1 0a4.05 4.05 0 1 0 -8.1 0zM820.6 472a4.05 4.05 0 1 0 8.1 0a4.05 4.05 0 1 0 -8.1 0zM841.6 470.9a4.05 4.05 0 1 0 8.1 0a4.05 4.05 0 1 0 -8.1 0zM815.2 481.4a4.05 4.05 0 1 0 8.1 0a4.05 4.05 0 1 0 -8.1 0zM827.6 430.2a4.05 4.05 0 1 0 8.1 0a4.05 4.05 0 1 0 -8.1 0zM856.9 471.3a4.05 4.05 0 1 0 8.1 0a4.05 4.05 0 1 0 -8.1 0zM806.6 494.9a4.05 4.05 0 1 0 8.1 0a4.05 4.05 0 1 0 -8.1 0zM792.2 477.1a4.05 4.05 0 1 0 8.1 0a4.05 4.05 0 1 0 -8.1 0zM801.6 485.1a4.05 4.05 0 1 0 8.1 0a4.05 4.05 0 1 0 -8.1 0zM826.6 481.3a4.05 4.05 0 1 0 8.1 0a4.05 4.05 0 1 0 -8.1 0zM807.2 473.6a4.05 4.05 0 1 0 8.1 0a4.05 4.05 0 1 0 -8.1 0zM835.8 433.3a4.05 4.05 0 1 0 8.1 0a4.05 4.05 0 1 0 -8.1 0zM854.2 488a4.05 4.05 0 1 0 8.1 0a4.05 4.05 0 1 0 -8.1 0zM846 437.9a4.05 4.05 0 1 0 8.1 0a4.05 4.05 0 1 0 -8.1 0zM840.6 426.3a4.05 4.05 0 1 0 8.1 0a4.05 4.05 0 1 0 -8.1 0zM811.1 437.3a4.05 4.05 0 1 0 8.1 0a4.05 4.05 0 1 0 -8.1 0zM876.1 484.1a4.05 4.05 0 1 0 8.1 0a4.05 4.05 0 1 0 -8.1 0zM861.4 432.3a4.05 4.05 0 1 0 8.1 0a4.05 4.05 0 1 0 -8.1 0zM800.4 463.2a4.05 4.05 0 1 0 8.1 0a4.05 4.05 0 1 0 -8.1 0z"/>
<line x1="688.7" y1="509.7" x2="1055.2" y2="406" stroke="#000" stroke-width="3.05"/>
<rect x="1038.8" y="503.5" width="121.2" height="42.3" fill="#fff"/>
<text x="1099.6" y="518.8" font-size="12.3" text-anchor="middle" fill="#1a1a1a">Pearson: 0.395***</text>
<text x="1099.6" y="535.6" font-size="12.3" text-anchor="middle" fill="#1a1a1a">Spearman: 0.34***</text>
<text x="743.3" y="580.5" font-size="16" text-anchor="middle" fill="#444">7.5</text>
<text x="849.3" y="580.5" font-size="16" text-anchor="middle" fill="#444">10.0</text>
<text x="955.3" y="580.5" font-size="16" text-anchor="middle" fill="#444">12.5</text>
<text x="1061.3" y="580.5" font-size="16" text-anchor="middle" fill="#444">15.0</text>
<text x="658.5" y="541" font-size="16" text-anchor="end" fill="#444">4</text>
<text x="658.5" y="494.4" font-size="16" text-anchor="end" fill="#444">5</text>
<text x="658.5" y="447.8" font-size="16" text-anchor="end" fill="#444">6</text>
<text x="658.5" y="401.2" font-size="16" text-anchor="end" fill="#444">7</text>
<text x="658.5" y="354.6" font-size="16" text-anchor="end" fill="#444">8</text>
<path d="M743.3 558.5v5.3M849.3 558.5v5.3M955.3 558.5v5.3M1061.3 558.5v5.3M668.9 535.3h-5.3M668.9 488.7h-5.3M668.9 442.1h-5.3M668.9 395.5h-5.3M668.9 348.9h-5.3" stroke="#333" stroke-width="1.7" fill="none"/>
<text x="589.5" y="317.3" font-size="19.5" fill="#000">E)</text>
<text transform="translate(629.6 447) rotate(-90)" font-size="16.3" text-anchor="middle" textLength="245.6" lengthAdjust="spacingAndGlyphs" fill="#000" xml:space="preserve" style="white-space:pre">mRNA expression COL1A1 (log2)</text>
</g>
<g id="panel-F">
<clipPath id="clipF"><rect x="1256.8" y="337.3" width="405.3" height="219.8"/></clipPath>
<rect x="1256.8" y="337.3" width="405.3" height="219.8" fill="#ebebeb"/>
<g clip-path="url(#clipF)" stroke="#fff" fill="none"><path d="M1278.3 337.3V557.1M1384.3 337.3V557.1M1490.3 337.3V557.1M1596.3 337.3V557.1M1256.8 522.9H1662.1M1256.8 471.9H1662.1M1256.8 420.9H1662.1M1256.8 369.9H1662.1" stroke-width="1.1"/><path d="M1331.3 337.3V557.1M1437.3 337.3V557.1M1543.3 337.3V557.1M1649.3 337.3V557.1M1256.8 548.4H1662.1M1256.8 497.4H1662.1M1256.8 446.4H1662.1M1256.8 395.4H1662.1M1256.8 344.4H1662.1" stroke-width="1.9"/></g>
<path class="pts" fill="#0000ff" d="M1367.5 437.6a4.05 4.05 0 1 0 8.1 0a4.05 4.05 0 1 0 -8.1 0zM1387 436.3a4.05 4.05 0 1 0 8.1 0a4.05 4.05 0 1 0 -8.1 0zM1395 431.1a4.05 4.05 0 1 0 8.1 0a4.05 4.05 0 1 0 -8.1 0zM1430.7 429.7a4.05 4.05 0 1 0 8.1 0a4.05 4.05 0 1 0 -8.1 0zM1447.2 427.3a4.05 4.05 0 1 0 8.1 0a4.05 4.05 0 1 0 -8.1 0zM1452 432.7a4.05 4.05 0 1 0 8.1 0a4.05 4.05 0 1 0 -8.1 0zM1456.7 437.3a4.05 4.05 0 1 0 8.1 0a4.05 4.05 0 1 0 -8.1 0zM1442.7 437.3a4.05 4.05 0 1 0 8.1 0a4.05 4.05 0 1 0 -8.1 0zM1429.2 442a4.05 4.05 0 1 0 8.1 0a4.05 4.05 0 1 0 -8.1 0zM1423.2 448a4.05 4.05 0 1 0 8.1 0a4.05 4.05 0 1 0 -8.1 0zM1405.2 450.7a4.05 4.05 0 1 0 8.1 0a4.05 4.05 0 1 0 -8.1 0zM1413.2 450a4.05 4.05 0 1 0 8.1 0a4.05 4.05 0 1 0 -8.1 0zM1416 455.3a4.05 4.05 0 1 0 8.1 0a4.05 4.05 0 1 0 -8.1 0zM1432 456a4.05 4.05 0 1 0 8.1 0a4.05 4.05 0 1 0 -8.1 0zM1424 458a4.05 4.05 0 1 0 8.1 0a4.05 4.05 0 1 0 -8.1 0zM1490 424.7a4.05 4.05 0 1 0 8.1 0a4.05 4.05 0 1 0 -8.1 0zM1508.4 423.3a4.05 4.05 0 1 0 8.1 0a4.05 4.05 0 1 0 -8.1 0zM1533.2 421.3a4.05 4.05 0 1 0 8.1 0a4.05 4.05 0 1 0 -8.1 0zM1511.2 436a4.05 4.05 0 1 0 8.1 0a4.05 4.05 0 1 0 -8.1 0zM1512 444a4.05 4.05 0 1 0 8.1 0a4.05 4.05 0 1 0 -8.1 0zM1513.2 448.7a4.05 4.05 0 1 0 8.1 0a4.05 4.05 0 1 0 -8.1 0zM1489.2 438a4.05 4.05 0 1 0 8.1 0a4.05 4.05 0 1 0 -8.1 0zM1484 444a4.05 4.05 0 1 0 8.1 0a4.05 4.05 0 1 0 -8.1 0zM1477.2 433.3a4.05 4.05 0 1 0 8.1 0a4.05 4.05 0 1 0 -8.1 0zM1478 438a4.05 4.05 0 1 0 8.1 0a4.05 4.05 0 1 0 -8.1 0zM1465.2 430a4.05 4.05 0 1 0 8.1 0a4.05 4.05 0 1 0 -8.1 0zM1469.2 424.7a4.05 4.05 0 1 0 8.1 0a4.05 4.05 0 1 0 -8.1 0zM1474.7 426a4.05 4.05 0 1 0 8.1 0a4.05 4.05 0 1 0 -8.1 0zM1467.2 442a4.05 4.05 0 1 0 8.1 0a4.05 4.05 0 1 0 -8.1 0zM1469.2 446a4.05 4.05 0 1 0 8.1 0a4.05 4.05 0 1 0 -8.1 0zM1465.2 448a4.05 4.05 0 1 0 8.1 0a4.05 4.05 0 1 0 -8.1 0zM1474.7 450.7a4.05 4.05 0 1 0 8.1 0a4.05 4.05 0 1 0 -8.1 0zM1502 456a4.05 4.05 0 1 0 8.1 0a4.05 4.05 0 1 0 -8.1 0zM1495.2 463.3a4.05 4.05 0 1 0 8.1 0a4.05 4.05 0 1 0 -8.1 0zM1507.7 465.7a4.05 4.05 0 1 0 8.1 0a4.05 4.05 0 1 0 -8.1 0zM1490 467.3a4.05 4.05 0 1 0 8.1 0a4.05 4.05 0 1 0 -8.1 0zM1490 474a4.05 4.05 0 1 0 8.1 0a4.05 4.05 0 1 0 -8.1 0zM1494.7 478.7a4.05 4.05 0 1 0 8.1 0a4.05 4.05 0 1 0 -8.1 0zM1494 484.7a4.05 4.05 0 1 0 8.1 0a4.05 4.05 0 1 0 -8.1 0zM1495.2 488.7a4.05 4.05 0 1 0 8.1 0a4.05 4.05 0 1 0 -8.1 0zM1494.7 492.7a4.05 4.05 0 1 0 8.1 0a4.05 4.05 0 1 0 -8.1 0zM1481.2 464a4.05 4.05 0 1 0 8.1 0a4.05 4.05 0 1 0 -8.1 0zM1473.2 468a4.05 4.05 0 1 0 8.1 0a4.05 4.05 0 1 0 -8.1 0zM1360.7 463.3a4.05 4.05 0 1 0 8.1 0a4.05 4.05 0 1 0 -8.1 0zM1370 472a4.05 4.05 0 1 0 8.1 0a4.05 4.05 0 1 0 -8.1 0zM1367.2 477.3a4.05 4.05 0 1 0 8.1 0a4.05 4.05 0 1 0 -8.1 0zM1372 480a4.05 4.05 0 1 0 8.1 0a4.05 4.05 0 1 0 -8.1 0zM1387.2 465.3a4.05 4.05 0 1 0 8.1 0a4.05 4.05 0 1 0 -8.1 0zM1385.2 471.3a4.05 4.05 0 1 0 8.1 0a4.05 4.05 0 1 0 -8.1 0zM1396.7 467.3a4.05 4.05 0 1 0 8.1 0a4.05 4.05 0 1 0 -8.1 0zM1348 497.3a4.05 4.05 0 1 0 8.1 0a4.05 4.05 0 1 0 -8.1 0zM1362 496.4a4.05 4.05 0 1 0 8.1 0a4.05 4.05 0 1 0 -8.1 0zM1372 490a4.05 4.05 0 1 0 8.1 0a4.05 4.05 0 1 0 -8.1 0zM1354 508a4.05 4.05 0 1 0 8.1 0a4.05 4.05 0 1 0 -8.1 0zM1359.7 522a4.05 4.05 0 1 0 8.1 0a4.05 4.05 0 1 0 -8.1 0zM1368 518.7a4.05 4.05 0 1 0 8.1 0a4.05 4.05 0 1 0 -8.1 0zM1372 514.7a4.05 4.05 0 1 0 8.1 0a4.05 4.05 0 1 0 -8.1 0zM1383.2 536a4.05 4.05 0 1 0 8.1 0a4.05 4.05 0 1 0 -8.1 0zM1398.7 538.7a4.05 4.05 0 1 0 8.1 0a4.05 4.05 0 1 0 -8.1 0zM1432 534.7a4.05 4.05 0 1 0 8.1 0a4.05 4.05 0 1 0 -8.1 0zM1452.4 523.3a4.05 4.05 0 1 0 8.1 0a4.05 4.05 0 1 0 -8.1 0zM1438 520a4.05 4.05 0 1 0 8.1 0a4.05 4.05 0 1 0 -8.1 0zM1442 522a4.05 4.05 0 1 0 8.1 0a4.05 4.05 0 1 0 -8.1 0zM1425.2 521.3a4.05 4.05 0 1 0 8.1 0a4.05 4.05 0 1 0 -8.1 0zM1425.2 526a4.05 4.05 0 1 0 8.1 0a4.05 4.05 0 1 0 -8.1 0zM1414 519.3a4.05 4.05 0 1 0 8.1 0a4.05 4.05 0 1 0 -8.1 0zM1455.2 508.7a4.05 4.05 0 1 0 8.1 0a4.05 4.05 0 1 0 -8.1 0zM1453.2 513.3a4.05 4.05 0 1 0 8.1 0a4.05 4.05 0 1 0 -8.1 0zM1481.2 508.7a4.05 4.05 0 1 0 8.1 0a4.05 4.05 0 1 0 -8.1 0zM1478 494a4.05 4.05 0 1 0 8.1 0a4.05 4.05 0 1 0 -8.1 0zM1474.7 500a4.05 4.05 0 1 0 8.1 0a4.05 4.05 0 1 0 -8.1 0zM1479.2 503.3a4.05 4.05 0 1 0 8.1 0a4.05 4.05 0 1 0 -8.1 0zM1468 494a4.05 4.05 0 1 0 8.1 0a4.05 4.05 0 1 0 -8.1 0zM1472.7 481.3a4.05 4.05 0 1 0 8.1 0a4.05 4.05 0 1 0 -8.1 0zM1380 522.7a4.05 4.05 0 1 0 8.1 0a4.05 4.05 0 1 0 -8.1 0zM1384 526.7a4.05 4.05 0 1 0 8.1 0a4.05 4.05 0 1 0 -8.1 0zM1405.2 526a4.05 4.05 0 1 0 8.1 0a4.05 4.05 0 1 0 -8.1 0zM1413.7 351.7a4.05 4.05 0 1 0 8.1 0a4.05 4.05 0 1 0 -8.1 0zM1434.2 369.1a4.05 4.05 0 1 0 8.1 0a4.05 4.05 0 1 0 -8.1 0zM1392.5 374.4a4.05 4.05 0 1 0 8.1 0a4.05 4.05 0 1 0 -8.1 0zM1420 395.7a4.05 4.05 0 1 0 8.1 0a4.05 4.05 0 1 0 -8.1 0zM1440.2 412.3a4.05 4.05 0 1 0 8.1 0a4.05 4.05 0 1 0 -8.1 0zM1455 412.7a4.05 4.05 0 1 0 8.1 0a4.05 4.05 0 1 0 -8.1 0zM1423 416a4.05 4.05 0 1 0 8.1 0a4.05 4.05 0 1 0 -8.1 0zM1401.4 418.7a4.05 4.05 0 1 0 8.1 0a4.05 4.05 0 1 0 -8.1 0zM1479.5 343.7a4.05 4.05 0 1 0 8.1 0a4.05 4.05 0 1 0 -8.1 0zM1493.2 389.3a4.05 4.05 0 1 0 8.1 0a4.05 4.05 0 1 0 -8.1 0zM1488 396a4.05 4.05 0 1 0 8.1 0a4.05 4.05 0 1 0 -8.1 0zM1526.9 387.3a4.05 4.05 0 1 0 8.1 0a4.05 4.05 0 1 0 -8.1 0zM1513.2 395.7a4.05 4.05 0 1 0 8.1 0a4.05 4.05 0 1 0 -8.1 0zM1494.9 405.7a4.05 4.05 0 1 0 8.1 0a4.05 4.05 0 1 0 -8.1 0zM1640.4 410a4.05 4.05 0 1 0 8.1 0a4.05 4.05 0 1 0 -8.1 0zM1574.7 427.3a4.05 4.05 0 1 0 8.1 0a4.05 4.05 0 1 0 -8.1 0zM1478.7 416.7a4.05 4.05 0 1 0 8.1 0a4.05 4.05 0 1 0 -8.1 0zM1271.4 545.7a4.05 4.05 0 1 0 8.1 0a4.05 4.05 0 1 0 -8.1 0zM1326 487.4a4.05 4.05 0 1 0 8.1 0a4.05 4.05 0 1 0 -8.1 0zM1365.7 543.4a4.05 4.05 0 1 0 8.1 0a4.05 4.05 0 1 0 -8.1 0zM1404.9 483.8a4.05 4.05 0 1 0 8.1 0a4.05 4.05 0 1 0 -8.1 0zM1410.9 481.1a4.05 4.05 0 1 0 8.1 0a4.05 4.05 0 1 0 -8.1 0zM1410 497.9a4.05 4.05 0 1 0 8.1 0a4.05 4.05 0 1 0 -8.1 0zM1393.5 496.1a4.05 4.05 0 1 0 8.1 0a4.05 4.05 0 1 0 -8.1 0zM1446.5 470.1a4.05 4.05 0 1 0 8.1 0a4.05 4.05 0 1 0 -8.1 0zM1393 516.8a4.05 4.05 0 1 0 8.1 0a4.05 4.05 0 1 0 -8.1 0zM1453.5 498.7a4.05 4.05 0 1 0 8.1 0a4.05 4.05 0 1 0 -8.1 0zM1433.9 469a4.05 4.05 0 1 0 8.1 0a4.05 4.05 0 1 0 -8.1 0zM1393.5 508.4a4.05 4.05 0 1 0 8.1 0a4.05 4.05 0 1 0 -8.1 0zM1451.7 487.2a4.05 4.05 0 1 0 8.1 0a4.05 4.05 0 1 0 -8.1 0zM1398.5 482.2a4.05 4.05 0 1 0 8.1 0a4.05 4.05 0 1 0 -8.1 0zM1457.4 484.7a4.05 4.05 0 1 0 8.1 0a4.05 4.05 0 1 0 -8.1 0zM1452.2 481.7a4.05 4.05 0 1 0 8.1 0a4.05 4.05 0 1 0 -8.1 0zM1432.4 485.3a4.05 4.05 0 1 0 8.1 0a4.05 4.05 0 1 0 -8.1 0zM1390.7 477.8a4.05 4.05 0 1 0 8.1 0a4.05 4.05 0 1 0 -8.1 0zM1437.4 477.3a4.05 4.05 0 1 0 8.1 0a4.05 4.05 0 1 0 -8.1 0zM1437 510.7a4.05 4.05 0 1 0 8.1 0a4.05 4.05 0 1 0 -8.1 0zM1449 457.6a4.05 4.05 0 1 0 8.1 0a4.05 4.05 0 1 0 -8.1 0zM1416 503.8a4.05 4.05 0 1 0 8.1 0a4.05 4.05 0 1 0 -8.1 0zM1412.8 512.6a4.05 4.05 0 1 0 8.1 0a4.05 4.05 0 1 0 -8.1 0zM1461 480a4.05 4.05 0 1 0 8.1 0a4.05 4.05 0 1 0 -8.1 0zM1459.4 462a4.05 4.05 0 1 0 8.1 0a4.05 4.05 0 1 0 -8.1 0zM1419.9 488.1a4.05 4.05 0 1 0 8.1 0a4.05 4.05 0 1 0 -8.1 0zM1438.5 503.3a4.05 4.05 0 1 0 8.1 0a4.05 4.05 0 1 0 -8.1 0zM1384 502.2a4.05 4.05 0 1 0 8.1 0a4.05 4.05 0 1 0 -8.1 0zM1443.9 495.8a4.05 4.05 0 1 0 8.1 0a4.05 4.05 0 1 0 -8.1 0zM1389.7 485.6a4.05 4.05 0 1 0 8.1 0a4.05 4.05 0 1 0 -8.1 0zM1437.8 496.4a4.05 4.05 0 1 0 8.1 0a4.05 4.05 0 1 0 -8.1 0zM1421.5 494.5a4.05 4.05 0 1 0 8.1 0a4.05 4.05 0 1 0 -8.1 0zM1389.2 491.8a4.05 4.05 0 1 0 8.1 0a4.05 4.05 0 1 0 -8.1 0zM1403.5 502.5a4.05 4.05 0 1 0 8.1 0a4.05 4.05 0 1 0 -8.1 0zM1469 463.7a4.05 4.05 0 1 0 8.1 0a4.05 4.05 0 1 0 -8.1 0zM1411 505.6a4.05 4.05 0 1 0 8.1 0a4.05 4.05 0 1 0 -8.1 0zM1430.2 478.3a4.05 4.05 0 1 0 8.1 0a4.05 4.05 0 1 0 -8.1 0zM1445.4 489.6a4.05 4.05 0 1 0 8.1 0a4.05 4.05 0 1 0 -8.1 0zM1429 494.5a4.05 4.05 0 1 0 8.1 0a4.05 4.05 0 1 0 -8.1 0zM1399.5 494.5a4.05 4.05 0 1 0 8.1 0a4.05 4.05 0 1 0 -8.1 0zM1398.5 521.9a4.05 4.05 0 1 0 8.1 0a4.05 4.05 0 1 0 -8.1 0zM1463 466.2a4.05 4.05 0 1 0 8.1 0a4.05 4.05 0 1 0 -8.1 0zM1466.8 478a4.05 4.05 0 1 0 8.1 0a4.05 4.05 0 1 0 -8.1 0zM1419.8 473.9a4.05 4.05 0 1 0 8.1 0a4.05 4.05 0 1 0 -8.1 0zM1402.2 507.9a4.05 4.05 0 1 0 8.1 0a4.05 4.05 0 1 0 -8.1 0zM1380.2 492.3a4.05 4.05 0 1 0 8.1 0a4.05 4.05 0 1 0 -8.1 0zM1422.2 503.9a4.05 4.05 0 1 0 8.1 0a4.05 4.05 0 1 0 -8.1 0zM1452 475.3a4.05 4.05 0 1 0 8.1 0a4.05 4.05 0 1 0 -8.1 0zM1390.9 521.8a4.05 4.05 0 1 0 8.1 0a4.05 4.05 0 1 0 -8.1 0zM1421.8 464.8a4.05 4.05 0 1 0 8.1 0a4.05 4.05 0 1 0 -8.1 0zM1439.7 471.2a4.05 4.05 0 1 0 8.1 0a4.05 4.05 0 1 0 -8.1 0zM1460 474.2a4.05 4.05 0 1 0 8.1 0a4.05 4.05 0 1 0 -8.1 0zM1444 465.3a4.05 4.05 0 1 0 8.1 0a4.05 4.05 0 1 0 -8.1 0zM1432.2 499.2a4.05 4.05 0 1 0 8.1 0a4.05 4.05 0 1 0 -8.1 0zM1379 500.1a4.05 4.05 0 1 0 8.1 0a4.05 4.05 0 1 0 -8.1 0zM1456 469a4.05 4.05 0 1 0 8.1 0a4.05 4.05 0 1 0 -8.1 0zM1386 509.2a4.05 4.05 0 1 0 8.1 0a4.05 4.05 0 1 0 -8.1 0zM1427.7 469.4a4.05 4.05 0 1 0 8.1 0a4.05 4.05 0 1 0 -8.1 0zM1437 490.5a4.05 4.05 0 1 0 8.1 0a4.05 4.05 0 1 0 -8.1 0zM1429.8 508.3a4.05 4.05 0 1 0 8.1 0a4.05 4.05 0 1 0 -8.1 0zM1442.2 459.4a4.05 4.05 0 1 0 8.1 0a4.05 4.05 0 1 0 -8.1 0zM1458.8 490.3a4.05 4.05 0 1 0 8.1 0a4.05 4.05 0 1 0 -8.1 0zM1411 474.5a4.05 4.05 0 1 0 8.1 0a4.05 4.05 0 1 0 -8.1 0zM1402.4 516.8a4.05 4.05 0 1 0 8.1 0a4.05 4.05 0 1 0 -8.1 0zM1455 457.6a4.05 4.05 0 1 0 8.1 0a4.05 4.05 0 1 0 -8.1 0zM1446.5 450.5a4.05 4.05 0 1 0 8.1 0a4.05 4.05 0 1 0 -8.1 0zM1445.8 505.1a4.05 4.05 0 1 0 8.1 0a4.05 4.05 0 1 0 -8.1 0zM1422.5 482.5a4.05 4.05 0 1 0 8.1 0a4.05 4.05 0 1 0 -8.1 0zM1408 518.6a4.05 4.05 0 1 0 8.1 0a4.05 4.05 0 1 0 -8.1 0zM1454 493a4.05 4.05 0 1 0 8.1 0a4.05 4.05 0 1 0 -8.1 0zM1411.8 488.6a4.05 4.05 0 1 0 8.1 0a4.05 4.05 0 1 0 -8.1 0zM1405.4 490.4a4.05 4.05 0 1 0 8.1 0a4.05 4.05 0 1 0 -8.1 0zM1445 480.5a4.05 4.05 0 1 0 8.1 0a4.05 4.05 0 1 0 -8.1 0zM1403.2 478.5a4.05 4.05 0 1 0 8.1 0a4.05 4.05 0 1 0 -8.1 0zM1466.5 471.3a4.05 4.05 0 1 0 8.1 0a4.05 4.05 0 1 0 -8.1 0zM1416.4 467.4a4.05 4.05 0 1 0 8.1 0a4.05 4.05 0 1 0 -8.1 0zM1389.8 501.3a4.05 4.05 0 1 0 8.1 0a4.05 4.05 0 1 0 -8.1 0zM1422.8 511.9a4.05 4.05 0 1 0 8.1 0a4.05 4.05 0 1 0 -8.1 0zM1417.2 479.9a4.05 4.05 0 1 0 8.1 0a4.05 4.05 0 1 0 -8.1 0zM1450.2 465.5a4.05 4.05 0 1 0 8.1 0a4.05 4.05 0 1 0 -8.1 0zM1438.5 482.9a4.05 4.05 0 1 0 8.1 0a4.05 4.05 0 1 0 -8.1 0zM1384.9 517.4a4.05 4.05 0 1 0 8.1 0a4.05 4.05 0 1 0 -8.1 0zM1386 481.3a4.05 4.05 0 1 0 8.1 0a4.05 4.05 0 1 0 -8.1 0zM1425.2 490.2a4.05 4.05 0 1 0 8.1 0a4.05 4.05 0 1 0 -8.1 0zM1396.8 503.6a4.05 4.05 0 1 0 8.1 0a4.05 4.05 0 1 0 -8.1 0zM1395.2 486.4a4.05 4.05 0 1 0 8.1 0a4.05 4.05 0 1 0 -8.1 0zM1397.8 475.4a4.05 4.05 0 1 0 8.1 0a4.05 4.05 0 1 0 -8.1 0zM1417.2 498.1a4.05 4.05 0 1 0 8.1 0a4.05 4.05 0 1 0 -8.1 0zM1400.4 488a4.05 4.05 0 1 0 8.1 0a4.05 4.05 0 1 0 -8.1 0zM1398.2 512.6a4.05 4.05 0 1 0 8.1 0a4.05 4.05 0 1 0 -8.1 0zM1451.7 452a4.05 4.05 0 1 0 8.1 0a4.05 4.05 0 1 0 -8.1 0zM1405 473a4.05 4.05 0 1 0 8.1 0a4.05 4.05 0 1 0 -8.1 0zM1371.5 504.1a4.05 4.05 0 1 0 8.1 0a4.05 4.05 0 1 0 -8.1 0zM1406.8 511.1a4.05 4.05 0 1 0 8.1 0a4.05 4.05 0 1 0 -8.1 0zM1427.8 502.6a4.05 4.05 0 1 0 8.1 0a4.05 4.05 0 1 0 -8.1 0zM1381.7 512.5a4.05 4.05 0 1 0 8.1 0a4.05 4.05 0 1 0 -8.1 0zM1448.2 499.6a4.05 4.05 0 1 0 8.1 0a4.05 4.05 0 1 0 -8.1 0zM1383 487.1a4.05 4.05 0 1 0 8.1 0a4.05 4.05 0 1 0 -8.1 0zM1384.2 496.7a4.05 4.05 0 1 0 8.1 0a4.05 4.05 0 1 0 -8.1 0zM1418 509a4.05 4.05 0 1 0 8.1 0a4.05 4.05 0 1 0 -8.1 0zM1392.9 472.8a4.05 4.05 0 1 0 8.1 0a4.05 4.05 0 1 0 -8.1 0z"/>
<line x1="1276" y1="539.9" x2="1644" y2="395.3" stroke="#000" stroke-width="3.05"/>
<rect x="1614.3" y="500.7" width="120.7" height="44.1" fill="#fff"/>
<text x="1674.4" y="519.6" font-size="12.3" text-anchor="middle" fill="#1a1a1a">Pearson: 0.497***</text>
<text x="1673.8" y="536.8" font-size="12.3" text-anchor="middle" fill="#1a1a1a">Spearman: 0.506***</text>
<text x="1331.3" y="579.1" font-size="16" text-anchor="middle" fill="#444">7.5</text>
<text x="1437.3" y="579.1" font-size="16" text-anchor="middle" fill="#444">10.0</text>
<text x="1543.3" y="579.1" font-size="16" text-anchor="middle" fill="#444">12.5</text>
<text x="1649.3" y="579.1" font-size="16" text-anchor="middle" fill="#444">15.0</text>
<text x="1246.4" y="554.1" font-size="16" text-anchor="end" fill="#444">5.0</text>
<text x="1246.4" y="503.1" font-size="16" text-anchor="end" fill="#444">7.5</text>
<text x="1246.4" y="452.1" font-size="16" text-anchor="end" fill="#444">10.0</text>
<text x="1246.4" y="401.1" font-size="16" text-anchor="end" fill="#444">12.5</text>
<text x="1246.4" y="350.1" font-size="16" text-anchor="end" fill="#444">15.0</text>
<path d="M1331.3 557.1v5.3M1437.3 557.1v5.3M1543.3 557.1v5.3M1649.3 557.1v5.3M1256.8 548.4h-5.3M1256.8 497.4h-5.3M1256.8 446.4h-5.3M1256.8 395.4h-5.3M1256.8 344.4h-5.3" stroke="#333" stroke-width="1.7" fill="none"/>
<text x="1169.8" y="317.3" font-size="19.5" fill="#000">F)</text>
<text x="1696" y="424.7" font-size="20" font-weight="bold" textLength="64.2" lengthAdjust="spacingAndGlyphs" fill="#000">BC2001</text>
<text transform="translate(1202.4 449.8) rotate(-90)" font-size="16.3" text-anchor="middle" textLength="212.6" lengthAdjust="spacingAndGlyphs" fill="#000" xml:space="preserve" style="white-space:pre">mRNA expression FN1  (log2)</text>
</g>
<g id="panel-G">
<clipPath id="clipG"><rect x="90.6" y="613.5" width="405.8" height="219.8"/></clipPath>
<rect x="90.6" y="613.5" width="405.8" height="219.8" fill="#ebebeb"/>
<g clip-path="url(#clipG)" stroke="#fff" fill="none"><path d="M115.3 613.5V833.3M180.9 613.5V833.3M246.5 613.5V833.3M312.1 613.5V833.3M443.3 613.5V833.3M90.6 791H496.4M90.6 718.9H496.4M90.6 646.8H496.4" stroke-width="1.1"/><path d="M377.7 613.5V833.3" stroke-width="1" stroke-opacity="0.4"/><path d="M148.1 613.5V833.3M213.7 613.5V833.3M279.3 613.5V833.3M344.9 613.5V833.3M410.5 613.5V833.3M476.1 613.5V833.3M90.6 827H496.4M90.6 754.9H496.4M90.6 682.8H496.4" stroke-width="1.9"/></g>
<path class="pts" fill="#0000ff" d="M282 710.7a4.1 4.1 0 1 0 8.2 0a4.1 4.1 0 1 0 -8.2 0zM270.6 721.6a4.1 4.1 0 1 0 8.2 0a4.1 4.1 0 1 0 -8.2 0zM290 722.7a4.1 4.1 0 1 0 8.2 0a4.1 4.1 0 1 0 -8.2 0zM236.2 725.3a4.1 4.1 0 1 0 8.2 0a4.1 4.1 0 1 0 -8.2 0zM241.6 725.3a4.1 4.1 0 1 0 8.2 0a4.1 4.1 0 1 0 -8.2 0zM265.6 726.7a4.1 4.1 0 1 0 8.2 0a4.1 4.1 0 1 0 -8.2 0zM181.3 728a4.1 4.1 0 1 0 8.2 0a4.1 4.1 0 1 0 -8.2 0zM279.6 728a4.1 4.1 0 1 0 8.2 0a4.1 4.1 0 1 0 -8.2 0zM167.6 744.6a4.1 4.1 0 1 0 8.2 0a4.1 4.1 0 1 0 -8.2 0zM154.9 751a4.1 4.1 0 1 0 8.2 0a4.1 4.1 0 1 0 -8.2 0zM143.3 769.7a4.1 4.1 0 1 0 8.2 0a4.1 4.1 0 1 0 -8.2 0zM133.6 775.9a4.1 4.1 0 1 0 8.2 0a4.1 4.1 0 1 0 -8.2 0zM104 777a4.1 4.1 0 1 0 8.2 0a4.1 4.1 0 1 0 -8.2 0zM119.2 801a4.1 4.1 0 1 0 8.2 0a4.1 4.1 0 1 0 -8.2 0zM125.3 815.9a4.1 4.1 0 1 0 8.2 0a4.1 4.1 0 1 0 -8.2 0zM156.5 799.7a4.1 4.1 0 1 0 8.2 0a4.1 4.1 0 1 0 -8.2 0zM158 808.3a4.1 4.1 0 1 0 8.2 0a4.1 4.1 0 1 0 -8.2 0zM172.9 800.3a4.1 4.1 0 1 0 8.2 0a4.1 4.1 0 1 0 -8.2 0zM174.2 807.3a4.1 4.1 0 1 0 8.2 0a4.1 4.1 0 1 0 -8.2 0zM177.3 769.7a4.1 4.1 0 1 0 8.2 0a4.1 4.1 0 1 0 -8.2 0zM187.6 757.4a4.1 4.1 0 1 0 8.2 0a4.1 4.1 0 1 0 -8.2 0zM192.2 756.3a4.1 4.1 0 1 0 8.2 0a4.1 4.1 0 1 0 -8.2 0zM200.2 757a4.1 4.1 0 1 0 8.2 0a4.1 4.1 0 1 0 -8.2 0zM201.6 761.7a4.1 4.1 0 1 0 8.2 0a4.1 4.1 0 1 0 -8.2 0zM189.6 767a4.1 4.1 0 1 0 8.2 0a4.1 4.1 0 1 0 -8.2 0zM192.2 770.3a4.1 4.1 0 1 0 8.2 0a4.1 4.1 0 1 0 -8.2 0zM211.2 751a4.1 4.1 0 1 0 8.2 0a4.1 4.1 0 1 0 -8.2 0zM206.9 764.3a4.1 4.1 0 1 0 8.2 0a4.1 4.1 0 1 0 -8.2 0zM212.9 761.7a4.1 4.1 0 1 0 8.2 0a4.1 4.1 0 1 0 -8.2 0zM204.9 767a4.1 4.1 0 1 0 8.2 0a4.1 4.1 0 1 0 -8.2 0zM220.2 755.7a4.1 4.1 0 1 0 8.2 0a4.1 4.1 0 1 0 -8.2 0zM224.9 756.3a4.1 4.1 0 1 0 8.2 0a4.1 4.1 0 1 0 -8.2 0zM236.2 755.9a4.1 4.1 0 1 0 8.2 0a4.1 4.1 0 1 0 -8.2 0zM228.2 763a4.1 4.1 0 1 0 8.2 0a4.1 4.1 0 1 0 -8.2 0zM235.6 765.7a4.1 4.1 0 1 0 8.2 0a4.1 4.1 0 1 0 -8.2 0zM222.5 736.7a4.1 4.1 0 1 0 8.2 0a4.1 4.1 0 1 0 -8.2 0zM234.2 733a4.1 4.1 0 1 0 8.2 0a4.1 4.1 0 1 0 -8.2 0zM242.9 729a4.1 4.1 0 1 0 8.2 0a4.1 4.1 0 1 0 -8.2 0zM236.2 741a4.1 4.1 0 1 0 8.2 0a4.1 4.1 0 1 0 -8.2 0zM242.9 739.7a4.1 4.1 0 1 0 8.2 0a4.1 4.1 0 1 0 -8.2 0zM258.2 733.4a4.1 4.1 0 1 0 8.2 0a4.1 4.1 0 1 0 -8.2 0zM252.2 745.7a4.1 4.1 0 1 0 8.2 0a4.1 4.1 0 1 0 -8.2 0zM251.6 749.7a4.1 4.1 0 1 0 8.2 0a4.1 4.1 0 1 0 -8.2 0zM257.6 753a4.1 4.1 0 1 0 8.2 0a4.1 4.1 0 1 0 -8.2 0zM268.2 734.3a4.1 4.1 0 1 0 8.2 0a4.1 4.1 0 1 0 -8.2 0zM274.9 739a4.1 4.1 0 1 0 8.2 0a4.1 4.1 0 1 0 -8.2 0zM272.2 747.7a4.1 4.1 0 1 0 8.2 0a4.1 4.1 0 1 0 -8.2 0zM265.6 753.7a4.1 4.1 0 1 0 8.2 0a4.1 4.1 0 1 0 -8.2 0zM271.6 757a4.1 4.1 0 1 0 8.2 0a4.1 4.1 0 1 0 -8.2 0zM282.9 755a4.1 4.1 0 1 0 8.2 0a4.1 4.1 0 1 0 -8.2 0zM292.2 735a4.1 4.1 0 1 0 8.2 0a4.1 4.1 0 1 0 -8.2 0zM278.9 765a4.1 4.1 0 1 0 8.2 0a4.1 4.1 0 1 0 -8.2 0zM285.6 766.3a4.1 4.1 0 1 0 8.2 0a4.1 4.1 0 1 0 -8.2 0zM283.6 761a4.1 4.1 0 1 0 8.2 0a4.1 4.1 0 1 0 -8.2 0zM291.6 777.4a4.1 4.1 0 1 0 8.2 0a4.1 4.1 0 1 0 -8.2 0zM262.2 768.3a4.1 4.1 0 1 0 8.2 0a4.1 4.1 0 1 0 -8.2 0zM267.6 770.3a4.1 4.1 0 1 0 8.2 0a4.1 4.1 0 1 0 -8.2 0zM257.6 775a4.1 4.1 0 1 0 8.2 0a4.1 4.1 0 1 0 -8.2 0zM268.2 775a4.1 4.1 0 1 0 8.2 0a4.1 4.1 0 1 0 -8.2 0zM265.6 780.3a4.1 4.1 0 1 0 8.2 0a4.1 4.1 0 1 0 -8.2 0zM280.9 786.3a4.1 4.1 0 1 0 8.2 0a4.1 4.1 0 1 0 -8.2 0zM266.2 796.3a4.1 4.1 0 1 0 8.2 0a4.1 4.1 0 1 0 -8.2 0zM243.3 810.3a4.1 4.1 0 1 0 8.2 0a4.1 4.1 0 1 0 -8.2 0zM206.2 804.6a4.1 4.1 0 1 0 8.2 0a4.1 4.1 0 1 0 -8.2 0zM217.6 803.7a4.1 4.1 0 1 0 8.2 0a4.1 4.1 0 1 0 -8.2 0zM221.6 799.9a4.1 4.1 0 1 0 8.2 0a4.1 4.1 0 1 0 -8.2 0zM190.9 789a4.1 4.1 0 1 0 8.2 0a4.1 4.1 0 1 0 -8.2 0zM198.9 781.7a4.1 4.1 0 1 0 8.2 0a4.1 4.1 0 1 0 -8.2 0zM197.6 776.3a4.1 4.1 0 1 0 8.2 0a4.1 4.1 0 1 0 -8.2 0zM205.6 775.7a4.1 4.1 0 1 0 8.2 0a4.1 4.1 0 1 0 -8.2 0zM214.9 779a4.1 4.1 0 1 0 8.2 0a4.1 4.1 0 1 0 -8.2 0zM218.9 776.3a4.1 4.1 0 1 0 8.2 0a4.1 4.1 0 1 0 -8.2 0zM222.9 773a4.1 4.1 0 1 0 8.2 0a4.1 4.1 0 1 0 -8.2 0zM226.2 782.3a4.1 4.1 0 1 0 8.2 0a4.1 4.1 0 1 0 -8.2 0zM235.6 782.1a4.1 4.1 0 1 0 8.2 0a4.1 4.1 0 1 0 -8.2 0zM230.9 789a4.1 4.1 0 1 0 8.2 0a4.1 4.1 0 1 0 -8.2 0zM433.9 622.3a4.1 4.1 0 1 0 8.2 0a4.1 4.1 0 1 0 -8.2 0zM379.5 655.3a4.1 4.1 0 1 0 8.2 0a4.1 4.1 0 1 0 -8.2 0zM379 666a4.1 4.1 0 1 0 8.2 0a4.1 4.1 0 1 0 -8.2 0zM400.6 668.3a4.1 4.1 0 1 0 8.2 0a4.1 4.1 0 1 0 -8.2 0zM409.5 668.7a4.1 4.1 0 1 0 8.2 0a4.1 4.1 0 1 0 -8.2 0zM427.2 672a4.1 4.1 0 1 0 8.2 0a4.1 4.1 0 1 0 -8.2 0zM417.9 681.3a4.1 4.1 0 1 0 8.2 0a4.1 4.1 0 1 0 -8.2 0zM445.6 668a4.1 4.1 0 1 0 8.2 0a4.1 4.1 0 1 0 -8.2 0zM461.5 670.7a4.1 4.1 0 1 0 8.2 0a4.1 4.1 0 1 0 -8.2 0zM473.2 687.3a4.1 4.1 0 1 0 8.2 0a4.1 4.1 0 1 0 -8.2 0zM415.9 700.4a4.1 4.1 0 1 0 8.2 0a4.1 4.1 0 1 0 -8.2 0zM424.6 700.7a4.1 4.1 0 1 0 8.2 0a4.1 4.1 0 1 0 -8.2 0zM421.9 708.7a4.1 4.1 0 1 0 8.2 0a4.1 4.1 0 1 0 -8.2 0zM386.6 706a4.1 4.1 0 1 0 8.2 0a4.1 4.1 0 1 0 -8.2 0zM385.2 712a4.1 4.1 0 1 0 8.2 0a4.1 4.1 0 1 0 -8.2 0zM363.2 704a4.1 4.1 0 1 0 8.2 0a4.1 4.1 0 1 0 -8.2 0zM343.2 703.3a4.1 4.1 0 1 0 8.2 0a4.1 4.1 0 1 0 -8.2 0zM315.2 706a4.1 4.1 0 1 0 8.2 0a4.1 4.1 0 1 0 -8.2 0zM309.9 711.3a4.1 4.1 0 1 0 8.2 0a4.1 4.1 0 1 0 -8.2 0zM363.9 718a4.1 4.1 0 1 0 8.2 0a4.1 4.1 0 1 0 -8.2 0zM333.2 716a4.1 4.1 0 1 0 8.2 0a4.1 4.1 0 1 0 -8.2 0zM337.9 719.3a4.1 4.1 0 1 0 8.2 0a4.1 4.1 0 1 0 -8.2 0zM321 721.1a4.1 4.1 0 1 0 8.2 0a4.1 4.1 0 1 0 -8.2 0zM299.2 726.7a4.1 4.1 0 1 0 8.2 0a4.1 4.1 0 1 0 -8.2 0zM316.6 726.7a4.1 4.1 0 1 0 8.2 0a4.1 4.1 0 1 0 -8.2 0zM385.6 726.4a4.1 4.1 0 1 0 8.2 0a4.1 4.1 0 1 0 -8.2 0zM321.2 724.3a4.1 4.1 0 1 0 8.2 0a4.1 4.1 0 1 0 -8.2 0zM321.9 733.7a4.1 4.1 0 1 0 8.2 0a4.1 4.1 0 1 0 -8.2 0zM295.2 740.3a4.1 4.1 0 1 0 8.2 0a4.1 4.1 0 1 0 -8.2 0zM314.6 739a4.1 4.1 0 1 0 8.2 0a4.1 4.1 0 1 0 -8.2 0zM323.2 745a4.1 4.1 0 1 0 8.2 0a4.1 4.1 0 1 0 -8.2 0zM298.6 746.3a4.1 4.1 0 1 0 8.2 0a4.1 4.1 0 1 0 -8.2 0zM309.2 747a4.1 4.1 0 1 0 8.2 0a4.1 4.1 0 1 0 -8.2 0zM314.6 748.3a4.1 4.1 0 1 0 8.2 0a4.1 4.1 0 1 0 -8.2 0zM313.2 753a4.1 4.1 0 1 0 8.2 0a4.1 4.1 0 1 0 -8.2 0zM312.6 757.7a4.1 4.1 0 1 0 8.2 0a4.1 4.1 0 1 0 -8.2 0zM326.6 755a4.1 4.1 0 1 0 8.2 0a4.1 4.1 0 1 0 -8.2 0zM321.2 758.3a4.1 4.1 0 1 0 8.2 0a4.1 4.1 0 1 0 -8.2 0zM322.6 762.3a4.1 4.1 0 1 0 8.2 0a4.1 4.1 0 1 0 -8.2 0zM297.9 761.7a4.1 4.1 0 1 0 8.2 0a4.1 4.1 0 1 0 -8.2 0zM299.9 768.3a4.1 4.1 0 1 0 8.2 0a4.1 4.1 0 1 0 -8.2 0zM315.9 766.3a4.1 4.1 0 1 0 8.2 0a4.1 4.1 0 1 0 -8.2 0zM309.2 769.7a4.1 4.1 0 1 0 8.2 0a4.1 4.1 0 1 0 -8.2 0zM308.6 777.4a4.1 4.1 0 1 0 8.2 0a4.1 4.1 0 1 0 -8.2 0zM353.2 732.1a4.1 4.1 0 1 0 8.2 0a4.1 4.1 0 1 0 -8.2 0zM349 739a4.1 4.1 0 1 0 8.2 0a4.1 4.1 0 1 0 -8.2 0zM343.2 748.3a4.1 4.1 0 1 0 8.2 0a4.1 4.1 0 1 0 -8.2 0zM349.2 750.7a4.1 4.1 0 1 0 8.2 0a4.1 4.1 0 1 0 -8.2 0zM341.9 766.7a4.1 4.1 0 1 0 8.2 0a4.1 4.1 0 1 0 -8.2 0zM361.6 772.3a4.1 4.1 0 1 0 8.2 0a4.1 4.1 0 1 0 -8.2 0zM410.8 733a4.1 4.1 0 1 0 8.2 0a4.1 4.1 0 1 0 -8.2 0zM388.6 743.7a4.1 4.1 0 1 0 8.2 0a4.1 4.1 0 1 0 -8.2 0zM382.6 748.1a4.1 4.1 0 1 0 8.2 0a4.1 4.1 0 1 0 -8.2 0zM396.8 752.1a4.1 4.1 0 1 0 8.2 0a4.1 4.1 0 1 0 -8.2 0zM441.5 745.7a4.1 4.1 0 1 0 8.2 0a4.1 4.1 0 1 0 -8.2 0zM411.6 775.4a4.1 4.1 0 1 0 8.2 0a4.1 4.1 0 1 0 -8.2 0zM321.2 823a4.1 4.1 0 1 0 8.2 0a4.1 4.1 0 1 0 -8.2 0zM338.6 723a4.1 4.1 0 1 0 8.2 0a4.1 4.1 0 1 0 -8.2 0z"/>
<line x1="109.7" y1="801.3" x2="476.9" y2="692.6" stroke="#000" stroke-width="3.3"/>
<rect x="460.8" y="769" width="129.2" height="55.5" fill="#fff"/>
<text x="523.6" y="793.2" font-size="12.3" text-anchor="middle" fill="#1a1a1a">Pearson: 0.672***</text>
<text x="523.4" y="810.1" font-size="12.3" text-anchor="middle" fill="#1a1a1a">Spearman: 0.618***</text>
<text x="148.1" y="854.5" font-size="15.5" text-anchor="middle" fill="#444">4</text>
<text x="213.7" y="854.5" font-size="15.5" text-anchor="middle" fill="#444">5</text>
<text x="279.3" y="854.5" font-size="15.5" text-anchor="middle" fill="#444">6</text>
<text x="344.9" y="854.5" font-size="15.5" text-anchor="middle" fill="#444">7</text>
<text x="410.5" y="854.5" font-size="15.5" text-anchor="middle" fill="#444">8</text>
<text x="476.1" y="854.5" font-size="15.5" text-anchor="middle" fill="#444">9</text>
<text x="80.6" y="832.5" font-size="15.5" text-anchor="end" fill="#444">4</text>
<text x="80.6" y="760.4" font-size="15.5" text-anchor="end" fill="#444">5</text>
<text x="80.6" y="688.3" font-size="15.5" text-anchor="end" fill="#444">6</text>
<path d="M148.1 833.3v5.0M213.7 833.3v5.0M279.3 833.3v5.0M344.9 833.3v5.0M410.5 833.3v5.0M476.1 833.3v5.0M90.6 827h-5.0M90.6 754.9h-5.0M90.6 682.8h-5.0" stroke="#333" stroke-width="1.7" fill="none"/>
<text x="10.5" y="603" font-size="19.5" fill="#000">G)</text>
<text x="278.4" y="882.9" font-size="16.3" text-anchor="middle" textLength="212.3" lengthAdjust="spacingAndGlyphs" fill="#000" xml:space="preserve" style="white-space:pre">mRNA expression FN1  (log2)</text>
</g>
<g id="panel-H">
<clipPath id="clipH"><rect x="669.7" y="615" width="406.3" height="221"/></clipPath>
<rect x="669.7" y="615" width="406.3" height="221" fill="#ebebeb"/>
<g clip-path="url(#clipH)" stroke="#fff" fill="none"><path d="M918.8 615V836M1004 615V836M669.7 721.8H1076M669.7 649.8H1076" stroke-width="1.1"/><path d="M833.6 615V836" stroke-width="1" stroke-opacity="0.4"/><path d="M705.8 615V836M791 615V836M876.2 615V836M961.4 615V836M1046.6 615V836M669.7 829.9H1076M669.7 757.9H1076M669.7 685.8H1076" stroke-width="1.9"/></g>
<path class="pts" fill="#0000ff" d="M770.3 716.3a4.1 4.1 0 1 0 8.2 0a4.1 4.1 0 1 0 -8.2 0zM834.8 708.9a4.1 4.1 0 1 0 8.2 0a4.1 4.1 0 1 0 -8.2 0zM852.6 715.1a4.1 4.1 0 1 0 8.2 0a4.1 4.1 0 1 0 -8.2 0zM869.9 711.3a4.1 4.1 0 1 0 8.2 0a4.1 4.1 0 1 0 -8.2 0zM801.5 727.3a4.1 4.1 0 1 0 8.2 0a4.1 4.1 0 1 0 -8.2 0zM819.9 727.3a4.1 4.1 0 1 0 8.2 0a4.1 4.1 0 1 0 -8.2 0zM833.9 730a4.1 4.1 0 1 0 8.2 0a4.1 4.1 0 1 0 -8.2 0zM844.6 730a4.1 4.1 0 1 0 8.2 0a4.1 4.1 0 1 0 -8.2 0zM738.6 730.7a4.1 4.1 0 1 0 8.2 0a4.1 4.1 0 1 0 -8.2 0zM724.2 747.9a4.1 4.1 0 1 0 8.2 0a4.1 4.1 0 1 0 -8.2 0zM728.2 760.3a4.1 4.1 0 1 0 8.2 0a4.1 4.1 0 1 0 -8.2 0zM711.2 767.4a4.1 4.1 0 1 0 8.2 0a4.1 4.1 0 1 0 -8.2 0zM732.2 770.1a4.1 4.1 0 1 0 8.2 0a4.1 4.1 0 1 0 -8.2 0zM701.5 779a4.1 4.1 0 1 0 8.2 0a4.1 4.1 0 1 0 -8.2 0zM684.6 804.3a4.1 4.1 0 1 0 8.2 0a4.1 4.1 0 1 0 -8.2 0zM702.2 806.7a4.1 4.1 0 1 0 8.2 0a4.1 4.1 0 1 0 -8.2 0zM706.8 819.3a4.1 4.1 0 1 0 8.2 0a4.1 4.1 0 1 0 -8.2 0zM737.9 826.6a4.1 4.1 0 1 0 8.2 0a4.1 4.1 0 1 0 -8.2 0zM735.9 804.7a4.1 4.1 0 1 0 8.2 0a4.1 4.1 0 1 0 -8.2 0zM742.3 803a4.1 4.1 0 1 0 8.2 0a4.1 4.1 0 1 0 -8.2 0zM753.9 808.3a4.1 4.1 0 1 0 8.2 0a4.1 4.1 0 1 0 -8.2 0zM753.9 813.7a4.1 4.1 0 1 0 8.2 0a4.1 4.1 0 1 0 -8.2 0zM761.9 799.4a4.1 4.1 0 1 0 8.2 0a4.1 4.1 0 1 0 -8.2 0zM767.2 803a4.1 4.1 0 1 0 8.2 0a4.1 4.1 0 1 0 -8.2 0zM775.5 811.7a4.1 4.1 0 1 0 8.2 0a4.1 4.1 0 1 0 -8.2 0zM777.9 792.3a4.1 4.1 0 1 0 8.2 0a4.1 4.1 0 1 0 -8.2 0zM761.6 785.4a4.1 4.1 0 1 0 8.2 0a4.1 4.1 0 1 0 -8.2 0zM753.9 780.3a4.1 4.1 0 1 0 8.2 0a4.1 4.1 0 1 0 -8.2 0zM756.6 768.3a4.1 4.1 0 1 0 8.2 0a4.1 4.1 0 1 0 -8.2 0zM765.2 763.4a4.1 4.1 0 1 0 8.2 0a4.1 4.1 0 1 0 -8.2 0zM757.2 754.1a4.1 4.1 0 1 0 8.2 0a4.1 4.1 0 1 0 -8.2 0zM740.6 753.3a4.1 4.1 0 1 0 8.2 0a4.1 4.1 0 1 0 -8.2 0zM743.2 759a4.1 4.1 0 1 0 8.2 0a4.1 4.1 0 1 0 -8.2 0zM747.9 759.9a4.1 4.1 0 1 0 8.2 0a4.1 4.1 0 1 0 -8.2 0zM769.6 742.1a4.1 4.1 0 1 0 8.2 0a4.1 4.1 0 1 0 -8.2 0zM772.3 748.3a4.1 4.1 0 1 0 8.2 0a4.1 4.1 0 1 0 -8.2 0zM784.8 743.4a4.1 4.1 0 1 0 8.2 0a4.1 4.1 0 1 0 -8.2 0zM797.6 736.1a4.1 4.1 0 1 0 8.2 0a4.1 4.1 0 1 0 -8.2 0zM814.6 732.7a4.1 4.1 0 1 0 8.2 0a4.1 4.1 0 1 0 -8.2 0zM816.6 739.7a4.1 4.1 0 1 0 8.2 0a4.1 4.1 0 1 0 -8.2 0zM831.2 733a4.1 4.1 0 1 0 8.2 0a4.1 4.1 0 1 0 -8.2 0zM871.9 730.3a4.1 4.1 0 1 0 8.2 0a4.1 4.1 0 1 0 -8.2 0zM813.2 751a4.1 4.1 0 1 0 8.2 0a4.1 4.1 0 1 0 -8.2 0zM807.2 753.7a4.1 4.1 0 1 0 8.2 0a4.1 4.1 0 1 0 -8.2 0zM787.2 754.3a4.1 4.1 0 1 0 8.2 0a4.1 4.1 0 1 0 -8.2 0zM793.9 759.7a4.1 4.1 0 1 0 8.2 0a4.1 4.1 0 1 0 -8.2 0zM795.2 763.7a4.1 4.1 0 1 0 8.2 0a4.1 4.1 0 1 0 -8.2 0zM776.6 760.3a4.1 4.1 0 1 0 8.2 0a4.1 4.1 0 1 0 -8.2 0zM779.2 765a4.1 4.1 0 1 0 8.2 0a4.1 4.1 0 1 0 -8.2 0zM777.9 769a4.1 4.1 0 1 0 8.2 0a4.1 4.1 0 1 0 -8.2 0zM772.6 777.7a4.1 4.1 0 1 0 8.2 0a4.1 4.1 0 1 0 -8.2 0zM777.9 780.3a4.1 4.1 0 1 0 8.2 0a4.1 4.1 0 1 0 -8.2 0zM769.9 772.3a4.1 4.1 0 1 0 8.2 0a4.1 4.1 0 1 0 -8.2 0zM789.9 774.3a4.1 4.1 0 1 0 8.2 0a4.1 4.1 0 1 0 -8.2 0zM790.6 779.7a4.1 4.1 0 1 0 8.2 0a4.1 4.1 0 1 0 -8.2 0zM786.6 785a4.1 4.1 0 1 0 8.2 0a4.1 4.1 0 1 0 -8.2 0zM802.6 771a4.1 4.1 0 1 0 8.2 0a4.1 4.1 0 1 0 -8.2 0zM802.6 782.1a4.1 4.1 0 1 0 8.2 0a4.1 4.1 0 1 0 -8.2 0zM811.2 765a4.1 4.1 0 1 0 8.2 0a4.1 4.1 0 1 0 -8.2 0zM816.6 767.7a4.1 4.1 0 1 0 8.2 0a4.1 4.1 0 1 0 -8.2 0zM825.2 764.3a4.1 4.1 0 1 0 8.2 0a4.1 4.1 0 1 0 -8.2 0zM827.9 769a4.1 4.1 0 1 0 8.2 0a4.1 4.1 0 1 0 -8.2 0zM823.2 773a4.1 4.1 0 1 0 8.2 0a4.1 4.1 0 1 0 -8.2 0zM828.6 775a4.1 4.1 0 1 0 8.2 0a4.1 4.1 0 1 0 -8.2 0zM835.2 765a4.1 4.1 0 1 0 8.2 0a4.1 4.1 0 1 0 -8.2 0zM837.2 772.3a4.1 4.1 0 1 0 8.2 0a4.1 4.1 0 1 0 -8.2 0zM819.9 780.3a4.1 4.1 0 1 0 8.2 0a4.1 4.1 0 1 0 -8.2 0zM813.2 785a4.1 4.1 0 1 0 8.2 0a4.1 4.1 0 1 0 -8.2 0zM814.6 792.3a4.1 4.1 0 1 0 8.2 0a4.1 4.1 0 1 0 -8.2 0zM832.6 786.3a4.1 4.1 0 1 0 8.2 0a4.1 4.1 0 1 0 -8.2 0zM837.2 783.3a4.1 4.1 0 1 0 8.2 0a4.1 4.1 0 1 0 -8.2 0zM862.6 789.7a4.1 4.1 0 1 0 8.2 0a4.1 4.1 0 1 0 -8.2 0zM843.2 755.7a4.1 4.1 0 1 0 8.2 0a4.1 4.1 0 1 0 -8.2 0zM851.2 752.3a4.1 4.1 0 1 0 8.2 0a4.1 4.1 0 1 0 -8.2 0zM847.2 749a4.1 4.1 0 1 0 8.2 0a4.1 4.1 0 1 0 -8.2 0zM856.6 759.9a4.1 4.1 0 1 0 8.2 0a4.1 4.1 0 1 0 -8.2 0zM870.6 757.7a4.1 4.1 0 1 0 8.2 0a4.1 4.1 0 1 0 -8.2 0zM871.2 745a4.1 4.1 0 1 0 8.2 0a4.1 4.1 0 1 0 -8.2 0zM1005.6 624.7a4.1 4.1 0 1 0 8.2 0a4.1 4.1 0 1 0 -8.2 0zM992 658a4.1 4.1 0 1 0 8.2 0a4.1 4.1 0 1 0 -8.2 0zM900.2 670.7a4.1 4.1 0 1 0 8.2 0a4.1 4.1 0 1 0 -8.2 0zM919.8 674.7a4.1 4.1 0 1 0 8.2 0a4.1 4.1 0 1 0 -8.2 0zM959.6 673.3a4.1 4.1 0 1 0 8.2 0a4.1 4.1 0 1 0 -8.2 0zM1006.9 671.6a4.1 4.1 0 1 0 8.2 0a4.1 4.1 0 1 0 -8.2 0zM1018.9 668.3a4.1 4.1 0 1 0 8.2 0a4.1 4.1 0 1 0 -8.2 0zM1055.3 670.9a4.1 4.1 0 1 0 8.2 0a4.1 4.1 0 1 0 -8.2 0zM985.2 684a4.1 4.1 0 1 0 8.2 0a4.1 4.1 0 1 0 -8.2 0zM969.3 690a4.1 4.1 0 1 0 8.2 0a4.1 4.1 0 1 0 -8.2 0zM928.2 703.3a4.1 4.1 0 1 0 8.2 0a4.1 4.1 0 1 0 -8.2 0zM927.6 707.3a4.1 4.1 0 1 0 8.2 0a4.1 4.1 0 1 0 -8.2 0zM946.5 702.9a4.1 4.1 0 1 0 8.2 0a4.1 4.1 0 1 0 -8.2 0zM946.9 708.9a4.1 4.1 0 1 0 8.2 0a4.1 4.1 0 1 0 -8.2 0zM1000.2 706.3a4.1 4.1 0 1 0 8.2 0a4.1 4.1 0 1 0 -8.2 0zM987.6 715.1a4.1 4.1 0 1 0 8.2 0a4.1 4.1 0 1 0 -8.2 0zM886.6 713.3a4.1 4.1 0 1 0 8.2 0a4.1 4.1 0 1 0 -8.2 0zM915.6 719.3a4.1 4.1 0 1 0 8.2 0a4.1 4.1 0 1 0 -8.2 0zM896.9 724a4.1 4.1 0 1 0 8.2 0a4.1 4.1 0 1 0 -8.2 0zM880.9 724a4.1 4.1 0 1 0 8.2 0a4.1 4.1 0 1 0 -8.2 0zM884.9 725.7a4.1 4.1 0 1 0 8.2 0a4.1 4.1 0 1 0 -8.2 0zM938.2 723.3a4.1 4.1 0 1 0 8.2 0a4.1 4.1 0 1 0 -8.2 0zM875.6 729.3a4.1 4.1 0 1 0 8.2 0a4.1 4.1 0 1 0 -8.2 0zM922.2 729.3a4.1 4.1 0 1 0 8.2 0a4.1 4.1 0 1 0 -8.2 0zM915.6 735.7a4.1 4.1 0 1 0 8.2 0a4.1 4.1 0 1 0 -8.2 0zM900.2 736.3a4.1 4.1 0 1 0 8.2 0a4.1 4.1 0 1 0 -8.2 0zM905.6 741.7a4.1 4.1 0 1 0 8.2 0a4.1 4.1 0 1 0 -8.2 0zM878.9 737a4.1 4.1 0 1 0 8.2 0a4.1 4.1 0 1 0 -8.2 0zM888.2 741.7a4.1 4.1 0 1 0 8.2 0a4.1 4.1 0 1 0 -8.2 0zM891.6 738.3a4.1 4.1 0 1 0 8.2 0a4.1 4.1 0 1 0 -8.2 0zM874.9 745a4.1 4.1 0 1 0 8.2 0a4.1 4.1 0 1 0 -8.2 0zM891.6 749.7a4.1 4.1 0 1 0 8.2 0a4.1 4.1 0 1 0 -8.2 0zM890.9 753.7a4.1 4.1 0 1 0 8.2 0a4.1 4.1 0 1 0 -8.2 0zM874.9 751a4.1 4.1 0 1 0 8.2 0a4.1 4.1 0 1 0 -8.2 0zM887.6 758.3a4.1 4.1 0 1 0 8.2 0a4.1 4.1 0 1 0 -8.2 0zM951.3 737a4.1 4.1 0 1 0 8.2 0a4.1 4.1 0 1 0 -8.2 0zM929.6 748.3a4.1 4.1 0 1 0 8.2 0a4.1 4.1 0 1 0 -8.2 0zM932.9 746.7a4.1 4.1 0 1 0 8.2 0a4.1 4.1 0 1 0 -8.2 0zM970.9 748.3a4.1 4.1 0 1 0 8.2 0a4.1 4.1 0 1 0 -8.2 0zM962.5 755a4.1 4.1 0 1 0 8.2 0a4.1 4.1 0 1 0 -8.2 0zM974.2 756.6a4.1 4.1 0 1 0 8.2 0a4.1 4.1 0 1 0 -8.2 0zM879.8 767.7a4.1 4.1 0 1 0 8.2 0a4.1 4.1 0 1 0 -8.2 0zM894.5 770.1a4.1 4.1 0 1 0 8.2 0a4.1 4.1 0 1 0 -8.2 0zM912.2 778.7a4.1 4.1 0 1 0 8.2 0a4.1 4.1 0 1 0 -8.2 0zM916 778.1a4.1 4.1 0 1 0 8.2 0a4.1 4.1 0 1 0 -8.2 0z"/>
<line x1="689.2" y1="801.6" x2="1058.6" y2="682.4" stroke="#000" stroke-width="3.3"/>
<rect x="1040.8" y="777.9" width="124.2" height="39" fill="#fff"/>
<text x="1103.6" y="793.2" font-size="12.3" text-anchor="middle" fill="#1a1a1a">Pearson: 0.723***</text>
<text x="1104" y="810.6" font-size="12.3" text-anchor="middle" fill="#1a1a1a">Spearman: 0.651***</text>
<text x="705.8" y="858.9" font-size="15.5" text-anchor="middle" fill="#444">6</text>
<text x="791" y="858.9" font-size="15.5" text-anchor="middle" fill="#444">7</text>
<text x="876.2" y="858.9" font-size="15.5" text-anchor="middle" fill="#444">8</text>
<text x="961.4" y="858.9" font-size="15.5" text-anchor="middle" fill="#444">9</text>
<text x="1046.6" y="858.9" font-size="15.5" text-anchor="middle" fill="#444">10</text>
<text x="659.7" y="835.4" font-size="15.5" text-anchor="end" fill="#444">4</text>
<text x="659.7" y="763.4" font-size="15.5" text-anchor="end" fill="#444">5</text>
<text x="659.7" y="691.3" font-size="15.5" text-anchor="end" fill="#444">6</text>
<path d="M705.8 838.5v5.0M791 838.5v5.0M876.2 838.5v5.0M961.4 838.5v5.0M1046.6 838.5v5.0M669.7 829.9h-5.0M669.7 757.9h-5.0M669.7 685.8h-5.0" stroke="#333" stroke-width="1.7" fill="none"/>
<text x="587.3" y="602" font-size="19.5" fill="#000">H)</text>
<text x="859.9" y="883.7" font-size="16.3" text-anchor="middle" textLength="245" lengthAdjust="spacingAndGlyphs" fill="#000" xml:space="preserve" style="white-space:pre">mRNA expression COL5A2 (log2)</text>
</g>
<g id="panel-I">
<clipPath id="clipI"><rect x="1254" y="613" width="412" height="223.4"/></clipPath>
<rect x="1254" y="613" width="412" height="223.4" fill="#ebebeb"/>
<g clip-path="url(#clipI)" stroke="#fff" fill="none"><path d="M1333 613V836.4M1419 613V836.4M1505 613V836.4M1591 613V836.4M1254 822.6H1666M1254 786.4H1666M1254 750.2H1666M1254 714H1666M1254 677.8H1666M1254 641.6H1666" stroke-width="1.1"/><path d="M1290 613V836.4M1376 613V836.4M1462 613V836.4M1548 613V836.4M1634 613V836.4M1254 804.5H1666M1254 768.3H1666M1254 732.1H1666M1254 695.9H1666M1254 659.7H1666M1254 623.5H1666" stroke-width="1.9"/></g>
<path class="pts" fill="#0000ff" d="M1454.6 651.7a4.1 4.1 0 1 0 8.2 0a4.1 4.1 0 1 0 -8.2 0zM1398.6 673.1a4.1 4.1 0 1 0 8.2 0a4.1 4.1 0 1 0 -8.2 0zM1413.5 684.7a4.1 4.1 0 1 0 8.2 0a4.1 4.1 0 1 0 -8.2 0zM1426.2 691.7a4.1 4.1 0 1 0 8.2 0a4.1 4.1 0 1 0 -8.2 0zM1436.8 694.7a4.1 4.1 0 1 0 8.2 0a4.1 4.1 0 1 0 -8.2 0zM1316.6 695.3a4.1 4.1 0 1 0 8.2 0a4.1 4.1 0 1 0 -8.2 0zM1322.6 706.9a4.1 4.1 0 1 0 8.2 0a4.1 4.1 0 1 0 -8.2 0zM1327.5 706a4.1 4.1 0 1 0 8.2 0a4.1 4.1 0 1 0 -8.2 0zM1353.6 706.4a4.1 4.1 0 1 0 8.2 0a4.1 4.1 0 1 0 -8.2 0zM1355.2 714a4.1 4.1 0 1 0 8.2 0a4.1 4.1 0 1 0 -8.2 0zM1357.6 719.7a4.1 4.1 0 1 0 8.2 0a4.1 4.1 0 1 0 -8.2 0zM1363.2 726.7a4.1 4.1 0 1 0 8.2 0a4.1 4.1 0 1 0 -8.2 0zM1367.2 726a4.1 4.1 0 1 0 8.2 0a4.1 4.1 0 1 0 -8.2 0zM1379.2 711.7a4.1 4.1 0 1 0 8.2 0a4.1 4.1 0 1 0 -8.2 0zM1382.6 709.7a4.1 4.1 0 1 0 8.2 0a4.1 4.1 0 1 0 -8.2 0zM1387.2 718.7a4.1 4.1 0 1 0 8.2 0a4.1 4.1 0 1 0 -8.2 0zM1393.9 720.4a4.1 4.1 0 1 0 8.2 0a4.1 4.1 0 1 0 -8.2 0zM1392.6 711.7a4.1 4.1 0 1 0 8.2 0a4.1 4.1 0 1 0 -8.2 0zM1397.9 707.3a4.1 4.1 0 1 0 8.2 0a4.1 4.1 0 1 0 -8.2 0zM1403.9 714a4.1 4.1 0 1 0 8.2 0a4.1 4.1 0 1 0 -8.2 0zM1411.2 712.9a4.1 4.1 0 1 0 8.2 0a4.1 4.1 0 1 0 -8.2 0zM1405.9 722.7a4.1 4.1 0 1 0 8.2 0a4.1 4.1 0 1 0 -8.2 0zM1420.6 706a4.1 4.1 0 1 0 8.2 0a4.1 4.1 0 1 0 -8.2 0zM1419.9 710a4.1 4.1 0 1 0 8.2 0a4.1 4.1 0 1 0 -8.2 0zM1421.9 714.7a4.1 4.1 0 1 0 8.2 0a4.1 4.1 0 1 0 -8.2 0zM1433.2 710.4a4.1 4.1 0 1 0 8.2 0a4.1 4.1 0 1 0 -8.2 0zM1438.6 713.1a4.1 4.1 0 1 0 8.2 0a4.1 4.1 0 1 0 -8.2 0zM1455.2 704a4.1 4.1 0 1 0 8.2 0a4.1 4.1 0 1 0 -8.2 0zM1447.9 727.3a4.1 4.1 0 1 0 8.2 0a4.1 4.1 0 1 0 -8.2 0zM1416.6 728a4.1 4.1 0 1 0 8.2 0a4.1 4.1 0 1 0 -8.2 0zM1403.2 728a4.1 4.1 0 1 0 8.2 0a4.1 4.1 0 1 0 -8.2 0zM1268.8 818.3a4.1 4.1 0 1 0 8.2 0a4.1 4.1 0 1 0 -8.2 0zM1285.5 810.6a4.1 4.1 0 1 0 8.2 0a4.1 4.1 0 1 0 -8.2 0zM1290.8 815a4.1 4.1 0 1 0 8.2 0a4.1 4.1 0 1 0 -8.2 0zM1362.8 826.6a4.1 4.1 0 1 0 8.2 0a4.1 4.1 0 1 0 -8.2 0zM1373.5 805.4a4.1 4.1 0 1 0 8.2 0a4.1 4.1 0 1 0 -8.2 0zM1286.3 763.7a4.1 4.1 0 1 0 8.2 0a4.1 4.1 0 1 0 -8.2 0zM1295.5 757.7a4.1 4.1 0 1 0 8.2 0a4.1 4.1 0 1 0 -8.2 0zM1325.2 745.3a4.1 4.1 0 1 0 8.2 0a4.1 4.1 0 1 0 -8.2 0zM1337.9 738.3a4.1 4.1 0 1 0 8.2 0a4.1 4.1 0 1 0 -8.2 0zM1346.6 737.4a4.1 4.1 0 1 0 8.2 0a4.1 4.1 0 1 0 -8.2 0zM1338.8 749.7a4.1 4.1 0 1 0 8.2 0a4.1 4.1 0 1 0 -8.2 0zM1332.3 762.6a4.1 4.1 0 1 0 8.2 0a4.1 4.1 0 1 0 -8.2 0zM1312.3 780.7a4.1 4.1 0 1 0 8.2 0a4.1 4.1 0 1 0 -8.2 0zM1322.6 783.7a4.1 4.1 0 1 0 8.2 0a4.1 4.1 0 1 0 -8.2 0zM1320.6 788.3a4.1 4.1 0 1 0 8.2 0a4.1 4.1 0 1 0 -8.2 0zM1308.6 791.7a4.1 4.1 0 1 0 8.2 0a4.1 4.1 0 1 0 -8.2 0zM1326.6 797.9a4.1 4.1 0 1 0 8.2 0a4.1 4.1 0 1 0 -8.2 0zM1337 788.1a4.1 4.1 0 1 0 8.2 0a4.1 4.1 0 1 0 -8.2 0zM1341.9 798.7a4.1 4.1 0 1 0 8.2 0a4.1 4.1 0 1 0 -8.2 0zM1360.3 796.6a4.1 4.1 0 1 0 8.2 0a4.1 4.1 0 1 0 -8.2 0zM1375 786.3a4.1 4.1 0 1 0 8.2 0a4.1 4.1 0 1 0 -8.2 0zM1339.9 770.3a4.1 4.1 0 1 0 8.2 0a4.1 4.1 0 1 0 -8.2 0zM1346.6 773.7a4.1 4.1 0 1 0 8.2 0a4.1 4.1 0 1 0 -8.2 0zM1349.9 771a4.1 4.1 0 1 0 8.2 0a4.1 4.1 0 1 0 -8.2 0zM1353.9 778.3a4.1 4.1 0 1 0 8.2 0a4.1 4.1 0 1 0 -8.2 0zM1351.2 762.3a4.1 4.1 0 1 0 8.2 0a4.1 4.1 0 1 0 -8.2 0zM1361.9 763.7a4.1 4.1 0 1 0 8.2 0a4.1 4.1 0 1 0 -8.2 0zM1361.9 780.3a4.1 4.1 0 1 0 8.2 0a4.1 4.1 0 1 0 -8.2 0zM1365.2 775a4.1 4.1 0 1 0 8.2 0a4.1 4.1 0 1 0 -8.2 0zM1365.2 771a4.1 4.1 0 1 0 8.2 0a4.1 4.1 0 1 0 -8.2 0zM1375.9 775a4.1 4.1 0 1 0 8.2 0a4.1 4.1 0 1 0 -8.2 0zM1372.6 767.7a4.1 4.1 0 1 0 8.2 0a4.1 4.1 0 1 0 -8.2 0zM1375.9 761.7a4.1 4.1 0 1 0 8.2 0a4.1 4.1 0 1 0 -8.2 0zM1365.9 758.3a4.1 4.1 0 1 0 8.2 0a4.1 4.1 0 1 0 -8.2 0zM1371.2 755a4.1 4.1 0 1 0 8.2 0a4.1 4.1 0 1 0 -8.2 0zM1375.9 753.7a4.1 4.1 0 1 0 8.2 0a4.1 4.1 0 1 0 -8.2 0zM1383.2 755a4.1 4.1 0 1 0 8.2 0a4.1 4.1 0 1 0 -8.2 0zM1387.2 753.4a4.1 4.1 0 1 0 8.2 0a4.1 4.1 0 1 0 -8.2 0zM1387.9 765.4a4.1 4.1 0 1 0 8.2 0a4.1 4.1 0 1 0 -8.2 0zM1399.6 778.7a4.1 4.1 0 1 0 8.2 0a4.1 4.1 0 1 0 -8.2 0zM1397.9 758.3a4.1 4.1 0 1 0 8.2 0a4.1 4.1 0 1 0 -8.2 0zM1401.9 760.7a4.1 4.1 0 1 0 8.2 0a4.1 4.1 0 1 0 -8.2 0zM1399.9 749.7a4.1 4.1 0 1 0 8.2 0a4.1 4.1 0 1 0 -8.2 0zM1405.2 750.7a4.1 4.1 0 1 0 8.2 0a4.1 4.1 0 1 0 -8.2 0zM1417.9 753.9a4.1 4.1 0 1 0 8.2 0a4.1 4.1 0 1 0 -8.2 0zM1410.6 766.3a4.1 4.1 0 1 0 8.2 0a4.1 4.1 0 1 0 -8.2 0zM1414.6 768.3a4.1 4.1 0 1 0 8.2 0a4.1 4.1 0 1 0 -8.2 0zM1415 771.7a4.1 4.1 0 1 0 8.2 0a4.1 4.1 0 1 0 -8.2 0zM1423 769.4a4.1 4.1 0 1 0 8.2 0a4.1 4.1 0 1 0 -8.2 0zM1441.9 759.9a4.1 4.1 0 1 0 8.2 0a4.1 4.1 0 1 0 -8.2 0zM1433.9 744.6a4.1 4.1 0 1 0 8.2 0a4.1 4.1 0 1 0 -8.2 0zM1422.6 737.9a4.1 4.1 0 1 0 8.2 0a4.1 4.1 0 1 0 -8.2 0zM1430.6 737.4a4.1 4.1 0 1 0 8.2 0a4.1 4.1 0 1 0 -8.2 0zM1409.2 739.7a4.1 4.1 0 1 0 8.2 0a4.1 4.1 0 1 0 -8.2 0zM1391.9 733a4.1 4.1 0 1 0 8.2 0a4.1 4.1 0 1 0 -8.2 0zM1397.9 731.7a4.1 4.1 0 1 0 8.2 0a4.1 4.1 0 1 0 -8.2 0zM1429.2 729a4.1 4.1 0 1 0 8.2 0a4.1 4.1 0 1 0 -8.2 0zM1370.6 737.4a4.1 4.1 0 1 0 8.2 0a4.1 4.1 0 1 0 -8.2 0zM1355.2 732.3a4.1 4.1 0 1 0 8.2 0a4.1 4.1 0 1 0 -8.2 0zM1357.2 736.3a4.1 4.1 0 1 0 8.2 0a4.1 4.1 0 1 0 -8.2 0zM1360.6 735a4.1 4.1 0 1 0 8.2 0a4.1 4.1 0 1 0 -8.2 0zM1555.9 622.7a4.1 4.1 0 1 0 8.2 0a4.1 4.1 0 1 0 -8.2 0zM1546.3 629.6a4.1 4.1 0 1 0 8.2 0a4.1 4.1 0 1 0 -8.2 0zM1557.9 640.4a4.1 4.1 0 1 0 8.2 0a4.1 4.1 0 1 0 -8.2 0zM1486.6 638.4a4.1 4.1 0 1 0 8.2 0a4.1 4.1 0 1 0 -8.2 0zM1506.6 648.3a4.1 4.1 0 1 0 8.2 0a4.1 4.1 0 1 0 -8.2 0zM1515.6 649.7a4.1 4.1 0 1 0 8.2 0a4.1 4.1 0 1 0 -8.2 0zM1473.2 657.6a4.1 4.1 0 1 0 8.2 0a4.1 4.1 0 1 0 -8.2 0zM1498.8 656.9a4.1 4.1 0 1 0 8.2 0a4.1 4.1 0 1 0 -8.2 0zM1533.2 654.7a4.1 4.1 0 1 0 8.2 0a4.1 4.1 0 1 0 -8.2 0zM1593 644.7a4.1 4.1 0 1 0 8.2 0a4.1 4.1 0 1 0 -8.2 0zM1572.2 653.7a4.1 4.1 0 1 0 8.2 0a4.1 4.1 0 1 0 -8.2 0zM1594.6 658a4.1 4.1 0 1 0 8.2 0a4.1 4.1 0 1 0 -8.2 0zM1643.2 663.1a4.1 4.1 0 1 0 8.2 0a4.1 4.1 0 1 0 -8.2 0zM1549.5 665.3a4.1 4.1 0 1 0 8.2 0a4.1 4.1 0 1 0 -8.2 0zM1518.8 669.7a4.1 4.1 0 1 0 8.2 0a4.1 4.1 0 1 0 -8.2 0zM1533.6 670.7a4.1 4.1 0 1 0 8.2 0a4.1 4.1 0 1 0 -8.2 0zM1461 671.3a4.1 4.1 0 1 0 8.2 0a4.1 4.1 0 1 0 -8.2 0zM1574.6 671.3a4.1 4.1 0 1 0 8.2 0a4.1 4.1 0 1 0 -8.2 0zM1579.2 674.7a4.1 4.1 0 1 0 8.2 0a4.1 4.1 0 1 0 -8.2 0zM1606.2 675.3a4.1 4.1 0 1 0 8.2 0a4.1 4.1 0 1 0 -8.2 0zM1502.8 683.6a4.1 4.1 0 1 0 8.2 0a4.1 4.1 0 1 0 -8.2 0zM1514.2 683.6a4.1 4.1 0 1 0 8.2 0a4.1 4.1 0 1 0 -8.2 0zM1489.9 689.3a4.1 4.1 0 1 0 8.2 0a4.1 4.1 0 1 0 -8.2 0zM1477.5 694.3a4.1 4.1 0 1 0 8.2 0a4.1 4.1 0 1 0 -8.2 0zM1587.5 694.7a4.1 4.1 0 1 0 8.2 0a4.1 4.1 0 1 0 -8.2 0zM1524.6 697.3a4.1 4.1 0 1 0 8.2 0a4.1 4.1 0 1 0 -8.2 0zM1501.2 700.3a4.1 4.1 0 1 0 8.2 0a4.1 4.1 0 1 0 -8.2 0zM1516.6 706a4.1 4.1 0 1 0 8.2 0a4.1 4.1 0 1 0 -8.2 0zM1538.2 706.4a4.1 4.1 0 1 0 8.2 0a4.1 4.1 0 1 0 -8.2 0zM1483.9 707.3a4.1 4.1 0 1 0 8.2 0a4.1 4.1 0 1 0 -8.2 0zM1479.9 711.3a4.1 4.1 0 1 0 8.2 0a4.1 4.1 0 1 0 -8.2 0zM1473.9 711.3a4.1 4.1 0 1 0 8.2 0a4.1 4.1 0 1 0 -8.2 0zM1477.9 714.7a4.1 4.1 0 1 0 8.2 0a4.1 4.1 0 1 0 -8.2 0zM1508.2 718.9a4.1 4.1 0 1 0 8.2 0a4.1 4.1 0 1 0 -8.2 0zM1460.6 721.3a4.1 4.1 0 1 0 8.2 0a4.1 4.1 0 1 0 -8.2 0zM1459.9 726a4.1 4.1 0 1 0 8.2 0a4.1 4.1 0 1 0 -8.2 0zM1470.6 724a4.1 4.1 0 1 0 8.2 0a4.1 4.1 0 1 0 -8.2 0zM1477.9 722a4.1 4.1 0 1 0 8.2 0a4.1 4.1 0 1 0 -8.2 0zM1501.9 728a4.1 4.1 0 1 0 8.2 0a4.1 4.1 0 1 0 -8.2 0zM1460.6 734.3a4.1 4.1 0 1 0 8.2 0a4.1 4.1 0 1 0 -8.2 0zM1473.2 729a4.1 4.1 0 1 0 8.2 0a4.1 4.1 0 1 0 -8.2 0zM1466.6 735.7a4.1 4.1 0 1 0 8.2 0a4.1 4.1 0 1 0 -8.2 0zM1486.6 741.4a4.1 4.1 0 1 0 8.2 0a4.1 4.1 0 1 0 -8.2 0zM1501.9 742.1a4.1 4.1 0 1 0 8.2 0a4.1 4.1 0 1 0 -8.2 0zM1560.8 742.7a4.1 4.1 0 1 0 8.2 0a4.1 4.1 0 1 0 -8.2 0zM1465.2 749.7a4.1 4.1 0 1 0 8.2 0a4.1 4.1 0 1 0 -8.2 0zM1465.6 754.6a4.1 4.1 0 1 0 8.2 0a4.1 4.1 0 1 0 -8.2 0z"/>
<line x1="1273.8" y1="791.5" x2="1646.7" y2="639" stroke="#000" stroke-width="3.3"/>
<rect x="1602.6" y="778.3" width="127.4" height="48.8" fill="#fff"/>
<text x="1666.9" y="797.4" font-size="12.3" text-anchor="middle" fill="#1a1a1a">Pearson: 0.74***</text>
<text x="1666.6" y="814.4" font-size="12.3" text-anchor="middle" fill="#1a1a1a">Spearman: 0.71***</text>
<text x="1290" y="859" font-size="15.5" text-anchor="middle" fill="#444">6</text>
<text x="1376" y="859" font-size="15.5" text-anchor="middle" fill="#444">7</text>
<text x="1462" y="859" font-size="15.5" text-anchor="middle" fill="#444">8</text>
<text x="1548" y="859" font-size="15.5" text-anchor="middle" fill="#444">9</text>
<text x="1634" y="859" font-size="15.5" text-anchor="middle" fill="#444">10</text>
<text x="1244" y="810" font-size="15.5" text-anchor="end" fill="#444">4</text>
<text x="1244" y="773.8" font-size="15.5" text-anchor="end" fill="#444">5</text>
<text x="1244" y="737.6" font-size="15.5" text-anchor="end" fill="#444">6</text>
<text x="1244" y="701.4" font-size="15.5" text-anchor="end" fill="#444">7</text>
<text x="1244" y="665.2" font-size="15.5" text-anchor="end" fill="#444">8</text>
<text x="1244" y="629" font-size="15.5" text-anchor="end" fill="#444">9</text>
<path d="M1290 839.4v5.0M1376 839.4v5.0M1462 839.4v5.0M1548 839.4v5.0M1634 839.4v5.0M1254 804.5h-5.0M1254 768.3h-5.0M1254 732.1h-5.0M1254 695.9h-5.0M1254 659.7h-5.0M1254 623.5h-5.0" stroke="#333" stroke-width="1.7" fill="none"/>
<text x="1175.8" y="602" font-size="19.5" fill="#000">I)</text>
<text x="1702.6" y="686.9" font-size="20" font-weight="bold" textLength="51.8" lengthAdjust="spacingAndGlyphs" fill="#000">BCON</text>
<text x="1489.1" y="883.1" font-size="16.3" text-anchor="middle" textLength="245.3" lengthAdjust="spacingAndGlyphs" fill="#000" xml:space="preserve" style="white-space:pre">mRNA expression COL1A1 (log2)</text>
</g>
<text x="1703.4" y="104.6" font-size="20" font-weight="bold" textLength="54.9" lengthAdjust="spacingAndGlyphs" fill="#000">TCGA</text>
<text x="1704.3" y="127.4" font-size="20" font-weight="bold" textLength="52.5" lengthAdjust="spacingAndGlyphs" fill="#000">BLCA</text>
</g>
</svg>
</body>
</html>
